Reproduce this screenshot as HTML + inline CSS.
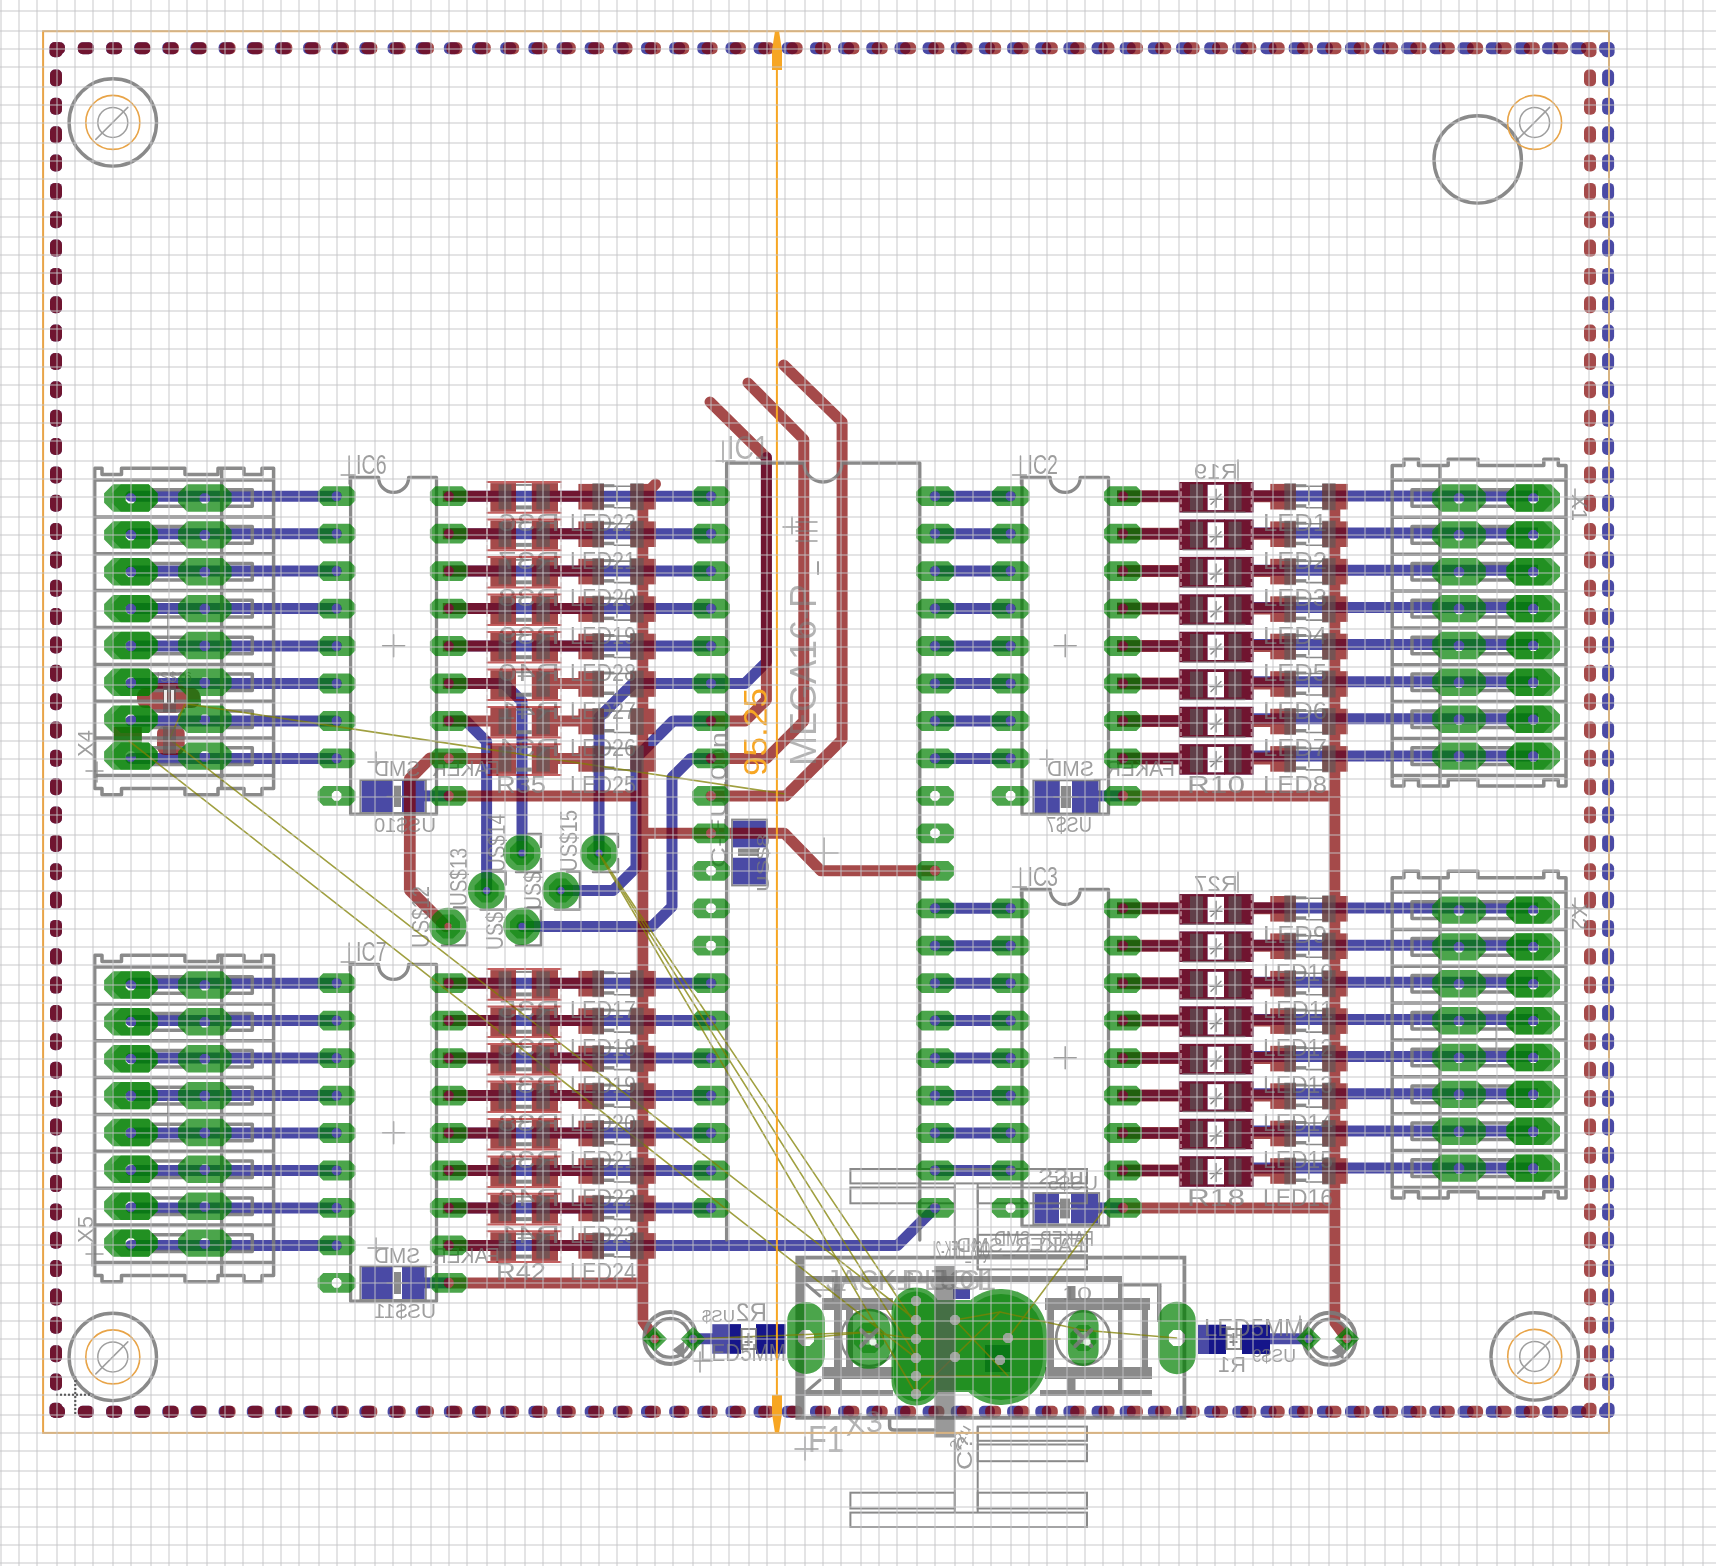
<!DOCTYPE html>
<html><head><meta charset="utf-8"><title>board</title>
<style>html,body{margin:0;padding:0;background:#fff}svg{display:block}text{font-family:"Liberation Sans",sans-serif}</style></head>
<body>
<svg width="1716" height="1566" viewBox="0 0 1716 1566">
<rect width="1716" height="1566" fill="#ffffff"/>
<g id="l_bot" color="#000080" opacity="0.706">
<rect x="49.5" y="42.2" width="13" height="15" rx="5" fill="currentColor"/>
<rect x="50" y="42.2" width="15" height="12" rx="5" fill="currentColor"/>
<rect x="49.5" y="1402.8" width="13" height="15" rx="5" fill="currentColor"/>
<rect x="50" y="1405.8" width="15" height="12" rx="5" fill="currentColor"/>
<rect x="77.8" y="42.2" width="16" height="12" rx="5" fill="currentColor"/>
<rect x="77.8" y="1405.8" width="16" height="12" rx="5" fill="currentColor"/>
<rect x="106" y="42.2" width="16" height="12" rx="5" fill="currentColor"/>
<rect x="106" y="1405.8" width="16" height="12" rx="5" fill="currentColor"/>
<rect x="134.1" y="42.2" width="16" height="12" rx="5" fill="currentColor"/>
<rect x="134.1" y="1405.8" width="16" height="12" rx="5" fill="currentColor"/>
<rect x="162.3" y="42.2" width="16" height="12" rx="5" fill="currentColor"/>
<rect x="162.3" y="1405.8" width="16" height="12" rx="5" fill="currentColor"/>
<rect x="190.4" y="42.2" width="16" height="12" rx="5" fill="currentColor"/>
<rect x="190.4" y="1405.8" width="16" height="12" rx="5" fill="currentColor"/>
<rect x="218.6" y="42.2" width="16" height="12" rx="5" fill="currentColor"/>
<rect x="218.6" y="1405.8" width="16" height="12" rx="5" fill="currentColor"/>
<rect x="246.8" y="42.2" width="16" height="12" rx="5" fill="currentColor"/>
<rect x="246.8" y="1405.8" width="16" height="12" rx="5" fill="currentColor"/>
<rect x="274.9" y="42.2" width="16" height="12" rx="5" fill="currentColor"/>
<rect x="274.9" y="1405.8" width="16" height="12" rx="5" fill="currentColor"/>
<rect x="303.1" y="42.2" width="16" height="12" rx="5" fill="currentColor"/>
<rect x="303.1" y="1405.8" width="16" height="12" rx="5" fill="currentColor"/>
<rect x="331.2" y="42.2" width="16" height="12" rx="5" fill="currentColor"/>
<rect x="331.2" y="1405.8" width="16" height="12" rx="5" fill="currentColor"/>
<rect x="359.4" y="42.2" width="16" height="12" rx="5" fill="currentColor"/>
<rect x="359.4" y="1405.8" width="16" height="12" rx="5" fill="currentColor"/>
<rect x="387.6" y="42.2" width="16" height="12" rx="5" fill="currentColor"/>
<rect x="387.6" y="1405.8" width="16" height="12" rx="5" fill="currentColor"/>
<rect x="415.7" y="42.2" width="16" height="12" rx="5" fill="currentColor"/>
<rect x="415.7" y="1405.8" width="16" height="12" rx="5" fill="currentColor"/>
<rect x="443.9" y="42.2" width="16" height="12" rx="5" fill="currentColor"/>
<rect x="443.9" y="1405.8" width="16" height="12" rx="5" fill="currentColor"/>
<rect x="472" y="42.2" width="16" height="12" rx="5" fill="currentColor"/>
<rect x="472" y="1405.8" width="16" height="12" rx="5" fill="currentColor"/>
<rect x="500.2" y="42.2" width="16" height="12" rx="5" fill="currentColor"/>
<rect x="500.2" y="1405.8" width="16" height="12" rx="5" fill="currentColor"/>
<rect x="528.4" y="42.2" width="16" height="12" rx="5" fill="currentColor"/>
<rect x="528.4" y="1405.8" width="16" height="12" rx="5" fill="currentColor"/>
<rect x="556.5" y="42.2" width="16" height="12" rx="5" fill="currentColor"/>
<rect x="556.5" y="1405.8" width="16" height="12" rx="5" fill="currentColor"/>
<rect x="584.7" y="42.2" width="16" height="12" rx="5" fill="currentColor"/>
<rect x="584.7" y="1405.8" width="16" height="12" rx="5" fill="currentColor"/>
<rect x="612.8" y="42.2" width="16" height="12" rx="5" fill="currentColor"/>
<rect x="612.8" y="1405.8" width="16" height="12" rx="5" fill="currentColor"/>
<rect x="641" y="42.2" width="16" height="12" rx="5" fill="currentColor"/>
<rect x="641" y="1405.8" width="16" height="12" rx="5" fill="currentColor"/>
<rect x="669.2" y="42.2" width="16" height="12" rx="5" fill="currentColor"/>
<rect x="669.2" y="1405.8" width="16" height="12" rx="5" fill="currentColor"/>
<rect x="697.3" y="42.2" width="16" height="12" rx="5" fill="currentColor"/>
<rect x="697.3" y="1405.8" width="16" height="12" rx="5" fill="currentColor"/>
<rect x="725.5" y="42.2" width="16" height="12" rx="5" fill="currentColor"/>
<rect x="725.5" y="1405.8" width="16" height="12" rx="5" fill="currentColor"/>
<rect x="753.6" y="42.2" width="16" height="12" rx="5" fill="currentColor"/>
<rect x="753.6" y="1405.8" width="16" height="12" rx="5" fill="currentColor"/>
<rect x="781.8" y="42.2" width="16" height="12" rx="5" fill="currentColor"/>
<rect x="781.8" y="1405.8" width="16" height="12" rx="5" fill="currentColor"/>
<rect x="810" y="42.2" width="16" height="12" rx="5" fill="currentColor"/>
<rect x="810" y="1405.8" width="16" height="12" rx="5" fill="currentColor"/>
<rect x="838.1" y="42.2" width="16" height="12" rx="5" fill="currentColor"/>
<rect x="838.1" y="1405.8" width="16" height="12" rx="5" fill="currentColor"/>
<rect x="866.3" y="42.2" width="16" height="12" rx="5" fill="currentColor"/>
<rect x="866.3" y="1405.8" width="16" height="12" rx="5" fill="currentColor"/>
<rect x="894.5" y="42.2" width="16" height="12" rx="5" fill="currentColor"/>
<rect x="894.5" y="1405.8" width="16" height="12" rx="5" fill="currentColor"/>
<rect x="922.6" y="42.2" width="16" height="12" rx="5" fill="currentColor"/>
<rect x="922.6" y="1405.8" width="16" height="12" rx="5" fill="currentColor"/>
<rect x="950.8" y="42.2" width="16" height="12" rx="5" fill="currentColor"/>
<rect x="950.8" y="1405.8" width="16" height="12" rx="5" fill="currentColor"/>
<rect x="978.9" y="42.2" width="16" height="12" rx="5" fill="currentColor"/>
<rect x="978.9" y="1405.8" width="16" height="12" rx="5" fill="currentColor"/>
<rect x="1007.1" y="42.2" width="16" height="12" rx="5" fill="currentColor"/>
<rect x="1007.1" y="1405.8" width="16" height="12" rx="5" fill="currentColor"/>
<rect x="1035.3" y="42.2" width="16" height="12" rx="5" fill="currentColor"/>
<rect x="1035.3" y="1405.8" width="16" height="12" rx="5" fill="currentColor"/>
<rect x="1063.4" y="42.2" width="16" height="12" rx="5" fill="currentColor"/>
<rect x="1063.4" y="1405.8" width="16" height="12" rx="5" fill="currentColor"/>
<rect x="1091.6" y="42.2" width="16" height="12" rx="5" fill="currentColor"/>
<rect x="1091.6" y="1405.8" width="16" height="12" rx="5" fill="currentColor"/>
<rect x="1119.7" y="42.2" width="16" height="12" rx="5" fill="currentColor"/>
<rect x="1119.7" y="1405.8" width="16" height="12" rx="5" fill="currentColor"/>
<rect x="1147.9" y="42.2" width="16" height="12" rx="5" fill="currentColor"/>
<rect x="1147.9" y="1405.8" width="16" height="12" rx="5" fill="currentColor"/>
<rect x="1176.1" y="42.2" width="16" height="12" rx="5" fill="currentColor"/>
<rect x="1176.1" y="1405.8" width="16" height="12" rx="5" fill="currentColor"/>
<rect x="1204.2" y="42.2" width="16" height="12" rx="5" fill="currentColor"/>
<rect x="1204.2" y="1405.8" width="16" height="12" rx="5" fill="currentColor"/>
<rect x="1232.4" y="42.2" width="16" height="12" rx="5" fill="currentColor"/>
<rect x="1232.4" y="1405.8" width="16" height="12" rx="5" fill="currentColor"/>
<rect x="1260.5" y="42.2" width="16" height="12" rx="5" fill="currentColor"/>
<rect x="1260.5" y="1405.8" width="16" height="12" rx="5" fill="currentColor"/>
<rect x="1288.7" y="42.2" width="16" height="12" rx="5" fill="currentColor"/>
<rect x="1288.7" y="1405.8" width="16" height="12" rx="5" fill="currentColor"/>
<rect x="1316.9" y="42.2" width="16" height="12" rx="5" fill="currentColor"/>
<rect x="1316.9" y="1405.8" width="16" height="12" rx="5" fill="currentColor"/>
<rect x="1345" y="42.2" width="16" height="12" rx="5" fill="currentColor"/>
<rect x="1345" y="1405.8" width="16" height="12" rx="5" fill="currentColor"/>
<rect x="1373.2" y="42.2" width="16" height="12" rx="5" fill="currentColor"/>
<rect x="1373.2" y="1405.8" width="16" height="12" rx="5" fill="currentColor"/>
<rect x="1401.3" y="42.2" width="16" height="12" rx="5" fill="currentColor"/>
<rect x="1401.3" y="1405.8" width="16" height="12" rx="5" fill="currentColor"/>
<rect x="1429.5" y="42.2" width="16" height="12" rx="5" fill="currentColor"/>
<rect x="1429.5" y="1405.8" width="16" height="12" rx="5" fill="currentColor"/>
<rect x="1457.7" y="42.2" width="16" height="12" rx="5" fill="currentColor"/>
<rect x="1457.7" y="1405.8" width="16" height="12" rx="5" fill="currentColor"/>
<rect x="1485.8" y="42.2" width="16" height="12" rx="5" fill="currentColor"/>
<rect x="1485.8" y="1405.8" width="16" height="12" rx="5" fill="currentColor"/>
<rect x="1514" y="42.2" width="16" height="12" rx="5" fill="currentColor"/>
<rect x="1514" y="1405.8" width="16" height="12" rx="5" fill="currentColor"/>
<rect x="1542.1" y="42.2" width="16" height="12" rx="5" fill="currentColor"/>
<rect x="1542.1" y="1405.8" width="16" height="12" rx="5" fill="currentColor"/>
<rect x="1570.3" y="42.2" width="16" height="12" rx="5" fill="currentColor"/>
<rect x="1570.3" y="1405.8" width="16" height="12" rx="5" fill="currentColor"/>
<rect x="1601.6" y="42.2" width="13" height="15" rx="5" fill="currentColor"/>
<rect x="1599.1" y="42.2" width="15" height="12" rx="5" fill="currentColor"/>
<rect x="1601.6" y="1402.8" width="13" height="15" rx="5" fill="currentColor"/>
<rect x="1599.1" y="1405.8" width="15" height="12" rx="5" fill="currentColor"/>
<rect x="50" y="69.5" width="12" height="17" rx="5" fill="currentColor"/>
<rect x="1602.1" y="69.5" width="12" height="17" rx="5" fill="currentColor"/>
<rect x="50" y="97.8" width="12" height="17" rx="5" fill="currentColor"/>
<rect x="1602.1" y="97.8" width="12" height="17" rx="5" fill="currentColor"/>
<rect x="50" y="126.2" width="12" height="17" rx="5" fill="currentColor"/>
<rect x="1602.1" y="126.2" width="12" height="17" rx="5" fill="currentColor"/>
<rect x="50" y="154.5" width="12" height="17" rx="5" fill="currentColor"/>
<rect x="1602.1" y="154.5" width="12" height="17" rx="5" fill="currentColor"/>
<rect x="50" y="182.9" width="12" height="17" rx="5" fill="currentColor"/>
<rect x="1602.1" y="182.9" width="12" height="17" rx="5" fill="currentColor"/>
<rect x="50" y="211.2" width="12" height="17" rx="5" fill="currentColor"/>
<rect x="1602.1" y="211.2" width="12" height="17" rx="5" fill="currentColor"/>
<rect x="50" y="239.6" width="12" height="17" rx="5" fill="currentColor"/>
<rect x="1602.1" y="239.6" width="12" height="17" rx="5" fill="currentColor"/>
<rect x="50" y="267.9" width="12" height="17" rx="5" fill="currentColor"/>
<rect x="1602.1" y="267.9" width="12" height="17" rx="5" fill="currentColor"/>
<rect x="50" y="296.3" width="12" height="17" rx="5" fill="currentColor"/>
<rect x="1602.1" y="296.3" width="12" height="17" rx="5" fill="currentColor"/>
<rect x="50" y="324.6" width="12" height="17" rx="5" fill="currentColor"/>
<rect x="1602.1" y="324.6" width="12" height="17" rx="5" fill="currentColor"/>
<rect x="50" y="353" width="12" height="17" rx="5" fill="currentColor"/>
<rect x="1602.1" y="353" width="12" height="17" rx="5" fill="currentColor"/>
<rect x="50" y="381.3" width="12" height="17" rx="5" fill="currentColor"/>
<rect x="1602.1" y="381.3" width="12" height="17" rx="5" fill="currentColor"/>
<rect x="50" y="409.7" width="12" height="17" rx="5" fill="currentColor"/>
<rect x="1602.1" y="409.7" width="12" height="17" rx="5" fill="currentColor"/>
<rect x="50" y="438" width="12" height="17" rx="5" fill="currentColor"/>
<rect x="1602.1" y="438" width="12" height="17" rx="5" fill="currentColor"/>
<rect x="50" y="466.4" width="12" height="17" rx="5" fill="currentColor"/>
<rect x="1602.1" y="466.4" width="12" height="17" rx="5" fill="currentColor"/>
<rect x="50" y="494.7" width="12" height="17" rx="5" fill="currentColor"/>
<rect x="1602.1" y="494.7" width="12" height="17" rx="5" fill="currentColor"/>
<rect x="50" y="523.1" width="12" height="17" rx="5" fill="currentColor"/>
<rect x="1602.1" y="523.1" width="12" height="17" rx="5" fill="currentColor"/>
<rect x="50" y="551.4" width="12" height="17" rx="5" fill="currentColor"/>
<rect x="1602.1" y="551.4" width="12" height="17" rx="5" fill="currentColor"/>
<rect x="50" y="579.8" width="12" height="17" rx="5" fill="currentColor"/>
<rect x="1602.1" y="579.8" width="12" height="17" rx="5" fill="currentColor"/>
<rect x="50" y="608.1" width="12" height="17" rx="5" fill="currentColor"/>
<rect x="1602.1" y="608.1" width="12" height="17" rx="5" fill="currentColor"/>
<rect x="50" y="636.5" width="12" height="17" rx="5" fill="currentColor"/>
<rect x="1602.1" y="636.5" width="12" height="17" rx="5" fill="currentColor"/>
<rect x="50" y="664.8" width="12" height="17" rx="5" fill="currentColor"/>
<rect x="1602.1" y="664.8" width="12" height="17" rx="5" fill="currentColor"/>
<rect x="50" y="693.2" width="12" height="17" rx="5" fill="currentColor"/>
<rect x="1602.1" y="693.2" width="12" height="17" rx="5" fill="currentColor"/>
<rect x="50" y="721.5" width="12" height="17" rx="5" fill="currentColor"/>
<rect x="1602.1" y="721.5" width="12" height="17" rx="5" fill="currentColor"/>
<rect x="50" y="749.8" width="12" height="17" rx="5" fill="currentColor"/>
<rect x="1602.1" y="749.8" width="12" height="17" rx="5" fill="currentColor"/>
<rect x="50" y="778.2" width="12" height="17" rx="5" fill="currentColor"/>
<rect x="1602.1" y="778.2" width="12" height="17" rx="5" fill="currentColor"/>
<rect x="50" y="806.5" width="12" height="17" rx="5" fill="currentColor"/>
<rect x="1602.1" y="806.5" width="12" height="17" rx="5" fill="currentColor"/>
<rect x="50" y="834.9" width="12" height="17" rx="5" fill="currentColor"/>
<rect x="1602.1" y="834.9" width="12" height="17" rx="5" fill="currentColor"/>
<rect x="50" y="863.2" width="12" height="17" rx="5" fill="currentColor"/>
<rect x="1602.1" y="863.2" width="12" height="17" rx="5" fill="currentColor"/>
<rect x="50" y="891.6" width="12" height="17" rx="5" fill="currentColor"/>
<rect x="1602.1" y="891.6" width="12" height="17" rx="5" fill="currentColor"/>
<rect x="50" y="919.9" width="12" height="17" rx="5" fill="currentColor"/>
<rect x="1602.1" y="919.9" width="12" height="17" rx="5" fill="currentColor"/>
<rect x="50" y="948.3" width="12" height="17" rx="5" fill="currentColor"/>
<rect x="1602.1" y="948.3" width="12" height="17" rx="5" fill="currentColor"/>
<rect x="50" y="976.6" width="12" height="17" rx="5" fill="currentColor"/>
<rect x="1602.1" y="976.6" width="12" height="17" rx="5" fill="currentColor"/>
<rect x="50" y="1005" width="12" height="17" rx="5" fill="currentColor"/>
<rect x="1602.1" y="1005" width="12" height="17" rx="5" fill="currentColor"/>
<rect x="50" y="1033.3" width="12" height="17" rx="5" fill="currentColor"/>
<rect x="1602.1" y="1033.3" width="12" height="17" rx="5" fill="currentColor"/>
<rect x="50" y="1061.7" width="12" height="17" rx="5" fill="currentColor"/>
<rect x="1602.1" y="1061.7" width="12" height="17" rx="5" fill="currentColor"/>
<rect x="50" y="1090" width="12" height="17" rx="5" fill="currentColor"/>
<rect x="1602.1" y="1090" width="12" height="17" rx="5" fill="currentColor"/>
<rect x="50" y="1118.4" width="12" height="17" rx="5" fill="currentColor"/>
<rect x="1602.1" y="1118.4" width="12" height="17" rx="5" fill="currentColor"/>
<rect x="50" y="1146.7" width="12" height="17" rx="5" fill="currentColor"/>
<rect x="1602.1" y="1146.7" width="12" height="17" rx="5" fill="currentColor"/>
<rect x="50" y="1175.1" width="12" height="17" rx="5" fill="currentColor"/>
<rect x="1602.1" y="1175.1" width="12" height="17" rx="5" fill="currentColor"/>
<rect x="50" y="1203.4" width="12" height="17" rx="5" fill="currentColor"/>
<rect x="1602.1" y="1203.4" width="12" height="17" rx="5" fill="currentColor"/>
<rect x="50" y="1231.8" width="12" height="17" rx="5" fill="currentColor"/>
<rect x="1602.1" y="1231.8" width="12" height="17" rx="5" fill="currentColor"/>
<rect x="50" y="1260.1" width="12" height="17" rx="5" fill="currentColor"/>
<rect x="1602.1" y="1260.1" width="12" height="17" rx="5" fill="currentColor"/>
<rect x="50" y="1288.5" width="12" height="17" rx="5" fill="currentColor"/>
<rect x="1602.1" y="1288.5" width="12" height="17" rx="5" fill="currentColor"/>
<rect x="50" y="1316.8" width="12" height="17" rx="5" fill="currentColor"/>
<rect x="1602.1" y="1316.8" width="12" height="17" rx="5" fill="currentColor"/>
<rect x="50" y="1345.2" width="12" height="17" rx="5" fill="currentColor"/>
<rect x="1602.1" y="1345.2" width="12" height="17" rx="5" fill="currentColor"/>
<rect x="50" y="1373.5" width="12" height="17" rx="5" fill="currentColor"/>
<rect x="1602.1" y="1373.5" width="12" height="17" rx="5" fill="currentColor"/>
<rect x="1179" y="482" width="28.5" height="30.4" fill="currentColor"/>
<rect x="1224" y="482" width="29.6" height="30.4" fill="currentColor"/>
<rect x="1207" y="482" width="18" height="2.7" fill="currentColor"/>
<rect x="1207" y="510.2" width="18" height="2.2" fill="currentColor"/>
<rect x="1179" y="519.5" width="28.5" height="30.4" fill="currentColor"/>
<rect x="1224" y="519.5" width="29.6" height="30.4" fill="currentColor"/>
<rect x="1207" y="519.5" width="18" height="2.7" fill="currentColor"/>
<rect x="1207" y="547.7" width="18" height="2.2" fill="currentColor"/>
<rect x="1179" y="556.9" width="28.5" height="30.4" fill="currentColor"/>
<rect x="1224" y="556.9" width="29.6" height="30.4" fill="currentColor"/>
<rect x="1207" y="556.9" width="18" height="2.7" fill="currentColor"/>
<rect x="1207" y="585.1" width="18" height="2.2" fill="currentColor"/>
<rect x="1179" y="594.4" width="28.5" height="30.4" fill="currentColor"/>
<rect x="1224" y="594.4" width="29.6" height="30.4" fill="currentColor"/>
<rect x="1207" y="594.4" width="18" height="2.7" fill="currentColor"/>
<rect x="1207" y="622.6" width="18" height="2.2" fill="currentColor"/>
<rect x="1179" y="631.8" width="28.5" height="30.4" fill="currentColor"/>
<rect x="1224" y="631.8" width="29.6" height="30.4" fill="currentColor"/>
<rect x="1207" y="631.8" width="18" height="2.7" fill="currentColor"/>
<rect x="1207" y="660" width="18" height="2.2" fill="currentColor"/>
<rect x="1179" y="669.3" width="28.5" height="30.4" fill="currentColor"/>
<rect x="1224" y="669.3" width="29.6" height="30.4" fill="currentColor"/>
<rect x="1207" y="669.3" width="18" height="2.7" fill="currentColor"/>
<rect x="1207" y="697.5" width="18" height="2.2" fill="currentColor"/>
<rect x="1179" y="706.8" width="28.5" height="30.4" fill="currentColor"/>
<rect x="1224" y="706.8" width="29.6" height="30.4" fill="currentColor"/>
<rect x="1207" y="706.8" width="18" height="2.7" fill="currentColor"/>
<rect x="1207" y="735" width="18" height="2.2" fill="currentColor"/>
<rect x="1179" y="744.2" width="28.5" height="30.4" fill="currentColor"/>
<rect x="1224" y="744.2" width="29.6" height="30.4" fill="currentColor"/>
<rect x="1207" y="744.2" width="18" height="2.7" fill="currentColor"/>
<rect x="1207" y="772.4" width="18" height="2.2" fill="currentColor"/>
<rect x="1179" y="894.1" width="28.5" height="30.4" fill="currentColor"/>
<rect x="1224" y="894.1" width="29.6" height="30.4" fill="currentColor"/>
<rect x="1207" y="894.1" width="18" height="2.7" fill="currentColor"/>
<rect x="1207" y="922.3" width="18" height="2.2" fill="currentColor"/>
<rect x="1179" y="931.5" width="28.5" height="30.4" fill="currentColor"/>
<rect x="1224" y="931.5" width="29.6" height="30.4" fill="currentColor"/>
<rect x="1207" y="931.5" width="18" height="2.7" fill="currentColor"/>
<rect x="1207" y="959.7" width="18" height="2.2" fill="currentColor"/>
<rect x="1179" y="969" width="28.5" height="30.4" fill="currentColor"/>
<rect x="1224" y="969" width="29.6" height="30.4" fill="currentColor"/>
<rect x="1207" y="969" width="18" height="2.7" fill="currentColor"/>
<rect x="1207" y="997.2" width="18" height="2.2" fill="currentColor"/>
<rect x="1179" y="1006.4" width="28.5" height="30.4" fill="currentColor"/>
<rect x="1224" y="1006.4" width="29.6" height="30.4" fill="currentColor"/>
<rect x="1207" y="1006.4" width="18" height="2.7" fill="currentColor"/>
<rect x="1207" y="1034.6" width="18" height="2.2" fill="currentColor"/>
<rect x="1179" y="1043.9" width="28.5" height="30.4" fill="currentColor"/>
<rect x="1224" y="1043.9" width="29.6" height="30.4" fill="currentColor"/>
<rect x="1207" y="1043.9" width="18" height="2.7" fill="currentColor"/>
<rect x="1207" y="1072.1" width="18" height="2.2" fill="currentColor"/>
<rect x="1179" y="1081.4" width="28.5" height="30.4" fill="currentColor"/>
<rect x="1224" y="1081.4" width="29.6" height="30.4" fill="currentColor"/>
<rect x="1207" y="1081.4" width="18" height="2.7" fill="currentColor"/>
<rect x="1207" y="1109.6" width="18" height="2.2" fill="currentColor"/>
<rect x="1179" y="1118.8" width="28.5" height="30.4" fill="currentColor"/>
<rect x="1224" y="1118.8" width="29.6" height="30.4" fill="currentColor"/>
<rect x="1207" y="1118.8" width="18" height="2.7" fill="currentColor"/>
<rect x="1207" y="1147" width="18" height="2.2" fill="currentColor"/>
<rect x="1179" y="1156.3" width="28.5" height="30.4" fill="currentColor"/>
<rect x="1224" y="1156.3" width="29.6" height="30.4" fill="currentColor"/>
<rect x="1207" y="1156.3" width="18" height="2.7" fill="currentColor"/>
<rect x="1207" y="1184.5" width="18" height="2.2" fill="currentColor"/>
<path d="M130.8 496.2 L336.6 496.2" fill="none" stroke="currentColor" stroke-width="11" stroke-linecap="round" stroke-linejoin="round"/>
<path d="M130.8 533.7 L336.6 533.7" fill="none" stroke="currentColor" stroke-width="11" stroke-linecap="round" stroke-linejoin="round"/>
<path d="M130.8 571.1 L336.6 571.1" fill="none" stroke="currentColor" stroke-width="11" stroke-linecap="round" stroke-linejoin="round"/>
<path d="M130.8 608.6 L336.6 608.6" fill="none" stroke="currentColor" stroke-width="11" stroke-linecap="round" stroke-linejoin="round"/>
<path d="M130.8 646 L336.6 646" fill="none" stroke="currentColor" stroke-width="11" stroke-linecap="round" stroke-linejoin="round"/>
<path d="M130.8 683.5 L336.6 683.5" fill="none" stroke="currentColor" stroke-width="11" stroke-linecap="round" stroke-linejoin="round"/>
<path d="M130.8 721 L336.6 721" fill="none" stroke="currentColor" stroke-width="11" stroke-linecap="round" stroke-linejoin="round"/>
<path d="M130.8 758.4 L336.6 758.4" fill="none" stroke="currentColor" stroke-width="11" stroke-linecap="round" stroke-linejoin="round"/>
<path d="M130.8 983.2 L336.6 983.2" fill="none" stroke="currentColor" stroke-width="11" stroke-linecap="round" stroke-linejoin="round"/>
<path d="M130.8 1020.6 L336.6 1020.6" fill="none" stroke="currentColor" stroke-width="11" stroke-linecap="round" stroke-linejoin="round"/>
<path d="M130.8 1058.1 L336.6 1058.1" fill="none" stroke="currentColor" stroke-width="11" stroke-linecap="round" stroke-linejoin="round"/>
<path d="M130.8 1095.6 L336.6 1095.6" fill="none" stroke="currentColor" stroke-width="11" stroke-linecap="round" stroke-linejoin="round"/>
<path d="M130.8 1133 L336.6 1133" fill="none" stroke="currentColor" stroke-width="11" stroke-linecap="round" stroke-linejoin="round"/>
<path d="M130.8 1170.5 L336.6 1170.5" fill="none" stroke="currentColor" stroke-width="11" stroke-linecap="round" stroke-linejoin="round"/>
<path d="M130.8 1207.9 L336.6 1207.9" fill="none" stroke="currentColor" stroke-width="11" stroke-linecap="round" stroke-linejoin="round"/>
<path d="M130.8 1245.4 L336.6 1245.4" fill="none" stroke="currentColor" stroke-width="11" stroke-linecap="round" stroke-linejoin="round"/>
<path d="M935 496.2 L1010.6 496.2" fill="none" stroke="currentColor" stroke-width="11" stroke-linecap="round" stroke-linejoin="round"/>
<path d="M1117 496.2 L1195 496.2" fill="none" stroke="currentColor" stroke-width="11" stroke-linecap="butt" stroke-linejoin="round"/>
<path d="M1238 496 L1538 496" fill="none" stroke="currentColor" stroke-width="11" stroke-linecap="butt" stroke-linejoin="round"/>
<path d="M935 533.7 L1010.6 533.7" fill="none" stroke="currentColor" stroke-width="11" stroke-linecap="round" stroke-linejoin="round"/>
<path d="M1117 533.7 L1195 533.7" fill="none" stroke="currentColor" stroke-width="11" stroke-linecap="butt" stroke-linejoin="round"/>
<path d="M1238 533.1 L1538 533.1" fill="none" stroke="currentColor" stroke-width="11" stroke-linecap="butt" stroke-linejoin="round"/>
<path d="M935 571.1 L1010.6 571.1" fill="none" stroke="currentColor" stroke-width="11" stroke-linecap="round" stroke-linejoin="round"/>
<path d="M1117 571.1 L1195 571.1" fill="none" stroke="currentColor" stroke-width="11" stroke-linecap="butt" stroke-linejoin="round"/>
<path d="M1238 570.3 L1538 570.3" fill="none" stroke="currentColor" stroke-width="11" stroke-linecap="butt" stroke-linejoin="round"/>
<path d="M935 608.6 L1010.6 608.6" fill="none" stroke="currentColor" stroke-width="11" stroke-linecap="round" stroke-linejoin="round"/>
<path d="M1117 608.6 L1195 608.6" fill="none" stroke="currentColor" stroke-width="11" stroke-linecap="butt" stroke-linejoin="round"/>
<path d="M1238 607.4 L1538 607.4" fill="none" stroke="currentColor" stroke-width="11" stroke-linecap="butt" stroke-linejoin="round"/>
<path d="M935 646 L1010.6 646" fill="none" stroke="currentColor" stroke-width="11" stroke-linecap="round" stroke-linejoin="round"/>
<path d="M1117 646 L1195 646" fill="none" stroke="currentColor" stroke-width="11" stroke-linecap="butt" stroke-linejoin="round"/>
<path d="M1238 644.6 L1538 644.6" fill="none" stroke="currentColor" stroke-width="11" stroke-linecap="butt" stroke-linejoin="round"/>
<path d="M935 683.5 L1010.6 683.5" fill="none" stroke="currentColor" stroke-width="11" stroke-linecap="round" stroke-linejoin="round"/>
<path d="M1117 683.5 L1195 683.5" fill="none" stroke="currentColor" stroke-width="11" stroke-linecap="butt" stroke-linejoin="round"/>
<path d="M1238 681.7 L1538 681.7" fill="none" stroke="currentColor" stroke-width="11" stroke-linecap="butt" stroke-linejoin="round"/>
<path d="M935 721 L1010.6 721" fill="none" stroke="currentColor" stroke-width="11" stroke-linecap="round" stroke-linejoin="round"/>
<path d="M1117 721 L1195 721" fill="none" stroke="currentColor" stroke-width="11" stroke-linecap="butt" stroke-linejoin="round"/>
<path d="M1238 718.8 L1538 718.8" fill="none" stroke="currentColor" stroke-width="11" stroke-linecap="butt" stroke-linejoin="round"/>
<path d="M935 758.4 L1010.6 758.4" fill="none" stroke="currentColor" stroke-width="11" stroke-linecap="round" stroke-linejoin="round"/>
<path d="M1117 758.4 L1195 758.4" fill="none" stroke="currentColor" stroke-width="11" stroke-linecap="butt" stroke-linejoin="round"/>
<path d="M1238 756 L1538 756" fill="none" stroke="currentColor" stroke-width="11" stroke-linecap="butt" stroke-linejoin="round"/>
<path d="M935 908.3 L1010.6 908.3" fill="none" stroke="currentColor" stroke-width="11" stroke-linecap="round" stroke-linejoin="round"/>
<path d="M1117 908.3 L1195 908.3" fill="none" stroke="currentColor" stroke-width="11" stroke-linecap="butt" stroke-linejoin="round"/>
<path d="M1238 908.1 L1538 908.1" fill="none" stroke="currentColor" stroke-width="11" stroke-linecap="butt" stroke-linejoin="round"/>
<path d="M935 945.7 L1010.6 945.7" fill="none" stroke="currentColor" stroke-width="11" stroke-linecap="round" stroke-linejoin="round"/>
<path d="M1117 945.7 L1195 945.7" fill="none" stroke="currentColor" stroke-width="11" stroke-linecap="butt" stroke-linejoin="round"/>
<path d="M1238 945.2 L1538 945.2" fill="none" stroke="currentColor" stroke-width="11" stroke-linecap="butt" stroke-linejoin="round"/>
<path d="M935 983.2 L1010.6 983.2" fill="none" stroke="currentColor" stroke-width="11" stroke-linecap="round" stroke-linejoin="round"/>
<path d="M1117 983.2 L1195 983.2" fill="none" stroke="currentColor" stroke-width="11" stroke-linecap="butt" stroke-linejoin="round"/>
<path d="M1238 982.3 L1538 982.3" fill="none" stroke="currentColor" stroke-width="11" stroke-linecap="butt" stroke-linejoin="round"/>
<path d="M935 1020.6 L1010.6 1020.6" fill="none" stroke="currentColor" stroke-width="11" stroke-linecap="round" stroke-linejoin="round"/>
<path d="M1117 1020.6 L1195 1020.6" fill="none" stroke="currentColor" stroke-width="11" stroke-linecap="butt" stroke-linejoin="round"/>
<path d="M1238 1019.5 L1538 1019.5" fill="none" stroke="currentColor" stroke-width="11" stroke-linecap="butt" stroke-linejoin="round"/>
<path d="M935 1058.1 L1010.6 1058.1" fill="none" stroke="currentColor" stroke-width="11" stroke-linecap="round" stroke-linejoin="round"/>
<path d="M1117 1058.1 L1195 1058.1" fill="none" stroke="currentColor" stroke-width="11" stroke-linecap="butt" stroke-linejoin="round"/>
<path d="M1238 1056.6 L1538 1056.6" fill="none" stroke="currentColor" stroke-width="11" stroke-linecap="butt" stroke-linejoin="round"/>
<path d="M935 1095.6 L1010.6 1095.6" fill="none" stroke="currentColor" stroke-width="11" stroke-linecap="round" stroke-linejoin="round"/>
<path d="M1117 1095.6 L1195 1095.6" fill="none" stroke="currentColor" stroke-width="11" stroke-linecap="butt" stroke-linejoin="round"/>
<path d="M1238 1093.8 L1538 1093.8" fill="none" stroke="currentColor" stroke-width="11" stroke-linecap="butt" stroke-linejoin="round"/>
<path d="M935 1133 L1010.6 1133" fill="none" stroke="currentColor" stroke-width="11" stroke-linecap="round" stroke-linejoin="round"/>
<path d="M1117 1133 L1195 1133" fill="none" stroke="currentColor" stroke-width="11" stroke-linecap="butt" stroke-linejoin="round"/>
<path d="M1238 1130.9 L1538 1130.9" fill="none" stroke="currentColor" stroke-width="11" stroke-linecap="butt" stroke-linejoin="round"/>
<path d="M935 1170.5 L1010.6 1170.5" fill="none" stroke="currentColor" stroke-width="11" stroke-linecap="round" stroke-linejoin="round"/>
<path d="M1117 1170.5 L1195 1170.5" fill="none" stroke="currentColor" stroke-width="11" stroke-linecap="butt" stroke-linejoin="round"/>
<path d="M1238 1168 L1538 1168" fill="none" stroke="currentColor" stroke-width="11" stroke-linecap="butt" stroke-linejoin="round"/>
<path d="M448.8 496.2 L711 496.2" fill="none" stroke="currentColor" stroke-width="11" stroke-linecap="round" stroke-linejoin="round"/>
<path d="M448.8 533.7 L711 533.7" fill="none" stroke="currentColor" stroke-width="11" stroke-linecap="round" stroke-linejoin="round"/>
<path d="M448.8 571.1 L711 571.1" fill="none" stroke="currentColor" stroke-width="11" stroke-linecap="round" stroke-linejoin="round"/>
<path d="M448.8 608.6 L711 608.6" fill="none" stroke="currentColor" stroke-width="11" stroke-linecap="round" stroke-linejoin="round"/>
<path d="M448.8 646 L711 646" fill="none" stroke="currentColor" stroke-width="11" stroke-linecap="round" stroke-linejoin="round"/>
<path d="M448.8 983.2 L711 983.2" fill="none" stroke="currentColor" stroke-width="11" stroke-linecap="round" stroke-linejoin="round"/>
<path d="M448.8 1020.6 L711 1020.6" fill="none" stroke="currentColor" stroke-width="11" stroke-linecap="round" stroke-linejoin="round"/>
<path d="M448.8 1058.1 L711 1058.1" fill="none" stroke="currentColor" stroke-width="11" stroke-linecap="round" stroke-linejoin="round"/>
<path d="M448.8 1095.6 L711 1095.6" fill="none" stroke="currentColor" stroke-width="11" stroke-linecap="round" stroke-linejoin="round"/>
<path d="M448.8 1133 L711 1133" fill="none" stroke="currentColor" stroke-width="11" stroke-linecap="round" stroke-linejoin="round"/>
<path d="M448.8 1170.5 L711 1170.5" fill="none" stroke="currentColor" stroke-width="11" stroke-linecap="round" stroke-linejoin="round"/>
<path d="M448.8 1207.9 L711 1207.9" fill="none" stroke="currentColor" stroke-width="11" stroke-linecap="round" stroke-linejoin="round"/>
<path d="M448.8 683.5 L504 683.5 L522 701.5 L522 853" fill="none" stroke="currentColor" stroke-width="11" stroke-linecap="round" stroke-linejoin="round"/>
<path d="M711 683.5 L633 683.5 L599 717.5 L599 853" fill="none" stroke="currentColor" stroke-width="11" stroke-linecap="round" stroke-linejoin="round"/>
<path d="M448.8 721 L466 721 L486.6 741.6 L486.6 890.6" fill="none" stroke="currentColor" stroke-width="11" stroke-linecap="round" stroke-linejoin="round"/>
<path d="M711 721 L673 721 L636 758 L636 867.6 L613 890.6 L561 890.6" fill="none" stroke="currentColor" stroke-width="11" stroke-linecap="round" stroke-linejoin="round"/>
<path d="M711 758.4 L691 758.4 L672 777.4 L672 906.7 L652 926.4 L522 926.4" fill="none" stroke="currentColor" stroke-width="11" stroke-linecap="round" stroke-linejoin="round"/>
<path d="M448.8 795.9 L424 795.9" fill="none" stroke="currentColor" stroke-width="11" stroke-linecap="butt" stroke-linejoin="round"/>
<path d="M448.8 1282.9 L424 1282.9" fill="none" stroke="currentColor" stroke-width="11" stroke-linecap="butt" stroke-linejoin="round"/>
<path d="M1123 795.9 L1098 795.9" fill="none" stroke="currentColor" stroke-width="11" stroke-linecap="butt" stroke-linejoin="round"/>
<path d="M1123 1207.9 L1098 1207.9" fill="none" stroke="currentColor" stroke-width="11" stroke-linecap="butt" stroke-linejoin="round"/>
<path d="M448.8 1245.4 L897.5 1245.4 L935 1207.9" fill="none" stroke="currentColor" stroke-width="11" stroke-linecap="round" stroke-linejoin="round"/>
<path d="M711 683.5 L745 683.5 L766.4 662.1 L766.4 457.5" fill="none" stroke="currentColor" stroke-width="11" stroke-linecap="round" stroke-linejoin="round"/>
<rect x="361.5" y="780.7" width="31.5" height="31.3" fill="currentColor"/>
<rect x="402" y="780.7" width="22.7" height="31.3" fill="currentColor"/>
<rect x="361.5" y="1267" width="31.5" height="32" fill="currentColor"/>
<rect x="402" y="1267" width="22.7" height="32" fill="currentColor"/>
<rect x="1034.5" y="781" width="25.3" height="32" fill="currentColor"/>
<rect x="1072" y="781" width="26.5" height="32" fill="currentColor"/>
<rect x="1034.5" y="1193.6" width="24.5" height="29.8" fill="currentColor"/>
<rect x="1071" y="1193.6" width="27" height="29.8" fill="currentColor"/>
<rect x="733" y="820.6" width="32.9" height="26.8" fill="currentColor"/>
<rect x="733" y="857.7" width="32.9" height="26.8" fill="currentColor"/>
<path d="M693 1338.7 L720 1338.7" fill="none" stroke="currentColor" stroke-width="11" stroke-linecap="round" stroke-linejoin="round"/>
<path d="M1250 1338.8 L1308.6 1338.8" fill="none" stroke="currentColor" stroke-width="11" stroke-linecap="round" stroke-linejoin="round"/>
<rect x="712.3" y="1324.2" width="28.7" height="29.5" fill="currentColor"/>
<rect x="756" y="1324.2" width="29.4" height="29.5" fill="currentColor"/>
<rect x="1198" y="1324.8" width="28" height="29.2" fill="currentColor"/>
<rect x="1242" y="1324.8" width="28" height="29.2" fill="currentColor"/>
<rect x="953" y="1289" width="17" height="10" fill="currentColor"/>
<rect x="985" y="1345" width="25" height="27" fill="currentColor"/>
</g>
<g id="l_bot2" color="#000080" opacity="0.706">
<rect x="730" y="1324.2" width="11" height="29.5" fill="currentColor"/>
<rect x="756" y="1324.2" width="29.4" height="29.5" fill="currentColor"/>
<rect x="1209" y="1324.8" width="17" height="29.2" fill="currentColor"/>
<rect x="1242" y="1324.8" width="28" height="29.2" fill="currentColor"/>
</g>
<g id="l_top" color="#800000" opacity="0.706">
<rect x="49.5" y="42.2" width="13" height="15" rx="5" fill="currentColor"/>
<rect x="50" y="42.2" width="15" height="12" rx="5" fill="currentColor"/>
<rect x="49.5" y="1402.8" width="13" height="15" rx="5" fill="currentColor"/>
<rect x="50" y="1405.8" width="15" height="12" rx="5" fill="currentColor"/>
<rect x="77.8" y="42.2" width="16" height="12" rx="5" fill="currentColor"/>
<rect x="77.8" y="1405.8" width="16" height="12" rx="5" fill="currentColor"/>
<rect x="106.2" y="42.2" width="16" height="12" rx="5" fill="currentColor"/>
<rect x="106.2" y="1405.8" width="16" height="12" rx="5" fill="currentColor"/>
<rect x="134.5" y="42.2" width="16" height="12" rx="5" fill="currentColor"/>
<rect x="134.5" y="1405.8" width="16" height="12" rx="5" fill="currentColor"/>
<rect x="162.9" y="42.2" width="16" height="12" rx="5" fill="currentColor"/>
<rect x="162.9" y="1405.8" width="16" height="12" rx="5" fill="currentColor"/>
<rect x="191.2" y="42.2" width="16" height="12" rx="5" fill="currentColor"/>
<rect x="191.2" y="1405.8" width="16" height="12" rx="5" fill="currentColor"/>
<rect x="219.6" y="42.2" width="16" height="12" rx="5" fill="currentColor"/>
<rect x="219.6" y="1405.8" width="16" height="12" rx="5" fill="currentColor"/>
<rect x="247.9" y="42.2" width="16" height="12" rx="5" fill="currentColor"/>
<rect x="247.9" y="1405.8" width="16" height="12" rx="5" fill="currentColor"/>
<rect x="276.3" y="42.2" width="16" height="12" rx="5" fill="currentColor"/>
<rect x="276.3" y="1405.8" width="16" height="12" rx="5" fill="currentColor"/>
<rect x="304.6" y="42.2" width="16" height="12" rx="5" fill="currentColor"/>
<rect x="304.6" y="1405.8" width="16" height="12" rx="5" fill="currentColor"/>
<rect x="333" y="42.2" width="16" height="12" rx="5" fill="currentColor"/>
<rect x="333" y="1405.8" width="16" height="12" rx="5" fill="currentColor"/>
<rect x="361.3" y="42.2" width="16" height="12" rx="5" fill="currentColor"/>
<rect x="361.3" y="1405.8" width="16" height="12" rx="5" fill="currentColor"/>
<rect x="389.7" y="42.2" width="16" height="12" rx="5" fill="currentColor"/>
<rect x="389.7" y="1405.8" width="16" height="12" rx="5" fill="currentColor"/>
<rect x="418" y="42.2" width="16" height="12" rx="5" fill="currentColor"/>
<rect x="418" y="1405.8" width="16" height="12" rx="5" fill="currentColor"/>
<rect x="446.4" y="42.2" width="16" height="12" rx="5" fill="currentColor"/>
<rect x="446.4" y="1405.8" width="16" height="12" rx="5" fill="currentColor"/>
<rect x="474.8" y="42.2" width="16" height="12" rx="5" fill="currentColor"/>
<rect x="474.8" y="1405.8" width="16" height="12" rx="5" fill="currentColor"/>
<rect x="503.1" y="42.2" width="16" height="12" rx="5" fill="currentColor"/>
<rect x="503.1" y="1405.8" width="16" height="12" rx="5" fill="currentColor"/>
<rect x="531.5" y="42.2" width="16" height="12" rx="5" fill="currentColor"/>
<rect x="531.5" y="1405.8" width="16" height="12" rx="5" fill="currentColor"/>
<rect x="559.8" y="42.2" width="16" height="12" rx="5" fill="currentColor"/>
<rect x="559.8" y="1405.8" width="16" height="12" rx="5" fill="currentColor"/>
<rect x="588.2" y="42.2" width="16" height="12" rx="5" fill="currentColor"/>
<rect x="588.2" y="1405.8" width="16" height="12" rx="5" fill="currentColor"/>
<rect x="616.5" y="42.2" width="16" height="12" rx="5" fill="currentColor"/>
<rect x="616.5" y="1405.8" width="16" height="12" rx="5" fill="currentColor"/>
<rect x="644.9" y="42.2" width="16" height="12" rx="5" fill="currentColor"/>
<rect x="644.9" y="1405.8" width="16" height="12" rx="5" fill="currentColor"/>
<rect x="673.2" y="42.2" width="16" height="12" rx="5" fill="currentColor"/>
<rect x="673.2" y="1405.8" width="16" height="12" rx="5" fill="currentColor"/>
<rect x="701.6" y="42.2" width="16" height="12" rx="5" fill="currentColor"/>
<rect x="701.6" y="1405.8" width="16" height="12" rx="5" fill="currentColor"/>
<rect x="729.9" y="42.2" width="16" height="12" rx="5" fill="currentColor"/>
<rect x="729.9" y="1405.8" width="16" height="12" rx="5" fill="currentColor"/>
<rect x="758.3" y="42.2" width="16" height="12" rx="5" fill="currentColor"/>
<rect x="758.3" y="1405.8" width="16" height="12" rx="5" fill="currentColor"/>
<rect x="786.6" y="42.2" width="16" height="12" rx="5" fill="currentColor"/>
<rect x="786.6" y="1405.8" width="16" height="12" rx="5" fill="currentColor"/>
<rect x="815" y="42.2" width="16" height="12" rx="5" fill="currentColor"/>
<rect x="815" y="1405.8" width="16" height="12" rx="5" fill="currentColor"/>
<rect x="843.4" y="42.2" width="16" height="12" rx="5" fill="currentColor"/>
<rect x="843.4" y="1405.8" width="16" height="12" rx="5" fill="currentColor"/>
<rect x="871.7" y="42.2" width="16" height="12" rx="5" fill="currentColor"/>
<rect x="871.7" y="1405.8" width="16" height="12" rx="5" fill="currentColor"/>
<rect x="900.1" y="42.2" width="16" height="12" rx="5" fill="currentColor"/>
<rect x="900.1" y="1405.8" width="16" height="12" rx="5" fill="currentColor"/>
<rect x="928.4" y="42.2" width="16" height="12" rx="5" fill="currentColor"/>
<rect x="928.4" y="1405.8" width="16" height="12" rx="5" fill="currentColor"/>
<rect x="956.8" y="42.2" width="16" height="12" rx="5" fill="currentColor"/>
<rect x="956.8" y="1405.8" width="16" height="12" rx="5" fill="currentColor"/>
<rect x="985.1" y="42.2" width="16" height="12" rx="5" fill="currentColor"/>
<rect x="985.1" y="1405.8" width="16" height="12" rx="5" fill="currentColor"/>
<rect x="1013.5" y="42.2" width="16" height="12" rx="5" fill="currentColor"/>
<rect x="1013.5" y="1405.8" width="16" height="12" rx="5" fill="currentColor"/>
<rect x="1041.8" y="42.2" width="16" height="12" rx="5" fill="currentColor"/>
<rect x="1041.8" y="1405.8" width="16" height="12" rx="5" fill="currentColor"/>
<rect x="1070.2" y="42.2" width="16" height="12" rx="5" fill="currentColor"/>
<rect x="1070.2" y="1405.8" width="16" height="12" rx="5" fill="currentColor"/>
<rect x="1098.5" y="42.2" width="16" height="12" rx="5" fill="currentColor"/>
<rect x="1098.5" y="1405.8" width="16" height="12" rx="5" fill="currentColor"/>
<rect x="1126.9" y="42.2" width="16" height="12" rx="5" fill="currentColor"/>
<rect x="1126.9" y="1405.8" width="16" height="12" rx="5" fill="currentColor"/>
<rect x="1155.2" y="42.2" width="16" height="12" rx="5" fill="currentColor"/>
<rect x="1155.2" y="1405.8" width="16" height="12" rx="5" fill="currentColor"/>
<rect x="1183.6" y="42.2" width="16" height="12" rx="5" fill="currentColor"/>
<rect x="1183.6" y="1405.8" width="16" height="12" rx="5" fill="currentColor"/>
<rect x="1212" y="42.2" width="16" height="12" rx="5" fill="currentColor"/>
<rect x="1212" y="1405.8" width="16" height="12" rx="5" fill="currentColor"/>
<rect x="1240.3" y="42.2" width="16" height="12" rx="5" fill="currentColor"/>
<rect x="1240.3" y="1405.8" width="16" height="12" rx="5" fill="currentColor"/>
<rect x="1268.7" y="42.2" width="16" height="12" rx="5" fill="currentColor"/>
<rect x="1268.7" y="1405.8" width="16" height="12" rx="5" fill="currentColor"/>
<rect x="1297" y="42.2" width="16" height="12" rx="5" fill="currentColor"/>
<rect x="1297" y="1405.8" width="16" height="12" rx="5" fill="currentColor"/>
<rect x="1325.4" y="42.2" width="16" height="12" rx="5" fill="currentColor"/>
<rect x="1325.4" y="1405.8" width="16" height="12" rx="5" fill="currentColor"/>
<rect x="1353.7" y="42.2" width="16" height="12" rx="5" fill="currentColor"/>
<rect x="1353.7" y="1405.8" width="16" height="12" rx="5" fill="currentColor"/>
<rect x="1382.1" y="42.2" width="16" height="12" rx="5" fill="currentColor"/>
<rect x="1382.1" y="1405.8" width="16" height="12" rx="5" fill="currentColor"/>
<rect x="1410.4" y="42.2" width="16" height="12" rx="5" fill="currentColor"/>
<rect x="1410.4" y="1405.8" width="16" height="12" rx="5" fill="currentColor"/>
<rect x="1438.8" y="42.2" width="16" height="12" rx="5" fill="currentColor"/>
<rect x="1438.8" y="1405.8" width="16" height="12" rx="5" fill="currentColor"/>
<rect x="1467.1" y="42.2" width="16" height="12" rx="5" fill="currentColor"/>
<rect x="1467.1" y="1405.8" width="16" height="12" rx="5" fill="currentColor"/>
<rect x="1495.5" y="42.2" width="16" height="12" rx="5" fill="currentColor"/>
<rect x="1495.5" y="1405.8" width="16" height="12" rx="5" fill="currentColor"/>
<rect x="1523.8" y="42.2" width="16" height="12" rx="5" fill="currentColor"/>
<rect x="1523.8" y="1405.8" width="16" height="12" rx="5" fill="currentColor"/>
<rect x="1552.2" y="42.2" width="16" height="12" rx="5" fill="currentColor"/>
<rect x="1552.2" y="1405.8" width="16" height="12" rx="5" fill="currentColor"/>
<rect x="1583.5" y="42.2" width="13" height="15" rx="5" fill="currentColor"/>
<rect x="1581" y="42.2" width="15" height="12" rx="5" fill="currentColor"/>
<rect x="1583.5" y="1402.8" width="13" height="15" rx="5" fill="currentColor"/>
<rect x="1581" y="1405.8" width="15" height="12" rx="5" fill="currentColor"/>
<rect x="50" y="69.5" width="12" height="17" rx="5" fill="currentColor"/>
<rect x="1584" y="69.5" width="12" height="17" rx="5" fill="currentColor"/>
<rect x="50" y="97.8" width="12" height="17" rx="5" fill="currentColor"/>
<rect x="1584" y="97.8" width="12" height="17" rx="5" fill="currentColor"/>
<rect x="50" y="126.2" width="12" height="17" rx="5" fill="currentColor"/>
<rect x="1584" y="126.2" width="12" height="17" rx="5" fill="currentColor"/>
<rect x="50" y="154.5" width="12" height="17" rx="5" fill="currentColor"/>
<rect x="1584" y="154.5" width="12" height="17" rx="5" fill="currentColor"/>
<rect x="50" y="182.9" width="12" height="17" rx="5" fill="currentColor"/>
<rect x="1584" y="182.9" width="12" height="17" rx="5" fill="currentColor"/>
<rect x="50" y="211.2" width="12" height="17" rx="5" fill="currentColor"/>
<rect x="1584" y="211.2" width="12" height="17" rx="5" fill="currentColor"/>
<rect x="50" y="239.6" width="12" height="17" rx="5" fill="currentColor"/>
<rect x="1584" y="239.6" width="12" height="17" rx="5" fill="currentColor"/>
<rect x="50" y="267.9" width="12" height="17" rx="5" fill="currentColor"/>
<rect x="1584" y="267.9" width="12" height="17" rx="5" fill="currentColor"/>
<rect x="50" y="296.3" width="12" height="17" rx="5" fill="currentColor"/>
<rect x="1584" y="296.3" width="12" height="17" rx="5" fill="currentColor"/>
<rect x="50" y="324.6" width="12" height="17" rx="5" fill="currentColor"/>
<rect x="1584" y="324.6" width="12" height="17" rx="5" fill="currentColor"/>
<rect x="50" y="353" width="12" height="17" rx="5" fill="currentColor"/>
<rect x="1584" y="353" width="12" height="17" rx="5" fill="currentColor"/>
<rect x="50" y="381.3" width="12" height="17" rx="5" fill="currentColor"/>
<rect x="1584" y="381.3" width="12" height="17" rx="5" fill="currentColor"/>
<rect x="50" y="409.7" width="12" height="17" rx="5" fill="currentColor"/>
<rect x="1584" y="409.7" width="12" height="17" rx="5" fill="currentColor"/>
<rect x="50" y="438" width="12" height="17" rx="5" fill="currentColor"/>
<rect x="1584" y="438" width="12" height="17" rx="5" fill="currentColor"/>
<rect x="50" y="466.4" width="12" height="17" rx="5" fill="currentColor"/>
<rect x="1584" y="466.4" width="12" height="17" rx="5" fill="currentColor"/>
<rect x="50" y="494.7" width="12" height="17" rx="5" fill="currentColor"/>
<rect x="1584" y="494.7" width="12" height="17" rx="5" fill="currentColor"/>
<rect x="50" y="523.1" width="12" height="17" rx="5" fill="currentColor"/>
<rect x="1584" y="523.1" width="12" height="17" rx="5" fill="currentColor"/>
<rect x="50" y="551.4" width="12" height="17" rx="5" fill="currentColor"/>
<rect x="1584" y="551.4" width="12" height="17" rx="5" fill="currentColor"/>
<rect x="50" y="579.8" width="12" height="17" rx="5" fill="currentColor"/>
<rect x="1584" y="579.8" width="12" height="17" rx="5" fill="currentColor"/>
<rect x="50" y="608.1" width="12" height="17" rx="5" fill="currentColor"/>
<rect x="1584" y="608.1" width="12" height="17" rx="5" fill="currentColor"/>
<rect x="50" y="636.5" width="12" height="17" rx="5" fill="currentColor"/>
<rect x="1584" y="636.5" width="12" height="17" rx="5" fill="currentColor"/>
<rect x="50" y="664.8" width="12" height="17" rx="5" fill="currentColor"/>
<rect x="1584" y="664.8" width="12" height="17" rx="5" fill="currentColor"/>
<rect x="50" y="693.2" width="12" height="17" rx="5" fill="currentColor"/>
<rect x="1584" y="693.2" width="12" height="17" rx="5" fill="currentColor"/>
<rect x="50" y="721.5" width="12" height="17" rx="5" fill="currentColor"/>
<rect x="1584" y="721.5" width="12" height="17" rx="5" fill="currentColor"/>
<rect x="50" y="749.8" width="12" height="17" rx="5" fill="currentColor"/>
<rect x="1584" y="749.8" width="12" height="17" rx="5" fill="currentColor"/>
<rect x="50" y="778.2" width="12" height="17" rx="5" fill="currentColor"/>
<rect x="1584" y="778.2" width="12" height="17" rx="5" fill="currentColor"/>
<rect x="50" y="806.5" width="12" height="17" rx="5" fill="currentColor"/>
<rect x="1584" y="806.5" width="12" height="17" rx="5" fill="currentColor"/>
<rect x="50" y="834.9" width="12" height="17" rx="5" fill="currentColor"/>
<rect x="1584" y="834.9" width="12" height="17" rx="5" fill="currentColor"/>
<rect x="50" y="863.2" width="12" height="17" rx="5" fill="currentColor"/>
<rect x="1584" y="863.2" width="12" height="17" rx="5" fill="currentColor"/>
<rect x="50" y="891.6" width="12" height="17" rx="5" fill="currentColor"/>
<rect x="1584" y="891.6" width="12" height="17" rx="5" fill="currentColor"/>
<rect x="50" y="919.9" width="12" height="17" rx="5" fill="currentColor"/>
<rect x="1584" y="919.9" width="12" height="17" rx="5" fill="currentColor"/>
<rect x="50" y="948.3" width="12" height="17" rx="5" fill="currentColor"/>
<rect x="1584" y="948.3" width="12" height="17" rx="5" fill="currentColor"/>
<rect x="50" y="976.6" width="12" height="17" rx="5" fill="currentColor"/>
<rect x="1584" y="976.6" width="12" height="17" rx="5" fill="currentColor"/>
<rect x="50" y="1005" width="12" height="17" rx="5" fill="currentColor"/>
<rect x="1584" y="1005" width="12" height="17" rx="5" fill="currentColor"/>
<rect x="50" y="1033.3" width="12" height="17" rx="5" fill="currentColor"/>
<rect x="1584" y="1033.3" width="12" height="17" rx="5" fill="currentColor"/>
<rect x="50" y="1061.7" width="12" height="17" rx="5" fill="currentColor"/>
<rect x="1584" y="1061.7" width="12" height="17" rx="5" fill="currentColor"/>
<rect x="50" y="1090" width="12" height="17" rx="5" fill="currentColor"/>
<rect x="1584" y="1090" width="12" height="17" rx="5" fill="currentColor"/>
<rect x="50" y="1118.4" width="12" height="17" rx="5" fill="currentColor"/>
<rect x="1584" y="1118.4" width="12" height="17" rx="5" fill="currentColor"/>
<rect x="50" y="1146.7" width="12" height="17" rx="5" fill="currentColor"/>
<rect x="1584" y="1146.7" width="12" height="17" rx="5" fill="currentColor"/>
<rect x="50" y="1175.1" width="12" height="17" rx="5" fill="currentColor"/>
<rect x="1584" y="1175.1" width="12" height="17" rx="5" fill="currentColor"/>
<rect x="50" y="1203.4" width="12" height="17" rx="5" fill="currentColor"/>
<rect x="1584" y="1203.4" width="12" height="17" rx="5" fill="currentColor"/>
<rect x="50" y="1231.8" width="12" height="17" rx="5" fill="currentColor"/>
<rect x="1584" y="1231.8" width="12" height="17" rx="5" fill="currentColor"/>
<rect x="50" y="1260.1" width="12" height="17" rx="5" fill="currentColor"/>
<rect x="1584" y="1260.1" width="12" height="17" rx="5" fill="currentColor"/>
<rect x="50" y="1288.5" width="12" height="17" rx="5" fill="currentColor"/>
<rect x="1584" y="1288.5" width="12" height="17" rx="5" fill="currentColor"/>
<rect x="50" y="1316.8" width="12" height="17" rx="5" fill="currentColor"/>
<rect x="1584" y="1316.8" width="12" height="17" rx="5" fill="currentColor"/>
<rect x="50" y="1345.2" width="12" height="17" rx="5" fill="currentColor"/>
<rect x="1584" y="1345.2" width="12" height="17" rx="5" fill="currentColor"/>
<rect x="50" y="1373.5" width="12" height="17" rx="5" fill="currentColor"/>
<rect x="1584" y="1373.5" width="12" height="17" rx="5" fill="currentColor"/>
<rect x="490.4" y="483.1" width="25.6" height="28.6" fill="currentColor"/>
<rect x="531.8" y="483.1" width="26.2" height="28.6" fill="currentColor"/>
<rect x="578.4" y="483.9" width="25.6" height="25.6" fill="currentColor"/>
<rect x="630.3" y="483.9" width="25.6" height="25.6" fill="currentColor"/>
<rect x="490.4" y="520.6" width="25.6" height="28.6" fill="currentColor"/>
<rect x="531.8" y="520.6" width="26.2" height="28.6" fill="currentColor"/>
<rect x="578.4" y="521.4" width="25.6" height="25.6" fill="currentColor"/>
<rect x="630.3" y="521.4" width="25.6" height="25.6" fill="currentColor"/>
<rect x="490.4" y="558" width="25.6" height="28.6" fill="currentColor"/>
<rect x="531.8" y="558" width="26.2" height="28.6" fill="currentColor"/>
<rect x="578.4" y="558.8" width="25.6" height="25.6" fill="currentColor"/>
<rect x="630.3" y="558.8" width="25.6" height="25.6" fill="currentColor"/>
<rect x="490.4" y="595.5" width="25.6" height="28.6" fill="currentColor"/>
<rect x="531.8" y="595.5" width="26.2" height="28.6" fill="currentColor"/>
<rect x="578.4" y="596.3" width="25.6" height="25.6" fill="currentColor"/>
<rect x="630.3" y="596.3" width="25.6" height="25.6" fill="currentColor"/>
<rect x="490.4" y="632.9" width="25.6" height="28.6" fill="currentColor"/>
<rect x="531.8" y="632.9" width="26.2" height="28.6" fill="currentColor"/>
<rect x="578.4" y="633.7" width="25.6" height="25.6" fill="currentColor"/>
<rect x="630.3" y="633.7" width="25.6" height="25.6" fill="currentColor"/>
<rect x="490.4" y="670.4" width="25.6" height="28.6" fill="currentColor"/>
<rect x="531.8" y="670.4" width="26.2" height="28.6" fill="currentColor"/>
<rect x="578.4" y="671.2" width="25.6" height="25.6" fill="currentColor"/>
<rect x="630.3" y="671.2" width="25.6" height="25.6" fill="currentColor"/>
<rect x="490.4" y="707.9" width="25.6" height="28.6" fill="currentColor"/>
<rect x="531.8" y="707.9" width="26.2" height="28.6" fill="currentColor"/>
<rect x="578.4" y="708.7" width="25.6" height="25.6" fill="currentColor"/>
<rect x="630.3" y="708.7" width="25.6" height="25.6" fill="currentColor"/>
<rect x="490.4" y="745.3" width="25.6" height="28.6" fill="currentColor"/>
<rect x="531.8" y="745.3" width="26.2" height="28.6" fill="currentColor"/>
<rect x="578.4" y="746.1" width="25.6" height="25.6" fill="currentColor"/>
<rect x="630.3" y="746.1" width="25.6" height="25.6" fill="currentColor"/>
<rect x="490.4" y="970.1" width="25.6" height="28.6" fill="currentColor"/>
<rect x="531.8" y="970.1" width="26.2" height="28.6" fill="currentColor"/>
<rect x="578.4" y="970.9" width="25.6" height="25.6" fill="currentColor"/>
<rect x="630.3" y="970.9" width="25.6" height="25.6" fill="currentColor"/>
<rect x="490.4" y="1007.5" width="25.6" height="28.6" fill="currentColor"/>
<rect x="531.8" y="1007.5" width="26.2" height="28.6" fill="currentColor"/>
<rect x="578.4" y="1008.3" width="25.6" height="25.6" fill="currentColor"/>
<rect x="630.3" y="1008.3" width="25.6" height="25.6" fill="currentColor"/>
<rect x="490.4" y="1045" width="25.6" height="28.6" fill="currentColor"/>
<rect x="531.8" y="1045" width="26.2" height="28.6" fill="currentColor"/>
<rect x="578.4" y="1045.8" width="25.6" height="25.6" fill="currentColor"/>
<rect x="630.3" y="1045.8" width="25.6" height="25.6" fill="currentColor"/>
<rect x="490.4" y="1082.5" width="25.6" height="28.6" fill="currentColor"/>
<rect x="531.8" y="1082.5" width="26.2" height="28.6" fill="currentColor"/>
<rect x="578.4" y="1083.3" width="25.6" height="25.6" fill="currentColor"/>
<rect x="630.3" y="1083.3" width="25.6" height="25.6" fill="currentColor"/>
<rect x="490.4" y="1119.9" width="25.6" height="28.6" fill="currentColor"/>
<rect x="531.8" y="1119.9" width="26.2" height="28.6" fill="currentColor"/>
<rect x="578.4" y="1120.7" width="25.6" height="25.6" fill="currentColor"/>
<rect x="630.3" y="1120.7" width="25.6" height="25.6" fill="currentColor"/>
<rect x="490.4" y="1157.4" width="25.6" height="28.6" fill="currentColor"/>
<rect x="531.8" y="1157.4" width="26.2" height="28.6" fill="currentColor"/>
<rect x="578.4" y="1158.2" width="25.6" height="25.6" fill="currentColor"/>
<rect x="630.3" y="1158.2" width="25.6" height="25.6" fill="currentColor"/>
<rect x="490.4" y="1194.8" width="25.6" height="28.6" fill="currentColor"/>
<rect x="531.8" y="1194.8" width="26.2" height="28.6" fill="currentColor"/>
<rect x="578.4" y="1195.6" width="25.6" height="25.6" fill="currentColor"/>
<rect x="630.3" y="1195.6" width="25.6" height="25.6" fill="currentColor"/>
<rect x="490.4" y="1232.3" width="25.6" height="28.6" fill="currentColor"/>
<rect x="531.8" y="1232.3" width="26.2" height="28.6" fill="currentColor"/>
<rect x="578.4" y="1233.1" width="25.6" height="25.6" fill="currentColor"/>
<rect x="630.3" y="1233.1" width="25.6" height="25.6" fill="currentColor"/>
<rect x="1179" y="482" width="28.5" height="30.4" fill="currentColor"/>
<rect x="1224" y="482" width="29.6" height="30.4" fill="currentColor"/>
<rect x="1207" y="482" width="18" height="2.7" fill="currentColor"/>
<rect x="1207" y="510.2" width="18" height="2.2" fill="currentColor"/>
<rect x="1270.3" y="483.9" width="25.6" height="25.6" fill="currentColor"/>
<rect x="1322.2" y="483.9" width="25.6" height="25.6" fill="currentColor"/>
<rect x="1179" y="519.5" width="28.5" height="30.4" fill="currentColor"/>
<rect x="1224" y="519.5" width="29.6" height="30.4" fill="currentColor"/>
<rect x="1207" y="519.5" width="18" height="2.7" fill="currentColor"/>
<rect x="1207" y="547.7" width="18" height="2.2" fill="currentColor"/>
<rect x="1270.3" y="521.4" width="25.6" height="25.6" fill="currentColor"/>
<rect x="1322.2" y="521.4" width="25.6" height="25.6" fill="currentColor"/>
<rect x="1179" y="556.9" width="28.5" height="30.4" fill="currentColor"/>
<rect x="1224" y="556.9" width="29.6" height="30.4" fill="currentColor"/>
<rect x="1207" y="556.9" width="18" height="2.7" fill="currentColor"/>
<rect x="1207" y="585.1" width="18" height="2.2" fill="currentColor"/>
<rect x="1270.3" y="558.8" width="25.6" height="25.6" fill="currentColor"/>
<rect x="1322.2" y="558.8" width="25.6" height="25.6" fill="currentColor"/>
<rect x="1179" y="594.4" width="28.5" height="30.4" fill="currentColor"/>
<rect x="1224" y="594.4" width="29.6" height="30.4" fill="currentColor"/>
<rect x="1207" y="594.4" width="18" height="2.7" fill="currentColor"/>
<rect x="1207" y="622.6" width="18" height="2.2" fill="currentColor"/>
<rect x="1270.3" y="596.3" width="25.6" height="25.6" fill="currentColor"/>
<rect x="1322.2" y="596.3" width="25.6" height="25.6" fill="currentColor"/>
<rect x="1179" y="631.8" width="28.5" height="30.4" fill="currentColor"/>
<rect x="1224" y="631.8" width="29.6" height="30.4" fill="currentColor"/>
<rect x="1207" y="631.8" width="18" height="2.7" fill="currentColor"/>
<rect x="1207" y="660" width="18" height="2.2" fill="currentColor"/>
<rect x="1270.3" y="633.7" width="25.6" height="25.6" fill="currentColor"/>
<rect x="1322.2" y="633.7" width="25.6" height="25.6" fill="currentColor"/>
<rect x="1179" y="669.3" width="28.5" height="30.4" fill="currentColor"/>
<rect x="1224" y="669.3" width="29.6" height="30.4" fill="currentColor"/>
<rect x="1207" y="669.3" width="18" height="2.7" fill="currentColor"/>
<rect x="1207" y="697.5" width="18" height="2.2" fill="currentColor"/>
<rect x="1270.3" y="671.2" width="25.6" height="25.6" fill="currentColor"/>
<rect x="1322.2" y="671.2" width="25.6" height="25.6" fill="currentColor"/>
<rect x="1179" y="706.8" width="28.5" height="30.4" fill="currentColor"/>
<rect x="1224" y="706.8" width="29.6" height="30.4" fill="currentColor"/>
<rect x="1207" y="706.8" width="18" height="2.7" fill="currentColor"/>
<rect x="1207" y="735" width="18" height="2.2" fill="currentColor"/>
<rect x="1270.3" y="708.7" width="25.6" height="25.6" fill="currentColor"/>
<rect x="1322.2" y="708.7" width="25.6" height="25.6" fill="currentColor"/>
<rect x="1179" y="744.2" width="28.5" height="30.4" fill="currentColor"/>
<rect x="1224" y="744.2" width="29.6" height="30.4" fill="currentColor"/>
<rect x="1207" y="744.2" width="18" height="2.7" fill="currentColor"/>
<rect x="1207" y="772.4" width="18" height="2.2" fill="currentColor"/>
<rect x="1270.3" y="746.1" width="25.6" height="25.6" fill="currentColor"/>
<rect x="1322.2" y="746.1" width="25.6" height="25.6" fill="currentColor"/>
<rect x="1179" y="894.1" width="28.5" height="30.4" fill="currentColor"/>
<rect x="1224" y="894.1" width="29.6" height="30.4" fill="currentColor"/>
<rect x="1207" y="894.1" width="18" height="2.7" fill="currentColor"/>
<rect x="1207" y="922.3" width="18" height="2.2" fill="currentColor"/>
<rect x="1270.3" y="896" width="25.6" height="25.6" fill="currentColor"/>
<rect x="1322.2" y="896" width="25.6" height="25.6" fill="currentColor"/>
<rect x="1179" y="931.5" width="28.5" height="30.4" fill="currentColor"/>
<rect x="1224" y="931.5" width="29.6" height="30.4" fill="currentColor"/>
<rect x="1207" y="931.5" width="18" height="2.7" fill="currentColor"/>
<rect x="1207" y="959.7" width="18" height="2.2" fill="currentColor"/>
<rect x="1270.3" y="933.4" width="25.6" height="25.6" fill="currentColor"/>
<rect x="1322.2" y="933.4" width="25.6" height="25.6" fill="currentColor"/>
<rect x="1179" y="969" width="28.5" height="30.4" fill="currentColor"/>
<rect x="1224" y="969" width="29.6" height="30.4" fill="currentColor"/>
<rect x="1207" y="969" width="18" height="2.7" fill="currentColor"/>
<rect x="1207" y="997.2" width="18" height="2.2" fill="currentColor"/>
<rect x="1270.3" y="970.9" width="25.6" height="25.6" fill="currentColor"/>
<rect x="1322.2" y="970.9" width="25.6" height="25.6" fill="currentColor"/>
<rect x="1179" y="1006.4" width="28.5" height="30.4" fill="currentColor"/>
<rect x="1224" y="1006.4" width="29.6" height="30.4" fill="currentColor"/>
<rect x="1207" y="1006.4" width="18" height="2.7" fill="currentColor"/>
<rect x="1207" y="1034.6" width="18" height="2.2" fill="currentColor"/>
<rect x="1270.3" y="1008.3" width="25.6" height="25.6" fill="currentColor"/>
<rect x="1322.2" y="1008.3" width="25.6" height="25.6" fill="currentColor"/>
<rect x="1179" y="1043.9" width="28.5" height="30.4" fill="currentColor"/>
<rect x="1224" y="1043.9" width="29.6" height="30.4" fill="currentColor"/>
<rect x="1207" y="1043.9" width="18" height="2.7" fill="currentColor"/>
<rect x="1207" y="1072.1" width="18" height="2.2" fill="currentColor"/>
<rect x="1270.3" y="1045.8" width="25.6" height="25.6" fill="currentColor"/>
<rect x="1322.2" y="1045.8" width="25.6" height="25.6" fill="currentColor"/>
<rect x="1179" y="1081.4" width="28.5" height="30.4" fill="currentColor"/>
<rect x="1224" y="1081.4" width="29.6" height="30.4" fill="currentColor"/>
<rect x="1207" y="1081.4" width="18" height="2.7" fill="currentColor"/>
<rect x="1207" y="1109.6" width="18" height="2.2" fill="currentColor"/>
<rect x="1270.3" y="1083.3" width="25.6" height="25.6" fill="currentColor"/>
<rect x="1322.2" y="1083.3" width="25.6" height="25.6" fill="currentColor"/>
<rect x="1179" y="1118.8" width="28.5" height="30.4" fill="currentColor"/>
<rect x="1224" y="1118.8" width="29.6" height="30.4" fill="currentColor"/>
<rect x="1207" y="1118.8" width="18" height="2.7" fill="currentColor"/>
<rect x="1207" y="1147" width="18" height="2.2" fill="currentColor"/>
<rect x="1270.3" y="1120.7" width="25.6" height="25.6" fill="currentColor"/>
<rect x="1322.2" y="1120.7" width="25.6" height="25.6" fill="currentColor"/>
<rect x="1179" y="1156.3" width="28.5" height="30.4" fill="currentColor"/>
<rect x="1224" y="1156.3" width="29.6" height="30.4" fill="currentColor"/>
<rect x="1207" y="1156.3" width="18" height="2.7" fill="currentColor"/>
<rect x="1207" y="1184.5" width="18" height="2.2" fill="currentColor"/>
<rect x="1270.3" y="1158.2" width="25.6" height="25.6" fill="currentColor"/>
<rect x="1322.2" y="1158.2" width="25.6" height="25.6" fill="currentColor"/>
<path d="M1117 496.2 L1195 496.2" fill="none" stroke="currentColor" stroke-width="12" stroke-linecap="butt" stroke-linejoin="round"/>
<path d="M1238 496.2 L1290 496.2" fill="none" stroke="currentColor" stroke-width="12" stroke-linecap="butt" stroke-linejoin="round"/>
<path d="M1117 533.7 L1195 533.7" fill="none" stroke="currentColor" stroke-width="12" stroke-linecap="butt" stroke-linejoin="round"/>
<path d="M1238 533.7 L1290 533.7" fill="none" stroke="currentColor" stroke-width="12" stroke-linecap="butt" stroke-linejoin="round"/>
<path d="M1117 571.1 L1195 571.1" fill="none" stroke="currentColor" stroke-width="12" stroke-linecap="butt" stroke-linejoin="round"/>
<path d="M1238 571.1 L1290 571.1" fill="none" stroke="currentColor" stroke-width="12" stroke-linecap="butt" stroke-linejoin="round"/>
<path d="M1117 608.6 L1195 608.6" fill="none" stroke="currentColor" stroke-width="12" stroke-linecap="butt" stroke-linejoin="round"/>
<path d="M1238 608.6 L1290 608.6" fill="none" stroke="currentColor" stroke-width="12" stroke-linecap="butt" stroke-linejoin="round"/>
<path d="M1117 646 L1195 646" fill="none" stroke="currentColor" stroke-width="12" stroke-linecap="butt" stroke-linejoin="round"/>
<path d="M1238 646 L1290 646" fill="none" stroke="currentColor" stroke-width="12" stroke-linecap="butt" stroke-linejoin="round"/>
<path d="M1117 683.5 L1195 683.5" fill="none" stroke="currentColor" stroke-width="12" stroke-linecap="butt" stroke-linejoin="round"/>
<path d="M1238 683.5 L1290 683.5" fill="none" stroke="currentColor" stroke-width="12" stroke-linecap="butt" stroke-linejoin="round"/>
<path d="M1117 721 L1195 721" fill="none" stroke="currentColor" stroke-width="12" stroke-linecap="butt" stroke-linejoin="round"/>
<path d="M1238 721 L1290 721" fill="none" stroke="currentColor" stroke-width="12" stroke-linecap="butt" stroke-linejoin="round"/>
<path d="M1117 758.4 L1195 758.4" fill="none" stroke="currentColor" stroke-width="12" stroke-linecap="butt" stroke-linejoin="round"/>
<path d="M1238 758.4 L1290 758.4" fill="none" stroke="currentColor" stroke-width="12" stroke-linecap="butt" stroke-linejoin="round"/>
<path d="M1117 908.3 L1195 908.3" fill="none" stroke="currentColor" stroke-width="12" stroke-linecap="butt" stroke-linejoin="round"/>
<path d="M1238 908.3 L1290 908.3" fill="none" stroke="currentColor" stroke-width="12" stroke-linecap="butt" stroke-linejoin="round"/>
<path d="M1117 945.7 L1195 945.7" fill="none" stroke="currentColor" stroke-width="12" stroke-linecap="butt" stroke-linejoin="round"/>
<path d="M1238 945.7 L1290 945.7" fill="none" stroke="currentColor" stroke-width="12" stroke-linecap="butt" stroke-linejoin="round"/>
<path d="M1117 983.2 L1195 983.2" fill="none" stroke="currentColor" stroke-width="12" stroke-linecap="butt" stroke-linejoin="round"/>
<path d="M1238 983.2 L1290 983.2" fill="none" stroke="currentColor" stroke-width="12" stroke-linecap="butt" stroke-linejoin="round"/>
<path d="M1117 1020.6 L1195 1020.6" fill="none" stroke="currentColor" stroke-width="12" stroke-linecap="butt" stroke-linejoin="round"/>
<path d="M1238 1020.6 L1290 1020.6" fill="none" stroke="currentColor" stroke-width="12" stroke-linecap="butt" stroke-linejoin="round"/>
<path d="M1117 1058.1 L1195 1058.1" fill="none" stroke="currentColor" stroke-width="12" stroke-linecap="butt" stroke-linejoin="round"/>
<path d="M1238 1058.1 L1290 1058.1" fill="none" stroke="currentColor" stroke-width="12" stroke-linecap="butt" stroke-linejoin="round"/>
<path d="M1117 1095.6 L1195 1095.6" fill="none" stroke="currentColor" stroke-width="12" stroke-linecap="butt" stroke-linejoin="round"/>
<path d="M1238 1095.6 L1290 1095.6" fill="none" stroke="currentColor" stroke-width="12" stroke-linecap="butt" stroke-linejoin="round"/>
<path d="M1117 1133 L1195 1133" fill="none" stroke="currentColor" stroke-width="12" stroke-linecap="butt" stroke-linejoin="round"/>
<path d="M1238 1133 L1290 1133" fill="none" stroke="currentColor" stroke-width="12" stroke-linecap="butt" stroke-linejoin="round"/>
<path d="M1117 1170.5 L1195 1170.5" fill="none" stroke="currentColor" stroke-width="12" stroke-linecap="butt" stroke-linejoin="round"/>
<path d="M1238 1170.5 L1290 1170.5" fill="none" stroke="currentColor" stroke-width="12" stroke-linecap="butt" stroke-linejoin="round"/>
<path d="M442.8 496.2 L508 496.2" fill="none" stroke="currentColor" stroke-width="11" stroke-linecap="butt" stroke-linejoin="round"/>
<path d="M540 496.2 L597 496.2" fill="none" stroke="currentColor" stroke-width="11" stroke-linecap="butt" stroke-linejoin="round"/>
<path d="M442.8 533.7 L508 533.7" fill="none" stroke="currentColor" stroke-width="11" stroke-linecap="butt" stroke-linejoin="round"/>
<path d="M540 533.7 L597 533.7" fill="none" stroke="currentColor" stroke-width="11" stroke-linecap="butt" stroke-linejoin="round"/>
<path d="M442.8 571.1 L508 571.1" fill="none" stroke="currentColor" stroke-width="11" stroke-linecap="butt" stroke-linejoin="round"/>
<path d="M540 571.1 L597 571.1" fill="none" stroke="currentColor" stroke-width="11" stroke-linecap="butt" stroke-linejoin="round"/>
<path d="M442.8 608.6 L508 608.6" fill="none" stroke="currentColor" stroke-width="11" stroke-linecap="butt" stroke-linejoin="round"/>
<path d="M540 608.6 L597 608.6" fill="none" stroke="currentColor" stroke-width="11" stroke-linecap="butt" stroke-linejoin="round"/>
<path d="M442.8 646 L508 646" fill="none" stroke="currentColor" stroke-width="11" stroke-linecap="butt" stroke-linejoin="round"/>
<path d="M540 646 L597 646" fill="none" stroke="currentColor" stroke-width="11" stroke-linecap="butt" stroke-linejoin="round"/>
<path d="M442.8 683.5 L508 683.5" fill="none" stroke="currentColor" stroke-width="11" stroke-linecap="butt" stroke-linejoin="round"/>
<path d="M540 683.5 L597 683.5" fill="none" stroke="currentColor" stroke-width="11" stroke-linecap="butt" stroke-linejoin="round"/>
<path d="M442.8 721 L508 721" fill="none" stroke="currentColor" stroke-width="11" stroke-linecap="butt" stroke-linejoin="round"/>
<path d="M540 721 L597 721" fill="none" stroke="currentColor" stroke-width="11" stroke-linecap="butt" stroke-linejoin="round"/>
<path d="M442.8 758.4 L508 758.4" fill="none" stroke="currentColor" stroke-width="11" stroke-linecap="butt" stroke-linejoin="round"/>
<path d="M540 758.4 L597 758.4" fill="none" stroke="currentColor" stroke-width="11" stroke-linecap="butt" stroke-linejoin="round"/>
<path d="M442.8 983.2 L508 983.2" fill="none" stroke="currentColor" stroke-width="11" stroke-linecap="butt" stroke-linejoin="round"/>
<path d="M540 983.2 L597 983.2" fill="none" stroke="currentColor" stroke-width="11" stroke-linecap="butt" stroke-linejoin="round"/>
<path d="M442.8 1020.6 L508 1020.6" fill="none" stroke="currentColor" stroke-width="11" stroke-linecap="butt" stroke-linejoin="round"/>
<path d="M540 1020.6 L597 1020.6" fill="none" stroke="currentColor" stroke-width="11" stroke-linecap="butt" stroke-linejoin="round"/>
<path d="M442.8 1058.1 L508 1058.1" fill="none" stroke="currentColor" stroke-width="11" stroke-linecap="butt" stroke-linejoin="round"/>
<path d="M540 1058.1 L597 1058.1" fill="none" stroke="currentColor" stroke-width="11" stroke-linecap="butt" stroke-linejoin="round"/>
<path d="M442.8 1095.6 L508 1095.6" fill="none" stroke="currentColor" stroke-width="11" stroke-linecap="butt" stroke-linejoin="round"/>
<path d="M540 1095.6 L597 1095.6" fill="none" stroke="currentColor" stroke-width="11" stroke-linecap="butt" stroke-linejoin="round"/>
<path d="M442.8 1133 L508 1133" fill="none" stroke="currentColor" stroke-width="11" stroke-linecap="butt" stroke-linejoin="round"/>
<path d="M540 1133 L597 1133" fill="none" stroke="currentColor" stroke-width="11" stroke-linecap="butt" stroke-linejoin="round"/>
<path d="M442.8 1170.5 L508 1170.5" fill="none" stroke="currentColor" stroke-width="11" stroke-linecap="butt" stroke-linejoin="round"/>
<path d="M540 1170.5 L597 1170.5" fill="none" stroke="currentColor" stroke-width="11" stroke-linecap="butt" stroke-linejoin="round"/>
<path d="M442.8 1207.9 L508 1207.9" fill="none" stroke="currentColor" stroke-width="11" stroke-linecap="butt" stroke-linejoin="round"/>
<path d="M540 1207.9 L597 1207.9" fill="none" stroke="currentColor" stroke-width="11" stroke-linecap="butt" stroke-linejoin="round"/>
<path d="M442.8 1245.4 L508 1245.4" fill="none" stroke="currentColor" stroke-width="11" stroke-linecap="butt" stroke-linejoin="round"/>
<path d="M540 1245.4 L597 1245.4" fill="none" stroke="currentColor" stroke-width="11" stroke-linecap="butt" stroke-linejoin="round"/>
<path d="M448.8 758.4 L430 758.4 L409.8 778.8 L409.8 890 L446 926.4" fill="none" stroke="currentColor" stroke-width="11.8" stroke-linecap="round" stroke-linejoin="round"/>
<path d="M448.8 795.9 L642.8 795.9" fill="none" stroke="currentColor" stroke-width="11" stroke-linecap="round" stroke-linejoin="round"/>
<path d="M448.8 1282.9 L642.8 1282.9" fill="none" stroke="currentColor" stroke-width="11" stroke-linecap="round" stroke-linejoin="round"/>
<path d="M1123 795.9 L1334.8 795.9" fill="none" stroke="currentColor" stroke-width="11" stroke-linecap="round" stroke-linejoin="round"/>
<path d="M1123 1207.9 L1334.8 1207.9" fill="none" stroke="currentColor" stroke-width="11" stroke-linecap="round" stroke-linejoin="round"/>
<path d="M655.5 484 L642.8 497.2 L642.8 1321 L654.8 1338.5" fill="none" stroke="currentColor" stroke-width="11" stroke-linecap="round" stroke-linejoin="round"/>
<path d="M1334.8 496.2 L1334.8 1322.5 L1347 1338.8" fill="none" stroke="currentColor" stroke-width="11" stroke-linecap="round" stroke-linejoin="round"/>
<path d="M642.8 833.3 L784.5 833.3 L821 870.8 L935 870.8" fill="none" stroke="currentColor" stroke-width="11" stroke-linecap="round" stroke-linejoin="round"/>
<path d="M710 402 L766.4 457.5 L766.4 700 L745 721 L711 721" fill="none" stroke="currentColor" stroke-width="11" stroke-linecap="round" stroke-linejoin="round"/>
<path d="M748 383 L803.8 439.5 L803.8 721.2 L766.6 758.4 L711 758.4" fill="none" stroke="currentColor" stroke-width="11" stroke-linecap="round" stroke-linejoin="round"/>
<path d="M783.7 365 L842.1 422 L842.1 739.6 L785.8 795.9 L711 795.9" fill="none" stroke="currentColor" stroke-width="11" stroke-linecap="round" stroke-linejoin="round"/>
<rect x="137" y="688" width="63" height="20" rx="8" fill="currentColor"/>
<rect x="150" y="683" width="36" height="30" rx="10" fill="currentColor"/>
<rect x="157" y="725.7" width="27.7" height="29.3" rx="8" fill="currentColor"/>
<rect x="113.7" y="727" width="28.1" height="14" fill="currentColor"/>
</g>
<g id="l_place" color="#7a7a7a" opacity="0.88">
<circle cx="112.8" cy="122.4" r="43.7" fill="none" stroke="currentColor" stroke-width="3.4"/>
<circle cx="112.8" cy="1356.9" r="43.7" fill="none" stroke="currentColor" stroke-width="3.4"/>
<circle cx="1534.7" cy="1356.4" r="43.7" fill="none" stroke="currentColor" stroke-width="3.4"/>
<circle cx="1477.7" cy="159.4" r="43.7" fill="none" stroke="currentColor" stroke-width="3.4"/>
<path d="M408.6 477.4 H436.5 V814.2 H350.6 V477.4 H378.6 A15 15 0 0 0 408.6 477.4 Z" fill="none" stroke="currentColor" stroke-width="3.3" stroke-linejoin="round" stroke-linecap="round"/>
<path d="M408.6 964.4 H436.5 V1301.2 H350.6 V964.4 H378.6 A15 15 0 0 0 408.6 964.4 Z" fill="none" stroke="currentColor" stroke-width="3.3" stroke-linejoin="round" stroke-linecap="round"/>
<path d="M1080.2 477.4 H1108.5 V814.2 H1022 V477.4 H1050.2 A15 15 0 0 0 1080.2 477.4 Z" fill="none" stroke="currentColor" stroke-width="3.3" stroke-linejoin="round" stroke-linecap="round"/>
<path d="M1080.2 889.5 H1108.5 V1226.2 H1022 V889.5 H1050.2 A15 15 0 0 0 1080.2 889.5 Z" fill="none" stroke="currentColor" stroke-width="3.3" stroke-linejoin="round" stroke-linecap="round"/>
<path d="M842 463 H919.8 V1240 M726.6 1240 V463 H804 A19 19 0 0 0 842 463" fill="none" stroke="currentColor" stroke-width="3.3" stroke-linejoin="round" stroke-linecap="round"/>
<path d="M94.7 468.2 H102 V474.4 H121.5 V468.2 H185 V474.4 H218 V468.2 H244 V474.4 H262 V468.2 H273.6 V788.5 H262 V794.7 H244 V788.5 H218 V794.7 H185 V788.5 H121.5 V794.7 H102 V788.5 H94.7Z" fill="none" stroke="currentColor" stroke-width="3.5" stroke-linejoin="round" stroke-linecap="round"/>
<path d="M221.7 468.2 L221.7 788.5" fill="none" stroke="currentColor" stroke-width="3.5" stroke-linecap="butt" stroke-linejoin="round"/>
<path d="M94.7 480 L273.6 480" fill="none" stroke="currentColor" stroke-width="3.5" stroke-linecap="butt" stroke-linejoin="round"/>
<path d="M94.7 516.9 L273.6 516.9" fill="none" stroke="currentColor" stroke-width="3.5" stroke-linecap="butt" stroke-linejoin="round"/>
<path d="M94.7 553.7 L273.6 553.7" fill="none" stroke="currentColor" stroke-width="3.5" stroke-linecap="butt" stroke-linejoin="round"/>
<path d="M94.7 590.6 L273.6 590.6" fill="none" stroke="currentColor" stroke-width="3.5" stroke-linecap="butt" stroke-linejoin="round"/>
<path d="M94.7 627.5 L273.6 627.5" fill="none" stroke="currentColor" stroke-width="3.5" stroke-linecap="butt" stroke-linejoin="round"/>
<path d="M94.7 664.4 L273.6 664.4" fill="none" stroke="currentColor" stroke-width="3.5" stroke-linecap="butt" stroke-linejoin="round"/>
<path d="M94.7 701.2 L273.6 701.2" fill="none" stroke="currentColor" stroke-width="3.5" stroke-linecap="butt" stroke-linejoin="round"/>
<path d="M94.7 738.1 L273.6 738.1" fill="none" stroke="currentColor" stroke-width="3.5" stroke-linecap="butt" stroke-linejoin="round"/>
<path d="M94.7 775.4 L273.6 775.4" fill="none" stroke="currentColor" stroke-width="3.5" stroke-linecap="butt" stroke-linejoin="round"/>
<path d="M226.8 489.7 H252.3 V506.3 H226.8" fill="none" stroke="currentColor" stroke-width="3.5" stroke-linejoin="round" stroke-linecap="round"/>
<path d="M150.8 506.3 L184.8 506.3" fill="none" stroke="currentColor" stroke-width="3.5" stroke-linecap="butt" stroke-linejoin="round"/>
<path d="M150.8 489.7 L184.8 489.7" fill="none" stroke="currentColor" stroke-width="3.5" stroke-linecap="butt" stroke-linejoin="round"/>
<path d="M226.8 526.6 H252.3 V543.2 H226.8" fill="none" stroke="currentColor" stroke-width="3.5" stroke-linejoin="round" stroke-linecap="round"/>
<path d="M150.8 543.2 L184.8 543.2" fill="none" stroke="currentColor" stroke-width="3.5" stroke-linecap="butt" stroke-linejoin="round"/>
<path d="M150.8 526.6 L184.8 526.6" fill="none" stroke="currentColor" stroke-width="3.5" stroke-linecap="butt" stroke-linejoin="round"/>
<path d="M226.8 563.4 H252.3 V580 H226.8" fill="none" stroke="currentColor" stroke-width="3.5" stroke-linejoin="round" stroke-linecap="round"/>
<path d="M150.8 580 L184.8 580" fill="none" stroke="currentColor" stroke-width="3.5" stroke-linecap="butt" stroke-linejoin="round"/>
<path d="M150.8 563.4 L184.8 563.4" fill="none" stroke="currentColor" stroke-width="3.5" stroke-linecap="butt" stroke-linejoin="round"/>
<path d="M226.8 600.3 H252.3 V616.9 H226.8" fill="none" stroke="currentColor" stroke-width="3.5" stroke-linejoin="round" stroke-linecap="round"/>
<path d="M150.8 616.9 L184.8 616.9" fill="none" stroke="currentColor" stroke-width="3.5" stroke-linecap="butt" stroke-linejoin="round"/>
<path d="M150.8 600.3 L184.8 600.3" fill="none" stroke="currentColor" stroke-width="3.5" stroke-linecap="butt" stroke-linejoin="round"/>
<path d="M226.8 637.2 H252.3 V653.8 H226.8" fill="none" stroke="currentColor" stroke-width="3.5" stroke-linejoin="round" stroke-linecap="round"/>
<path d="M150.8 653.8 L184.8 653.8" fill="none" stroke="currentColor" stroke-width="3.5" stroke-linecap="butt" stroke-linejoin="round"/>
<path d="M150.8 637.2 L184.8 637.2" fill="none" stroke="currentColor" stroke-width="3.5" stroke-linecap="butt" stroke-linejoin="round"/>
<path d="M226.8 674.1 H252.3 V690.6 H226.8" fill="none" stroke="currentColor" stroke-width="3.5" stroke-linejoin="round" stroke-linecap="round"/>
<path d="M150.8 690.6 L184.8 690.6" fill="none" stroke="currentColor" stroke-width="3.5" stroke-linecap="butt" stroke-linejoin="round"/>
<path d="M150.8 674.1 L184.8 674.1" fill="none" stroke="currentColor" stroke-width="3.5" stroke-linecap="butt" stroke-linejoin="round"/>
<path d="M226.8 710.9 H252.3 V727.5 H226.8" fill="none" stroke="currentColor" stroke-width="3.5" stroke-linejoin="round" stroke-linecap="round"/>
<path d="M150.8 727.5 L184.8 727.5" fill="none" stroke="currentColor" stroke-width="3.5" stroke-linecap="butt" stroke-linejoin="round"/>
<path d="M150.8 710.9 L184.8 710.9" fill="none" stroke="currentColor" stroke-width="3.5" stroke-linecap="butt" stroke-linejoin="round"/>
<path d="M226.8 747.8 H252.3 V764.4 H226.8" fill="none" stroke="currentColor" stroke-width="3.5" stroke-linejoin="round" stroke-linecap="round"/>
<path d="M150.8 764.4 L184.8 764.4" fill="none" stroke="currentColor" stroke-width="3.5" stroke-linecap="butt" stroke-linejoin="round"/>
<path d="M150.8 747.8 L184.8 747.8" fill="none" stroke="currentColor" stroke-width="3.5" stroke-linecap="butt" stroke-linejoin="round"/>
<path d="M94.7 955.2 H102 V961.4 H121.5 V955.2 H185 V961.4 H218 V955.2 H244 V961.4 H262 V955.2 H273.6 V1275.5 H262 V1281.7 H244 V1275.5 H218 V1281.7 H185 V1275.5 H121.5 V1281.7 H102 V1275.5 H94.7Z" fill="none" stroke="currentColor" stroke-width="3.5" stroke-linejoin="round" stroke-linecap="round"/>
<path d="M221.7 955.2 L221.7 1275.5" fill="none" stroke="currentColor" stroke-width="3.5" stroke-linecap="butt" stroke-linejoin="round"/>
<path d="M94.7 967 L273.6 967" fill="none" stroke="currentColor" stroke-width="3.5" stroke-linecap="butt" stroke-linejoin="round"/>
<path d="M94.7 1003.9 L273.6 1003.9" fill="none" stroke="currentColor" stroke-width="3.5" stroke-linecap="butt" stroke-linejoin="round"/>
<path d="M94.7 1040.7 L273.6 1040.7" fill="none" stroke="currentColor" stroke-width="3.5" stroke-linecap="butt" stroke-linejoin="round"/>
<path d="M94.7 1077.6 L273.6 1077.6" fill="none" stroke="currentColor" stroke-width="3.5" stroke-linecap="butt" stroke-linejoin="round"/>
<path d="M94.7 1114.5 L273.6 1114.5" fill="none" stroke="currentColor" stroke-width="3.5" stroke-linecap="butt" stroke-linejoin="round"/>
<path d="M94.7 1151.3 L273.6 1151.3" fill="none" stroke="currentColor" stroke-width="3.5" stroke-linecap="butt" stroke-linejoin="round"/>
<path d="M94.7 1188.2 L273.6 1188.2" fill="none" stroke="currentColor" stroke-width="3.5" stroke-linecap="butt" stroke-linejoin="round"/>
<path d="M94.7 1225.1 L273.6 1225.1" fill="none" stroke="currentColor" stroke-width="3.5" stroke-linecap="butt" stroke-linejoin="round"/>
<path d="M94.7 1262.4 L273.6 1262.4" fill="none" stroke="currentColor" stroke-width="3.5" stroke-linecap="butt" stroke-linejoin="round"/>
<path d="M226.8 976.7 H252.3 V993.3 H226.8" fill="none" stroke="currentColor" stroke-width="3.5" stroke-linejoin="round" stroke-linecap="round"/>
<path d="M150.8 993.3 L184.8 993.3" fill="none" stroke="currentColor" stroke-width="3.5" stroke-linecap="butt" stroke-linejoin="round"/>
<path d="M150.8 976.7 L184.8 976.7" fill="none" stroke="currentColor" stroke-width="3.5" stroke-linecap="butt" stroke-linejoin="round"/>
<path d="M226.8 1013.6 H252.3 V1030.2 H226.8" fill="none" stroke="currentColor" stroke-width="3.5" stroke-linejoin="round" stroke-linecap="round"/>
<path d="M150.8 1030.2 L184.8 1030.2" fill="none" stroke="currentColor" stroke-width="3.5" stroke-linecap="butt" stroke-linejoin="round"/>
<path d="M150.8 1013.6 L184.8 1013.6" fill="none" stroke="currentColor" stroke-width="3.5" stroke-linecap="butt" stroke-linejoin="round"/>
<path d="M226.8 1050.4 H252.3 V1067 H226.8" fill="none" stroke="currentColor" stroke-width="3.5" stroke-linejoin="round" stroke-linecap="round"/>
<path d="M150.8 1067 L184.8 1067" fill="none" stroke="currentColor" stroke-width="3.5" stroke-linecap="butt" stroke-linejoin="round"/>
<path d="M150.8 1050.4 L184.8 1050.4" fill="none" stroke="currentColor" stroke-width="3.5" stroke-linecap="butt" stroke-linejoin="round"/>
<path d="M226.8 1087.3 H252.3 V1103.9 H226.8" fill="none" stroke="currentColor" stroke-width="3.5" stroke-linejoin="round" stroke-linecap="round"/>
<path d="M150.8 1103.9 L184.8 1103.9" fill="none" stroke="currentColor" stroke-width="3.5" stroke-linecap="butt" stroke-linejoin="round"/>
<path d="M150.8 1087.3 L184.8 1087.3" fill="none" stroke="currentColor" stroke-width="3.5" stroke-linecap="butt" stroke-linejoin="round"/>
<path d="M226.8 1124.2 H252.3 V1140.8 H226.8" fill="none" stroke="currentColor" stroke-width="3.5" stroke-linejoin="round" stroke-linecap="round"/>
<path d="M150.8 1140.8 L184.8 1140.8" fill="none" stroke="currentColor" stroke-width="3.5" stroke-linecap="butt" stroke-linejoin="round"/>
<path d="M150.8 1124.2 L184.8 1124.2" fill="none" stroke="currentColor" stroke-width="3.5" stroke-linecap="butt" stroke-linejoin="round"/>
<path d="M226.8 1161 H252.3 V1177.6 H226.8" fill="none" stroke="currentColor" stroke-width="3.5" stroke-linejoin="round" stroke-linecap="round"/>
<path d="M150.8 1177.6 L184.8 1177.6" fill="none" stroke="currentColor" stroke-width="3.5" stroke-linecap="butt" stroke-linejoin="round"/>
<path d="M150.8 1161 L184.8 1161" fill="none" stroke="currentColor" stroke-width="3.5" stroke-linecap="butt" stroke-linejoin="round"/>
<path d="M226.8 1197.9 H252.3 V1214.5 H226.8" fill="none" stroke="currentColor" stroke-width="3.5" stroke-linejoin="round" stroke-linecap="round"/>
<path d="M150.8 1214.5 L184.8 1214.5" fill="none" stroke="currentColor" stroke-width="3.5" stroke-linecap="butt" stroke-linejoin="round"/>
<path d="M150.8 1197.9 L184.8 1197.9" fill="none" stroke="currentColor" stroke-width="3.5" stroke-linecap="butt" stroke-linejoin="round"/>
<path d="M226.8 1234.8 H252.3 V1251.4 H226.8" fill="none" stroke="currentColor" stroke-width="3.5" stroke-linejoin="round" stroke-linecap="round"/>
<path d="M150.8 1251.4 L184.8 1251.4" fill="none" stroke="currentColor" stroke-width="3.5" stroke-linecap="butt" stroke-linejoin="round"/>
<path d="M150.8 1234.8 L184.8 1234.8" fill="none" stroke="currentColor" stroke-width="3.5" stroke-linecap="butt" stroke-linejoin="round"/>
<path d="M1392.2 465.6 H1403.9 V459.2 H1418.5 V465.6 H1448.2 V459.2 H1477.9 V465.6 H1543.8 V459.2 H1558.3 V465.6 H1566 V786.1 H1558.3 V779.7 H1543.8 V786.1 H1477.9 V779.7 H1448.2 V786.1 H1418.5 V779.7 H1403.9 V786.1 H1392.2Z" fill="none" stroke="currentColor" stroke-width="3.5" stroke-linejoin="round" stroke-linecap="round"/>
<path d="M1440 465.6 L1440 786.1" fill="none" stroke="currentColor" stroke-width="3.5" stroke-linecap="butt" stroke-linejoin="round"/>
<path d="M1392.2 480 L1566 480" fill="none" stroke="currentColor" stroke-width="3.5" stroke-linecap="butt" stroke-linejoin="round"/>
<path d="M1392.2 517.3 L1566 517.3" fill="none" stroke="currentColor" stroke-width="3.5" stroke-linecap="butt" stroke-linejoin="round"/>
<path d="M1392.2 554.2 L1566 554.2" fill="none" stroke="currentColor" stroke-width="3.5" stroke-linecap="butt" stroke-linejoin="round"/>
<path d="M1392.2 591 L1566 591" fill="none" stroke="currentColor" stroke-width="3.5" stroke-linecap="butt" stroke-linejoin="round"/>
<path d="M1392.2 627.9 L1566 627.9" fill="none" stroke="currentColor" stroke-width="3.5" stroke-linecap="butt" stroke-linejoin="round"/>
<path d="M1392.2 664.8 L1566 664.8" fill="none" stroke="currentColor" stroke-width="3.5" stroke-linecap="butt" stroke-linejoin="round"/>
<path d="M1392.2 701.6 L1566 701.6" fill="none" stroke="currentColor" stroke-width="3.5" stroke-linecap="butt" stroke-linejoin="round"/>
<path d="M1392.2 738.5 L1566 738.5" fill="none" stroke="currentColor" stroke-width="3.5" stroke-linecap="butt" stroke-linejoin="round"/>
<path d="M1392.2 775.4 L1566 775.4" fill="none" stroke="currentColor" stroke-width="3.5" stroke-linecap="butt" stroke-linejoin="round"/>
<path d="M1437 489.7 H1412 V506.3 H1437" fill="none" stroke="currentColor" stroke-width="3.5" stroke-linejoin="round" stroke-linecap="round"/>
<path d="M1479 506.3 L1513.3 506.3" fill="none" stroke="currentColor" stroke-width="3.5" stroke-linecap="butt" stroke-linejoin="round"/>
<path d="M1479 489.7 L1513.3 489.7" fill="none" stroke="currentColor" stroke-width="3.5" stroke-linecap="butt" stroke-linejoin="round"/>
<path d="M1437 526.6 H1412 V543.2 H1437" fill="none" stroke="currentColor" stroke-width="3.5" stroke-linejoin="round" stroke-linecap="round"/>
<path d="M1479 543.2 L1513.3 543.2" fill="none" stroke="currentColor" stroke-width="3.5" stroke-linecap="butt" stroke-linejoin="round"/>
<path d="M1479 526.6 L1513.3 526.6" fill="none" stroke="currentColor" stroke-width="3.5" stroke-linecap="butt" stroke-linejoin="round"/>
<path d="M1437 563.4 H1412 V580 H1437" fill="none" stroke="currentColor" stroke-width="3.5" stroke-linejoin="round" stroke-linecap="round"/>
<path d="M1479 580 L1513.3 580" fill="none" stroke="currentColor" stroke-width="3.5" stroke-linecap="butt" stroke-linejoin="round"/>
<path d="M1479 563.4 L1513.3 563.4" fill="none" stroke="currentColor" stroke-width="3.5" stroke-linecap="butt" stroke-linejoin="round"/>
<path d="M1437 600.3 H1412 V616.9 H1437" fill="none" stroke="currentColor" stroke-width="3.5" stroke-linejoin="round" stroke-linecap="round"/>
<path d="M1479 616.9 L1513.3 616.9" fill="none" stroke="currentColor" stroke-width="3.5" stroke-linecap="butt" stroke-linejoin="round"/>
<path d="M1479 600.3 L1513.3 600.3" fill="none" stroke="currentColor" stroke-width="3.5" stroke-linecap="butt" stroke-linejoin="round"/>
<path d="M1437 637.2 H1412 V653.8 H1437" fill="none" stroke="currentColor" stroke-width="3.5" stroke-linejoin="round" stroke-linecap="round"/>
<path d="M1479 653.8 L1513.3 653.8" fill="none" stroke="currentColor" stroke-width="3.5" stroke-linecap="butt" stroke-linejoin="round"/>
<path d="M1479 637.2 L1513.3 637.2" fill="none" stroke="currentColor" stroke-width="3.5" stroke-linecap="butt" stroke-linejoin="round"/>
<path d="M1437 674.1 H1412 V690.6 H1437" fill="none" stroke="currentColor" stroke-width="3.5" stroke-linejoin="round" stroke-linecap="round"/>
<path d="M1479 690.6 L1513.3 690.6" fill="none" stroke="currentColor" stroke-width="3.5" stroke-linecap="butt" stroke-linejoin="round"/>
<path d="M1479 674.1 L1513.3 674.1" fill="none" stroke="currentColor" stroke-width="3.5" stroke-linecap="butt" stroke-linejoin="round"/>
<path d="M1437 710.9 H1412 V727.5 H1437" fill="none" stroke="currentColor" stroke-width="3.5" stroke-linejoin="round" stroke-linecap="round"/>
<path d="M1479 727.5 L1513.3 727.5" fill="none" stroke="currentColor" stroke-width="3.5" stroke-linecap="butt" stroke-linejoin="round"/>
<path d="M1479 710.9 L1513.3 710.9" fill="none" stroke="currentColor" stroke-width="3.5" stroke-linecap="butt" stroke-linejoin="round"/>
<path d="M1437 747.8 H1412 V764.4 H1437" fill="none" stroke="currentColor" stroke-width="3.5" stroke-linejoin="round" stroke-linecap="round"/>
<path d="M1479 764.4 L1513.3 764.4" fill="none" stroke="currentColor" stroke-width="3.5" stroke-linecap="butt" stroke-linejoin="round"/>
<path d="M1479 747.8 L1513.3 747.8" fill="none" stroke="currentColor" stroke-width="3.5" stroke-linecap="butt" stroke-linejoin="round"/>
<path d="M1392.2 877.7 H1403.9 V871.3 H1418.5 V877.7 H1448.2 V871.3 H1477.9 V877.7 H1543.8 V871.3 H1558.3 V877.7 H1566 V1198.1 H1558.3 V1191.7 H1543.8 V1198.1 H1477.9 V1191.7 H1448.2 V1198.1 H1418.5 V1191.7 H1403.9 V1198.1 H1392.2Z" fill="none" stroke="currentColor" stroke-width="3.5" stroke-linejoin="round" stroke-linecap="round"/>
<path d="M1440 877.7 L1440 1198.1" fill="none" stroke="currentColor" stroke-width="3.5" stroke-linecap="butt" stroke-linejoin="round"/>
<path d="M1392.2 892.1 L1566 892.1" fill="none" stroke="currentColor" stroke-width="3.5" stroke-linecap="butt" stroke-linejoin="round"/>
<path d="M1392.2 929.4 L1566 929.4" fill="none" stroke="currentColor" stroke-width="3.5" stroke-linecap="butt" stroke-linejoin="round"/>
<path d="M1392.2 966.2 L1566 966.2" fill="none" stroke="currentColor" stroke-width="3.5" stroke-linecap="butt" stroke-linejoin="round"/>
<path d="M1392.2 1003.1 L1566 1003.1" fill="none" stroke="currentColor" stroke-width="3.5" stroke-linecap="butt" stroke-linejoin="round"/>
<path d="M1392.2 1040 L1566 1040" fill="none" stroke="currentColor" stroke-width="3.5" stroke-linecap="butt" stroke-linejoin="round"/>
<path d="M1392.2 1076.8 L1566 1076.8" fill="none" stroke="currentColor" stroke-width="3.5" stroke-linecap="butt" stroke-linejoin="round"/>
<path d="M1392.2 1113.7 L1566 1113.7" fill="none" stroke="currentColor" stroke-width="3.5" stroke-linecap="butt" stroke-linejoin="round"/>
<path d="M1392.2 1150.6 L1566 1150.6" fill="none" stroke="currentColor" stroke-width="3.5" stroke-linecap="butt" stroke-linejoin="round"/>
<path d="M1392.2 1187.4 L1566 1187.4" fill="none" stroke="currentColor" stroke-width="3.5" stroke-linecap="butt" stroke-linejoin="round"/>
<path d="M1437 901.8 H1412 V918.4 H1437" fill="none" stroke="currentColor" stroke-width="3.5" stroke-linejoin="round" stroke-linecap="round"/>
<path d="M1479 918.4 L1513.3 918.4" fill="none" stroke="currentColor" stroke-width="3.5" stroke-linecap="butt" stroke-linejoin="round"/>
<path d="M1479 901.8 L1513.3 901.8" fill="none" stroke="currentColor" stroke-width="3.5" stroke-linecap="butt" stroke-linejoin="round"/>
<path d="M1437 938.6 H1412 V955.2 H1437" fill="none" stroke="currentColor" stroke-width="3.5" stroke-linejoin="round" stroke-linecap="round"/>
<path d="M1479 955.2 L1513.3 955.2" fill="none" stroke="currentColor" stroke-width="3.5" stroke-linecap="butt" stroke-linejoin="round"/>
<path d="M1479 938.6 L1513.3 938.6" fill="none" stroke="currentColor" stroke-width="3.5" stroke-linecap="butt" stroke-linejoin="round"/>
<path d="M1437 975.5 H1412 V992.1 H1437" fill="none" stroke="currentColor" stroke-width="3.5" stroke-linejoin="round" stroke-linecap="round"/>
<path d="M1479 992.1 L1513.3 992.1" fill="none" stroke="currentColor" stroke-width="3.5" stroke-linecap="butt" stroke-linejoin="round"/>
<path d="M1479 975.5 L1513.3 975.5" fill="none" stroke="currentColor" stroke-width="3.5" stroke-linecap="butt" stroke-linejoin="round"/>
<path d="M1437 1012.4 H1412 V1029 H1437" fill="none" stroke="currentColor" stroke-width="3.5" stroke-linejoin="round" stroke-linecap="round"/>
<path d="M1479 1029 L1513.3 1029" fill="none" stroke="currentColor" stroke-width="3.5" stroke-linecap="butt" stroke-linejoin="round"/>
<path d="M1479 1012.4 L1513.3 1012.4" fill="none" stroke="currentColor" stroke-width="3.5" stroke-linecap="butt" stroke-linejoin="round"/>
<path d="M1437 1049.2 H1412 V1065.8 H1437" fill="none" stroke="currentColor" stroke-width="3.5" stroke-linejoin="round" stroke-linecap="round"/>
<path d="M1479 1065.8 L1513.3 1065.8" fill="none" stroke="currentColor" stroke-width="3.5" stroke-linecap="butt" stroke-linejoin="round"/>
<path d="M1479 1049.2 L1513.3 1049.2" fill="none" stroke="currentColor" stroke-width="3.5" stroke-linecap="butt" stroke-linejoin="round"/>
<path d="M1437 1086.1 H1412 V1102.7 H1437" fill="none" stroke="currentColor" stroke-width="3.5" stroke-linejoin="round" stroke-linecap="round"/>
<path d="M1479 1102.7 L1513.3 1102.7" fill="none" stroke="currentColor" stroke-width="3.5" stroke-linecap="butt" stroke-linejoin="round"/>
<path d="M1479 1086.1 L1513.3 1086.1" fill="none" stroke="currentColor" stroke-width="3.5" stroke-linecap="butt" stroke-linejoin="round"/>
<path d="M1437 1123 H1412 V1139.6 H1437" fill="none" stroke="currentColor" stroke-width="3.5" stroke-linejoin="round" stroke-linecap="round"/>
<path d="M1479 1139.6 L1513.3 1139.6" fill="none" stroke="currentColor" stroke-width="3.5" stroke-linecap="butt" stroke-linejoin="round"/>
<path d="M1479 1123 L1513.3 1123" fill="none" stroke="currentColor" stroke-width="3.5" stroke-linecap="butt" stroke-linejoin="round"/>
<path d="M1437 1159.8 H1412 V1176.4 H1437" fill="none" stroke="currentColor" stroke-width="3.5" stroke-linejoin="round" stroke-linecap="round"/>
<path d="M1479 1176.4 L1513.3 1176.4" fill="none" stroke="currentColor" stroke-width="3.5" stroke-linecap="butt" stroke-linejoin="round"/>
<path d="M1479 1159.8 L1513.3 1159.8" fill="none" stroke="currentColor" stroke-width="3.5" stroke-linecap="butt" stroke-linejoin="round"/>
<rect x="516" y="483.9" width="15.8" height="2" fill="currentColor"/>
<rect x="516" y="505.4" width="15.8" height="4" fill="currentColor"/>
<rect x="604" y="484.2" width="10.4" height="3" fill="currentColor"/>
<rect x="604" y="504.2" width="10.4" height="3.5" fill="currentColor"/>
<path d="M614.4 486.2 H630.4 M614.4 507.7 H630.4 M616.9 486.7 V504.7" fill="none" stroke="currentColor" stroke-width="1.6" stroke-linejoin="round" stroke-linecap="round"/>
<rect x="516" y="521.4" width="15.8" height="2" fill="currentColor"/>
<rect x="516" y="542.9" width="15.8" height="4" fill="currentColor"/>
<rect x="604" y="521.7" width="10.4" height="3" fill="currentColor"/>
<rect x="604" y="541.7" width="10.4" height="3.5" fill="currentColor"/>
<path d="M614.4 523.7 H630.4 M614.4 545.2 H630.4 M616.9 524.2 V542.2" fill="none" stroke="currentColor" stroke-width="1.6" stroke-linejoin="round" stroke-linecap="round"/>
<rect x="516" y="558.8" width="15.8" height="2" fill="currentColor"/>
<rect x="516" y="580.3" width="15.8" height="4" fill="currentColor"/>
<rect x="604" y="559.1" width="10.4" height="3" fill="currentColor"/>
<rect x="604" y="579.1" width="10.4" height="3.5" fill="currentColor"/>
<path d="M614.4 561.1 H630.4 M614.4 582.6 H630.4 M616.9 561.6 V579.6" fill="none" stroke="currentColor" stroke-width="1.6" stroke-linejoin="round" stroke-linecap="round"/>
<rect x="516" y="596.3" width="15.8" height="2" fill="currentColor"/>
<rect x="516" y="617.8" width="15.8" height="4" fill="currentColor"/>
<rect x="604" y="596.6" width="10.4" height="3" fill="currentColor"/>
<rect x="604" y="616.6" width="10.4" height="3.5" fill="currentColor"/>
<path d="M614.4 598.6 H630.4 M614.4 620.1 H630.4 M616.9 599.1 V617.1" fill="none" stroke="currentColor" stroke-width="1.6" stroke-linejoin="round" stroke-linecap="round"/>
<rect x="516" y="633.7" width="15.8" height="2" fill="currentColor"/>
<rect x="516" y="655.2" width="15.8" height="4" fill="currentColor"/>
<rect x="604" y="634" width="10.4" height="3" fill="currentColor"/>
<rect x="604" y="654" width="10.4" height="3.5" fill="currentColor"/>
<path d="M614.4 636 H630.4 M614.4 657.5 H630.4 M616.9 636.5 V654.5" fill="none" stroke="currentColor" stroke-width="1.6" stroke-linejoin="round" stroke-linecap="round"/>
<rect x="516" y="671.2" width="15.8" height="2" fill="currentColor"/>
<rect x="516" y="692.7" width="15.8" height="4" fill="currentColor"/>
<rect x="604" y="671.5" width="10.4" height="3" fill="currentColor"/>
<rect x="604" y="691.5" width="10.4" height="3.5" fill="currentColor"/>
<path d="M614.4 673.5 H630.4 M614.4 695 H630.4 M616.9 674 V692" fill="none" stroke="currentColor" stroke-width="1.6" stroke-linejoin="round" stroke-linecap="round"/>
<rect x="516" y="708.7" width="15.8" height="2" fill="currentColor"/>
<rect x="516" y="730.2" width="15.8" height="4" fill="currentColor"/>
<rect x="604" y="709" width="10.4" height="3" fill="currentColor"/>
<rect x="604" y="729" width="10.4" height="3.5" fill="currentColor"/>
<path d="M614.4 711 H630.4 M614.4 732.5 H630.4 M616.9 711.5 V729.5" fill="none" stroke="currentColor" stroke-width="1.6" stroke-linejoin="round" stroke-linecap="round"/>
<rect x="516" y="746.1" width="15.8" height="2" fill="currentColor"/>
<rect x="516" y="767.6" width="15.8" height="4" fill="currentColor"/>
<rect x="604" y="746.4" width="10.4" height="3" fill="currentColor"/>
<rect x="604" y="766.4" width="10.4" height="3.5" fill="currentColor"/>
<path d="M614.4 748.4 H630.4 M614.4 769.9 H630.4 M616.9 748.9 V766.9" fill="none" stroke="currentColor" stroke-width="1.6" stroke-linejoin="round" stroke-linecap="round"/>
<rect x="516" y="970.9" width="15.8" height="2" fill="currentColor"/>
<rect x="516" y="992.4" width="15.8" height="4" fill="currentColor"/>
<rect x="604" y="971.2" width="10.4" height="3" fill="currentColor"/>
<rect x="604" y="991.2" width="10.4" height="3.5" fill="currentColor"/>
<path d="M614.4 973.2 H630.4 M614.4 994.7 H630.4 M616.9 973.7 V991.7" fill="none" stroke="currentColor" stroke-width="1.6" stroke-linejoin="round" stroke-linecap="round"/>
<rect x="516" y="1008.3" width="15.8" height="2" fill="currentColor"/>
<rect x="516" y="1029.8" width="15.8" height="4" fill="currentColor"/>
<rect x="604" y="1008.6" width="10.4" height="3" fill="currentColor"/>
<rect x="604" y="1028.6" width="10.4" height="3.5" fill="currentColor"/>
<path d="M614.4 1010.6 H630.4 M614.4 1032.1 H630.4 M616.9 1011.1 V1029.1" fill="none" stroke="currentColor" stroke-width="1.6" stroke-linejoin="round" stroke-linecap="round"/>
<rect x="516" y="1045.8" width="15.8" height="2" fill="currentColor"/>
<rect x="516" y="1067.3" width="15.8" height="4" fill="currentColor"/>
<rect x="604" y="1046.1" width="10.4" height="3" fill="currentColor"/>
<rect x="604" y="1066.1" width="10.4" height="3.5" fill="currentColor"/>
<path d="M614.4 1048.1 H630.4 M614.4 1069.6 H630.4 M616.9 1048.6 V1066.6" fill="none" stroke="currentColor" stroke-width="1.6" stroke-linejoin="round" stroke-linecap="round"/>
<rect x="516" y="1083.3" width="15.8" height="2" fill="currentColor"/>
<rect x="516" y="1104.8" width="15.8" height="4" fill="currentColor"/>
<rect x="604" y="1083.6" width="10.4" height="3" fill="currentColor"/>
<rect x="604" y="1103.6" width="10.4" height="3.5" fill="currentColor"/>
<path d="M614.4 1085.6 H630.4 M614.4 1107.1 H630.4 M616.9 1086.1 V1104.1" fill="none" stroke="currentColor" stroke-width="1.6" stroke-linejoin="round" stroke-linecap="round"/>
<rect x="516" y="1120.7" width="15.8" height="2" fill="currentColor"/>
<rect x="516" y="1142.2" width="15.8" height="4" fill="currentColor"/>
<rect x="604" y="1121" width="10.4" height="3" fill="currentColor"/>
<rect x="604" y="1141" width="10.4" height="3.5" fill="currentColor"/>
<path d="M614.4 1123 H630.4 M614.4 1144.5 H630.4 M616.9 1123.5 V1141.5" fill="none" stroke="currentColor" stroke-width="1.6" stroke-linejoin="round" stroke-linecap="round"/>
<rect x="516" y="1158.2" width="15.8" height="2" fill="currentColor"/>
<rect x="516" y="1179.7" width="15.8" height="4" fill="currentColor"/>
<rect x="604" y="1158.5" width="10.4" height="3" fill="currentColor"/>
<rect x="604" y="1178.5" width="10.4" height="3.5" fill="currentColor"/>
<path d="M614.4 1160.5 H630.4 M614.4 1182 H630.4 M616.9 1161 V1179" fill="none" stroke="currentColor" stroke-width="1.6" stroke-linejoin="round" stroke-linecap="round"/>
<rect x="516" y="1195.6" width="15.8" height="2" fill="currentColor"/>
<rect x="516" y="1217.1" width="15.8" height="4" fill="currentColor"/>
<rect x="604" y="1195.9" width="10.4" height="3" fill="currentColor"/>
<rect x="604" y="1215.9" width="10.4" height="3.5" fill="currentColor"/>
<path d="M614.4 1197.9 H630.4 M614.4 1219.4 H630.4 M616.9 1198.4 V1216.4" fill="none" stroke="currentColor" stroke-width="1.6" stroke-linejoin="round" stroke-linecap="round"/>
<rect x="516" y="1233.1" width="15.8" height="2" fill="currentColor"/>
<rect x="516" y="1254.6" width="15.8" height="4" fill="currentColor"/>
<rect x="604" y="1233.4" width="10.4" height="3" fill="currentColor"/>
<rect x="604" y="1253.4" width="10.4" height="3.5" fill="currentColor"/>
<path d="M614.4 1235.4 H630.4 M614.4 1256.9 H630.4 M616.9 1235.9 V1253.9" fill="none" stroke="currentColor" stroke-width="1.6" stroke-linejoin="round" stroke-linecap="round"/>
<path d="M1210 499.2 H1222 M1216 489.2 V507.2 M1211 504.2 L1221 494.2" fill="none" stroke="currentColor" stroke-width="1.5" stroke-linejoin="round" stroke-linecap="round"/>
<rect x="1295.9" y="484.2" width="10.4" height="3" fill="currentColor"/>
<rect x="1295.9" y="504.2" width="10.4" height="3.5" fill="currentColor"/>
<path d="M1306.3 486.2 H1322.3 M1306.3 507.7 H1322.3 M1308.8 486.7 V504.7" fill="none" stroke="currentColor" stroke-width="1.6" stroke-linejoin="round" stroke-linecap="round"/>
<path d="M1210 536.7 H1222 M1216 526.7 V544.7 M1211 541.7 L1221 531.7" fill="none" stroke="currentColor" stroke-width="1.5" stroke-linejoin="round" stroke-linecap="round"/>
<rect x="1295.9" y="521.7" width="10.4" height="3" fill="currentColor"/>
<rect x="1295.9" y="541.7" width="10.4" height="3.5" fill="currentColor"/>
<path d="M1306.3 523.7 H1322.3 M1306.3 545.2 H1322.3 M1308.8 524.2 V542.2" fill="none" stroke="currentColor" stroke-width="1.6" stroke-linejoin="round" stroke-linecap="round"/>
<path d="M1210 574.1 H1222 M1216 564.1 V582.1 M1211 579.1 L1221 569.1" fill="none" stroke="currentColor" stroke-width="1.5" stroke-linejoin="round" stroke-linecap="round"/>
<rect x="1295.9" y="559.1" width="10.4" height="3" fill="currentColor"/>
<rect x="1295.9" y="579.1" width="10.4" height="3.5" fill="currentColor"/>
<path d="M1306.3 561.1 H1322.3 M1306.3 582.6 H1322.3 M1308.8 561.6 V579.6" fill="none" stroke="currentColor" stroke-width="1.6" stroke-linejoin="round" stroke-linecap="round"/>
<path d="M1210 611.6 H1222 M1216 601.6 V619.6 M1211 616.6 L1221 606.6" fill="none" stroke="currentColor" stroke-width="1.5" stroke-linejoin="round" stroke-linecap="round"/>
<rect x="1295.9" y="596.6" width="10.4" height="3" fill="currentColor"/>
<rect x="1295.9" y="616.6" width="10.4" height="3.5" fill="currentColor"/>
<path d="M1306.3 598.6 H1322.3 M1306.3 620.1 H1322.3 M1308.8 599.1 V617.1" fill="none" stroke="currentColor" stroke-width="1.6" stroke-linejoin="round" stroke-linecap="round"/>
<path d="M1210 649 H1222 M1216 639 V657 M1211 654 L1221 644" fill="none" stroke="currentColor" stroke-width="1.5" stroke-linejoin="round" stroke-linecap="round"/>
<rect x="1295.9" y="634" width="10.4" height="3" fill="currentColor"/>
<rect x="1295.9" y="654" width="10.4" height="3.5" fill="currentColor"/>
<path d="M1306.3 636 H1322.3 M1306.3 657.5 H1322.3 M1308.8 636.5 V654.5" fill="none" stroke="currentColor" stroke-width="1.6" stroke-linejoin="round" stroke-linecap="round"/>
<path d="M1210 686.5 H1222 M1216 676.5 V694.5 M1211 691.5 L1221 681.5" fill="none" stroke="currentColor" stroke-width="1.5" stroke-linejoin="round" stroke-linecap="round"/>
<rect x="1295.9" y="671.5" width="10.4" height="3" fill="currentColor"/>
<rect x="1295.9" y="691.5" width="10.4" height="3.5" fill="currentColor"/>
<path d="M1306.3 673.5 H1322.3 M1306.3 695 H1322.3 M1308.8 674 V692" fill="none" stroke="currentColor" stroke-width="1.6" stroke-linejoin="round" stroke-linecap="round"/>
<path d="M1210 724 H1222 M1216 714 V732 M1211 729 L1221 719" fill="none" stroke="currentColor" stroke-width="1.5" stroke-linejoin="round" stroke-linecap="round"/>
<rect x="1295.9" y="709" width="10.4" height="3" fill="currentColor"/>
<rect x="1295.9" y="729" width="10.4" height="3.5" fill="currentColor"/>
<path d="M1306.3 711 H1322.3 M1306.3 732.5 H1322.3 M1308.8 711.5 V729.5" fill="none" stroke="currentColor" stroke-width="1.6" stroke-linejoin="round" stroke-linecap="round"/>
<path d="M1210 761.4 H1222 M1216 751.4 V769.4 M1211 766.4 L1221 756.4" fill="none" stroke="currentColor" stroke-width="1.5" stroke-linejoin="round" stroke-linecap="round"/>
<rect x="1295.9" y="746.4" width="10.4" height="3" fill="currentColor"/>
<rect x="1295.9" y="766.4" width="10.4" height="3.5" fill="currentColor"/>
<path d="M1306.3 748.4 H1322.3 M1306.3 769.9 H1322.3 M1308.8 748.9 V766.9" fill="none" stroke="currentColor" stroke-width="1.6" stroke-linejoin="round" stroke-linecap="round"/>
<path d="M1210 911.3 H1222 M1216 901.3 V919.3 M1211 916.3 L1221 906.3" fill="none" stroke="currentColor" stroke-width="1.5" stroke-linejoin="round" stroke-linecap="round"/>
<rect x="1295.9" y="896.3" width="10.4" height="3" fill="currentColor"/>
<rect x="1295.9" y="916.3" width="10.4" height="3.5" fill="currentColor"/>
<path d="M1306.3 898.3 H1322.3 M1306.3 919.8 H1322.3 M1308.8 898.8 V916.8" fill="none" stroke="currentColor" stroke-width="1.6" stroke-linejoin="round" stroke-linecap="round"/>
<path d="M1210 948.7 H1222 M1216 938.7 V956.7 M1211 953.7 L1221 943.7" fill="none" stroke="currentColor" stroke-width="1.5" stroke-linejoin="round" stroke-linecap="round"/>
<rect x="1295.9" y="933.7" width="10.4" height="3" fill="currentColor"/>
<rect x="1295.9" y="953.7" width="10.4" height="3.5" fill="currentColor"/>
<path d="M1306.3 935.7 H1322.3 M1306.3 957.2 H1322.3 M1308.8 936.2 V954.2" fill="none" stroke="currentColor" stroke-width="1.6" stroke-linejoin="round" stroke-linecap="round"/>
<path d="M1210 986.2 H1222 M1216 976.2 V994.2 M1211 991.2 L1221 981.2" fill="none" stroke="currentColor" stroke-width="1.5" stroke-linejoin="round" stroke-linecap="round"/>
<rect x="1295.9" y="971.2" width="10.4" height="3" fill="currentColor"/>
<rect x="1295.9" y="991.2" width="10.4" height="3.5" fill="currentColor"/>
<path d="M1306.3 973.2 H1322.3 M1306.3 994.7 H1322.3 M1308.8 973.7 V991.7" fill="none" stroke="currentColor" stroke-width="1.6" stroke-linejoin="round" stroke-linecap="round"/>
<path d="M1210 1023.6 H1222 M1216 1013.6 V1031.6 M1211 1028.6 L1221 1018.6" fill="none" stroke="currentColor" stroke-width="1.5" stroke-linejoin="round" stroke-linecap="round"/>
<rect x="1295.9" y="1008.6" width="10.4" height="3" fill="currentColor"/>
<rect x="1295.9" y="1028.6" width="10.4" height="3.5" fill="currentColor"/>
<path d="M1306.3 1010.6 H1322.3 M1306.3 1032.1 H1322.3 M1308.8 1011.1 V1029.1" fill="none" stroke="currentColor" stroke-width="1.6" stroke-linejoin="round" stroke-linecap="round"/>
<path d="M1210 1061.1 H1222 M1216 1051.1 V1069.1 M1211 1066.1 L1221 1056.1" fill="none" stroke="currentColor" stroke-width="1.5" stroke-linejoin="round" stroke-linecap="round"/>
<rect x="1295.9" y="1046.1" width="10.4" height="3" fill="currentColor"/>
<rect x="1295.9" y="1066.1" width="10.4" height="3.5" fill="currentColor"/>
<path d="M1306.3 1048.1 H1322.3 M1306.3 1069.6 H1322.3 M1308.8 1048.6 V1066.6" fill="none" stroke="currentColor" stroke-width="1.6" stroke-linejoin="round" stroke-linecap="round"/>
<path d="M1210 1098.6 H1222 M1216 1088.6 V1106.6 M1211 1103.6 L1221 1093.6" fill="none" stroke="currentColor" stroke-width="1.5" stroke-linejoin="round" stroke-linecap="round"/>
<rect x="1295.9" y="1083.6" width="10.4" height="3" fill="currentColor"/>
<rect x="1295.9" y="1103.6" width="10.4" height="3.5" fill="currentColor"/>
<path d="M1306.3 1085.6 H1322.3 M1306.3 1107.1 H1322.3 M1308.8 1086.1 V1104.1" fill="none" stroke="currentColor" stroke-width="1.6" stroke-linejoin="round" stroke-linecap="round"/>
<path d="M1210 1136 H1222 M1216 1126 V1144 M1211 1141 L1221 1131" fill="none" stroke="currentColor" stroke-width="1.5" stroke-linejoin="round" stroke-linecap="round"/>
<rect x="1295.9" y="1121" width="10.4" height="3" fill="currentColor"/>
<rect x="1295.9" y="1141" width="10.4" height="3.5" fill="currentColor"/>
<path d="M1306.3 1123 H1322.3 M1306.3 1144.5 H1322.3 M1308.8 1123.5 V1141.5" fill="none" stroke="currentColor" stroke-width="1.6" stroke-linejoin="round" stroke-linecap="round"/>
<path d="M1210 1173.5 H1222 M1216 1163.5 V1181.5 M1211 1178.5 L1221 1168.5" fill="none" stroke="currentColor" stroke-width="1.5" stroke-linejoin="round" stroke-linecap="round"/>
<rect x="1295.9" y="1158.5" width="10.4" height="3" fill="currentColor"/>
<rect x="1295.9" y="1178.5" width="10.4" height="3.5" fill="currentColor"/>
<path d="M1306.3 1160.5 H1322.3 M1306.3 1182 H1322.3 M1308.8 1161 V1179" fill="none" stroke="currentColor" stroke-width="1.6" stroke-linejoin="round" stroke-linecap="round"/>
<rect x="394" y="785.7" width="7" height="21.3" fill="currentColor"/>
<rect x="360.3" y="780.1" width="65.6" height="32.9" fill="none" stroke="currentColor" stroke-width="1.8"/>
<rect x="394" y="1272" width="7" height="22" fill="currentColor"/>
<rect x="360.3" y="1266.4" width="65.6" height="33.6" fill="none" stroke="currentColor" stroke-width="1.8"/>
<rect x="1060.8" y="786" width="10.2" height="22" fill="currentColor"/>
<rect x="1033.3" y="780.4" width="66.4" height="33.6" fill="none" stroke="currentColor" stroke-width="1.8"/>
<rect x="1060" y="1198.6" width="10" height="19.8" fill="currentColor"/>
<rect x="1033.3" y="1193" width="65.9" height="31.4" fill="none" stroke="currentColor" stroke-width="1.8"/>
<rect x="732" y="819.5" width="35" height="66" fill="none" stroke="currentColor" stroke-width="1.8"/>
<rect x="738" y="848.5" width="21" height="7.5" fill="currentColor"/>
<path d="M492.6 871.6 H505.6 V884.6 M480.6 909.6 H505.6 V896.6" fill="none" stroke="currentColor" stroke-width="2.5" stroke-linejoin="round" stroke-linecap="round"/>
<path d="M528 834 H541 V847 M516 872 H541 V859" fill="none" stroke="currentColor" stroke-width="2.5" stroke-linejoin="round" stroke-linecap="round"/>
<path d="M605 834 H618 V847 M593 872 H618 V859" fill="none" stroke="currentColor" stroke-width="2.5" stroke-linejoin="round" stroke-linecap="round"/>
<path d="M567 871.6 H580 V884.6 M555 909.6 H580 V896.6" fill="none" stroke="currentColor" stroke-width="2.5" stroke-linejoin="round" stroke-linecap="round"/>
<path d="M528 907.4 H541 V920.4 M516 945.4 H541 V932.4" fill="none" stroke="currentColor" stroke-width="2.5" stroke-linejoin="round" stroke-linecap="round"/>
<path d="M454 907.4 H467 V920.4 M442 945.4 H467 V932.4" fill="none" stroke="currentColor" stroke-width="2.5" stroke-linejoin="round" stroke-linecap="round"/>
<circle cx="670.3" cy="1338" r="26" fill="none" stroke="currentColor" stroke-width="4"/>
<circle cx="670.3" cy="1338" r="19.5" fill="none" stroke="currentColor" stroke-width="3.5"/>
<path d="M672.3 1350 l12 -9 v18Z" fill="currentColor" fill-rule="evenodd"/>
<circle cx="1329.6" cy="1338.8" r="26" fill="none" stroke="currentColor" stroke-width="4"/>
<circle cx="1329.6" cy="1338.8" r="19.5" fill="none" stroke="currentColor" stroke-width="3.5"/>
<path d="M1331.6 1350.8 l12 -9 v18Z" fill="currentColor" fill-rule="evenodd"/>
<rect x="797.3" y="1257.6" width="387.1" height="160.2" fill="none" stroke="currentColor" stroke-width="3.8"/>
<rect x="796.3" y="1257.6" width="8.3" height="160.2" fill="currentColor"/>
<rect x="800" y="1276" width="322" height="6" fill="currentColor"/>
<rect x="1122" y="1283" width="39.5" height="3.5" fill="currentColor"/>
<rect x="822" y="1298" width="71" height="12" fill="currentColor"/>
<rect x="1045" y="1298" width="105" height="12" fill="currentColor"/>
<rect x="822" y="1367" width="71" height="12" fill="currentColor"/>
<rect x="1045" y="1367" width="107" height="12" fill="currentColor"/>
<rect x="800" y="1390" width="93" height="6" fill="currentColor"/>
<rect x="1040" y="1390" width="112" height="6" fill="currentColor"/>
<rect x="1157" y="1286" width="4.5" height="36" fill="currentColor"/>
<rect x="834" y="1282" width="8" height="108" fill="currentColor"/>
<rect x="1118" y="1282" width="4.4" height="108" fill="currentColor"/>
<rect x="1142" y="1310" width="6" height="57" fill="currentColor"/>
<rect x="1067" y="1286" width="8.5" height="12" fill="currentColor"/>
<rect x="1067" y="1379" width="8.5" height="11" fill="currentColor"/>
<rect x="1047" y="1310" width="7" height="57" fill="currentColor"/>
<rect x="846" y="1310" width="7" height="57" fill="currentColor"/>
<path d="M806 1284 L820 1296" fill="none" stroke="currentColor" stroke-width="3" stroke-linecap="round" stroke-linejoin="round"/>
<path d="M806 1392 L820 1380" fill="none" stroke="currentColor" stroke-width="3" stroke-linecap="round" stroke-linejoin="round"/>
<rect x="860" y="1287" width="60" height="7" fill="#fff"/>
<rect x="1080" y="1289" width="36" height="7" fill="#fff"/>
<circle cx="869" cy="1338" r="28" fill="none" stroke="currentColor" stroke-width="2.5"/>
<circle cx="1083" cy="1338" r="26.8" fill="none" stroke="currentColor" stroke-width="2.8"/>
<rect x="850.4" y="1492.7" width="104.4" height="15.8" fill="none" stroke="currentColor" stroke-width="2"/>
<rect x="850.4" y="1187.5" width="104.4" height="15.8" fill="none" stroke="currentColor" stroke-width="2"/>
<rect x="850.4" y="1512.6" width="236.6" height="14.4" fill="none" stroke="currentColor" stroke-width="2"/>
<rect x="850.4" y="1169" width="236.6" height="14.4" fill="none" stroke="currentColor" stroke-width="2"/>
<rect x="977.7" y="1492.7" width="109.3" height="15.8" fill="none" stroke="currentColor" stroke-width="2"/>
<rect x="977.7" y="1187.5" width="109.3" height="15.8" fill="none" stroke="currentColor" stroke-width="2"/>
<rect x="977.7" y="1426.6" width="109.3" height="14.2" fill="none" stroke="currentColor" stroke-width="2"/>
<rect x="977.7" y="1255.2" width="109.3" height="14.2" fill="none" stroke="currentColor" stroke-width="2"/>
<rect x="977.7" y="1444.5" width="109.3" height="16.7" fill="none" stroke="currentColor" stroke-width="2"/>
<rect x="977.7" y="1234.8" width="109.3" height="16.7" fill="none" stroke="currentColor" stroke-width="2"/>
<path d="M954.8 1439 L954.8 1512.6" fill="none" stroke="currentColor" stroke-width="2" stroke-linecap="butt" stroke-linejoin="round"/>
<path d="M954.8 1257 L954.8 1183.4" fill="none" stroke="currentColor" stroke-width="2" stroke-linecap="butt" stroke-linejoin="round"/>
<path d="M977.7 1426.6 L977.7 1512.6" fill="none" stroke="currentColor" stroke-width="2" stroke-linecap="butt" stroke-linejoin="round"/>
<path d="M977.7 1269.4 L977.7 1183.4" fill="none" stroke="currentColor" stroke-width="2" stroke-linecap="butt" stroke-linejoin="round"/>
<path d="M889.6 1418 V1426 Q889.6 1430 894 1430 H934" fill="none" stroke="currentColor" stroke-width="3.5" stroke-linejoin="round" stroke-linecap="round"/>
</g>
<g id="l_text" color="#7c7c7c" opacity="0.74">
<circle cx="112.8" cy="122.4" r="15" fill="none" stroke="currentColor" stroke-width="1.5"/>
<path d="M95.8 139.4 L127.8 107.4" fill="none" stroke="currentColor" stroke-width="1.5" stroke-linecap="round" stroke-linejoin="round"/>
<circle cx="112.8" cy="1356.9" r="15" fill="none" stroke="currentColor" stroke-width="1.5"/>
<path d="M95.8 1373.9 L127.8 1341.9" fill="none" stroke="currentColor" stroke-width="1.5" stroke-linecap="round" stroke-linejoin="round"/>
<circle cx="1534.7" cy="1356.4" r="15" fill="none" stroke="currentColor" stroke-width="1.5"/>
<path d="M1517.7 1373.4 L1549.7 1341.4" fill="none" stroke="currentColor" stroke-width="1.5" stroke-linecap="round" stroke-linejoin="round"/>
<circle cx="1534.6" cy="122.4" r="15" fill="none" stroke="currentColor" stroke-width="1.5"/>
<path d="M1517.6 139.4 L1549.6 107.4" fill="none" stroke="currentColor" stroke-width="1.5" stroke-linecap="round" stroke-linejoin="round"/>
<path d="M382.6 645.8 L404.6 645.8" fill="none" stroke="currentColor" stroke-width="1.5" stroke-linecap="round" stroke-linejoin="round"/>
<path d="M393.6 634.8 L393.6 656.8" fill="none" stroke="currentColor" stroke-width="1.5" stroke-linecap="round" stroke-linejoin="round"/>
<text transform="translate(356.1 474.1)" font-size="27" text-anchor="start" textLength="30.5" lengthAdjust="spacingAndGlyphs" fill="currentColor">IC6</text>
<path d="M341.1 474.9 L355.1 474.9" fill="none" stroke="currentColor" stroke-width="1.5" stroke-linecap="round" stroke-linejoin="round"/>
<path d="M349.1 455.9 L349.1 483.9" fill="none" stroke="currentColor" stroke-width="1.5" stroke-linecap="round" stroke-linejoin="round"/>
<path d="M382.6 1132.8 L404.6 1132.8" fill="none" stroke="currentColor" stroke-width="1.5" stroke-linecap="round" stroke-linejoin="round"/>
<path d="M393.6 1121.8 L393.6 1143.8" fill="none" stroke="currentColor" stroke-width="1.5" stroke-linecap="round" stroke-linejoin="round"/>
<text transform="translate(356.1 961.1)" font-size="27" text-anchor="start" textLength="30.5" lengthAdjust="spacingAndGlyphs" fill="currentColor">IC7</text>
<path d="M341.1 961.9 L355.1 961.9" fill="none" stroke="currentColor" stroke-width="1.5" stroke-linecap="round" stroke-linejoin="round"/>
<path d="M349.1 942.9 L349.1 970.9" fill="none" stroke="currentColor" stroke-width="1.5" stroke-linecap="round" stroke-linejoin="round"/>
<path d="M1054.2 645.8 L1076.2 645.8" fill="none" stroke="currentColor" stroke-width="1.5" stroke-linecap="round" stroke-linejoin="round"/>
<path d="M1065.2 634.8 L1065.2 656.8" fill="none" stroke="currentColor" stroke-width="1.5" stroke-linecap="round" stroke-linejoin="round"/>
<text transform="translate(1027.5 474.1)" font-size="27" text-anchor="start" textLength="30.5" lengthAdjust="spacingAndGlyphs" fill="currentColor">IC2</text>
<path d="M1012.5 474.9 L1026.5 474.9" fill="none" stroke="currentColor" stroke-width="1.5" stroke-linecap="round" stroke-linejoin="round"/>
<path d="M1020.5 455.9 L1020.5 483.9" fill="none" stroke="currentColor" stroke-width="1.5" stroke-linecap="round" stroke-linejoin="round"/>
<path d="M1054.2 1057.8 L1076.2 1057.8" fill="none" stroke="currentColor" stroke-width="1.5" stroke-linecap="round" stroke-linejoin="round"/>
<path d="M1065.2 1046.8 L1065.2 1068.8" fill="none" stroke="currentColor" stroke-width="1.5" stroke-linecap="round" stroke-linejoin="round"/>
<text transform="translate(1027.5 886.2)" font-size="27" text-anchor="start" textLength="30.5" lengthAdjust="spacingAndGlyphs" fill="currentColor">IC3</text>
<path d="M1012.5 887 L1026.5 887" fill="none" stroke="currentColor" stroke-width="1.5" stroke-linecap="round" stroke-linejoin="round"/>
<path d="M1020.5 868 L1020.5 896" fill="none" stroke="currentColor" stroke-width="1.5" stroke-linecap="round" stroke-linejoin="round"/>
<text transform="translate(727 459)" font-size="34" text-anchor="start" textLength="42" lengthAdjust="spacingAndGlyphs" opacity="0.78" fill="currentColor">IC1</text>
<path d="M723 441 L723 462" fill="none" stroke="currentColor" stroke-width="1.5" stroke-linecap="round" stroke-linejoin="round"/>
<path d="M716 461 L735 461" fill="none" stroke="currentColor" stroke-width="1.5" stroke-linecap="round" stroke-linejoin="round"/>
<path d="M812 853 L838 853" fill="none" stroke="currentColor" stroke-width="1.5" stroke-linecap="round" stroke-linejoin="round"/>
<path d="M824 838 L824 866" fill="none" stroke="currentColor" stroke-width="1.5" stroke-linecap="round" stroke-linejoin="round"/>
<text transform="translate(816 766) rotate(-90)" font-size="36" text-anchor="start" textLength="182" lengthAdjust="spacingAndGlyphs" opacity="0.78" fill="currentColor">MEGA16-P</text>
<path d="M818 574 L818 562" fill="none" stroke="currentColor" stroke-width="2" stroke-linecap="round" stroke-linejoin="round"/>
<path d="M796 541 L817 541" fill="none" stroke="currentColor" stroke-width="1.5" stroke-linecap="round" stroke-linejoin="round"/>
<path d="M796 531 L817 531" fill="none" stroke="currentColor" stroke-width="1.5" stroke-linecap="round" stroke-linejoin="round"/>
<path d="M796 522 L817 522" fill="none" stroke="currentColor" stroke-width="1.5" stroke-linecap="round" stroke-linejoin="round"/>
<path d="M783 527 L800 527" fill="none" stroke="currentColor" stroke-width="1.5" stroke-linecap="round" stroke-linejoin="round"/>
<path d="M792 517 L792 534" fill="none" stroke="currentColor" stroke-width="1.5" stroke-linecap="round" stroke-linejoin="round"/>
<path d="M151.8 627 L183.8 627" fill="none" stroke="currentColor" stroke-width="1.5" stroke-linecap="round" stroke-linejoin="round"/>
<path d="M167.8 613 L167.8 641" fill="none" stroke="currentColor" stroke-width="1.5" stroke-linecap="round" stroke-linejoin="round"/>
<path d="M151.8 1114 L183.8 1114" fill="none" stroke="currentColor" stroke-width="1.5" stroke-linecap="round" stroke-linejoin="round"/>
<path d="M167.8 1100 L167.8 1128" fill="none" stroke="currentColor" stroke-width="1.5" stroke-linecap="round" stroke-linejoin="round"/>
<path d="M1480.2 627 L1512.2 627" fill="none" stroke="currentColor" stroke-width="1.5" stroke-linecap="round" stroke-linejoin="round"/>
<path d="M1496.2 613 L1496.2 641" fill="none" stroke="currentColor" stroke-width="1.5" stroke-linecap="round" stroke-linejoin="round"/>
<path d="M1480.2 1039.1 L1512.2 1039.1" fill="none" stroke="currentColor" stroke-width="1.5" stroke-linecap="round" stroke-linejoin="round"/>
<path d="M1496.2 1025.1 L1496.2 1053.1" fill="none" stroke="currentColor" stroke-width="1.5" stroke-linecap="round" stroke-linejoin="round"/>
<text transform="translate(93 757) rotate(-90)" font-size="22" text-anchor="start" fill="currentColor">X4</text>
<path d="M86 771 L103 771" fill="none" stroke="currentColor" stroke-width="1.5" stroke-linecap="round" stroke-linejoin="round"/>
<path d="M97 762 L97 782" fill="none" stroke="currentColor" stroke-width="1.5" stroke-linecap="round" stroke-linejoin="round"/>
<text transform="translate(93 1243) rotate(-90)" font-size="22" text-anchor="start" fill="currentColor">X5</text>
<path d="M86 1254 L103 1254" fill="none" stroke="currentColor" stroke-width="1.5" stroke-linecap="round" stroke-linejoin="round"/>
<path d="M92 1243 L92 1266" fill="none" stroke="currentColor" stroke-width="1.5" stroke-linecap="round" stroke-linejoin="round"/>
<text transform="translate(1572 494) rotate(90)" font-size="22" text-anchor="start" fill="currentColor">X1</text>
<path d="M1566 499 L1590 499" fill="none" stroke="currentColor" stroke-width="1.5" stroke-linecap="round" stroke-linejoin="round"/>
<path d="M1575 489 L1575 509" fill="none" stroke="currentColor" stroke-width="1.5" stroke-linecap="round" stroke-linejoin="round"/>
<text transform="translate(1572 903) rotate(90)" font-size="22" text-anchor="start" fill="currentColor">X2</text>
<path d="M1566 908 L1590 908" fill="none" stroke="currentColor" stroke-width="1.5" stroke-linecap="round" stroke-linejoin="round"/>
<path d="M1575 898 L1575 918" fill="none" stroke="currentColor" stroke-width="1.5" stroke-linecap="round" stroke-linejoin="round"/>
<path d="M387 796.4 L408 796.4" fill="none" stroke="currentColor" stroke-width="1.5" stroke-linecap="round" stroke-linejoin="round"/>
<path d="M387 1283 L408 1283" fill="none" stroke="currentColor" stroke-width="1.5" stroke-linecap="round" stroke-linejoin="round"/>
<path d="M1053.8 797 L1078 797" fill="none" stroke="currentColor" stroke-width="1.5" stroke-linecap="round" stroke-linejoin="round"/>
<path d="M1053 1208.5 L1077 1208.5" fill="none" stroke="currentColor" stroke-width="1.5" stroke-linecap="round" stroke-linejoin="round"/>
<text transform="translate(500 776) scale(-1 1)" font-size="22" text-anchor="start" textLength="126" lengthAdjust="spacingAndGlyphs" fill="currentColor">FAKER_SMD</text>
<path d="M368 762 L388 762" fill="none" stroke="currentColor" stroke-width="1.5" stroke-linecap="round" stroke-linejoin="round"/>
<path d="M376 752 L376 772" fill="none" stroke="currentColor" stroke-width="1.5" stroke-linecap="round" stroke-linejoin="round"/>
<text transform="translate(436 832) scale(-1 1)" font-size="21" text-anchor="start" textLength="62" lengthAdjust="spacingAndGlyphs" fill="currentColor">US$10</text>
<text transform="translate(500 1263) scale(-1 1)" font-size="22" text-anchor="start" textLength="126" lengthAdjust="spacingAndGlyphs" fill="currentColor">FAKER_SMD</text>
<path d="M368 1248 L388 1248" fill="none" stroke="currentColor" stroke-width="1.5" stroke-linecap="round" stroke-linejoin="round"/>
<path d="M376 1238 L376 1258" fill="none" stroke="currentColor" stroke-width="1.5" stroke-linecap="round" stroke-linejoin="round"/>
<text transform="translate(436 1318) scale(-1 1)" font-size="21" text-anchor="start" textLength="62" lengthAdjust="spacingAndGlyphs" fill="currentColor">US$11</text>
<text transform="translate(1175 775.5) scale(-1 1)" font-size="22" text-anchor="start" textLength="128" lengthAdjust="spacingAndGlyphs" fill="currentColor">FAKER_SMD</text>
<path d="M1040 759.2 L1053 759.2" fill="none" stroke="currentColor" stroke-width="1.5" stroke-linecap="round" stroke-linejoin="round"/>
<path d="M1046.8 750 L1046.8 766" fill="none" stroke="currentColor" stroke-width="1.5" stroke-linecap="round" stroke-linejoin="round"/>
<text transform="translate(1092 832) scale(-1 1)" font-size="22" text-anchor="start" textLength="46" lengthAdjust="spacingAndGlyphs" fill="currentColor">US$7</text>
<text transform="translate(1098 1190) scale(-1 1)" font-size="21" text-anchor="start" textLength="50" lengthAdjust="spacingAndGlyphs" fill="currentColor">US$5</text>
<text transform="translate(1084 1252) scale(-1 1)" font-size="21" text-anchor="start" textLength="128" lengthAdjust="spacingAndGlyphs" fill="currentColor">FAKER_SMD</text>
<text transform="translate(769 892) rotate(-90)" font-size="16" text-anchor="start" textLength="58" lengthAdjust="spacingAndGlyphs" fill="currentColor">US$8</text>
<text transform="translate(726 868) rotate(-90)" font-size="22" text-anchor="start" textLength="136" lengthAdjust="spacingAndGlyphs" fill="currentColor">C-EU100n</text>
<text transform="translate(467 906) rotate(-90)" font-size="23" text-anchor="start" textLength="58" lengthAdjust="spacingAndGlyphs" fill="currentColor">US$13</text>
<text transform="translate(505 872) rotate(-90)" font-size="23" text-anchor="start" textLength="58" lengthAdjust="spacingAndGlyphs" fill="currentColor">US$14</text>
<text transform="translate(577 872) rotate(-90)" font-size="23" text-anchor="start" textLength="62" lengthAdjust="spacingAndGlyphs" fill="currentColor">US$15</text>
<text transform="translate(541 910) rotate(-90)" font-size="23" text-anchor="start" textLength="38" lengthAdjust="spacingAndGlyphs" fill="currentColor">US$</text>
<text transform="translate(503 950) rotate(-90)" font-size="23" text-anchor="start" textLength="38" lengthAdjust="spacingAndGlyphs" fill="currentColor">US$</text>
<text transform="translate(429 948) rotate(-90)" font-size="23" text-anchor="start" textLength="62" lengthAdjust="spacingAndGlyphs" fill="currentColor">US$12</text>
<text transform="translate(570 531.2)" font-size="23" text-anchor="start" textLength="66" lengthAdjust="spacingAndGlyphs" fill="currentColor">LED22</text>
<text transform="translate(560 531.2) scale(-1 1)" font-size="23" text-anchor="start" textLength="62" lengthAdjust="spacingAndGlyphs" fill="currentColor">R36</text>
<text transform="translate(570 568.7)" font-size="23" text-anchor="start" textLength="66" lengthAdjust="spacingAndGlyphs" fill="currentColor">LED21</text>
<text transform="translate(560 568.7) scale(-1 1)" font-size="23" text-anchor="start" textLength="62" lengthAdjust="spacingAndGlyphs" fill="currentColor">R37</text>
<text transform="translate(570 606.1)" font-size="23" text-anchor="start" textLength="66" lengthAdjust="spacingAndGlyphs" fill="currentColor">LED20</text>
<text transform="translate(560 606.1) scale(-1 1)" font-size="23" text-anchor="start" textLength="62" lengthAdjust="spacingAndGlyphs" fill="currentColor">R38</text>
<text transform="translate(570 643.6)" font-size="23" text-anchor="start" textLength="66" lengthAdjust="spacingAndGlyphs" fill="currentColor">LED19</text>
<text transform="translate(560 643.6) scale(-1 1)" font-size="23" text-anchor="start" textLength="62" lengthAdjust="spacingAndGlyphs" fill="currentColor">R39</text>
<text transform="translate(570 681)" font-size="23" text-anchor="start" textLength="66" lengthAdjust="spacingAndGlyphs" fill="currentColor">LED28</text>
<text transform="translate(560 681) scale(-1 1)" font-size="23" text-anchor="start" textLength="62" lengthAdjust="spacingAndGlyphs" fill="currentColor">R40</text>
<text transform="translate(570 718.5)" font-size="23" text-anchor="start" textLength="66" lengthAdjust="spacingAndGlyphs" fill="currentColor">LED27</text>
<text transform="translate(560 718.5) scale(-1 1)" font-size="23" text-anchor="start" textLength="62" lengthAdjust="spacingAndGlyphs" fill="currentColor">R41</text>
<text transform="translate(570 756)" font-size="23" text-anchor="start" textLength="66" lengthAdjust="spacingAndGlyphs" fill="currentColor">LED26</text>
<text transform="translate(560 756) scale(-1 1)" font-size="23" text-anchor="start" textLength="62" lengthAdjust="spacingAndGlyphs" fill="currentColor">R34</text>
<text transform="translate(570 793.4)" font-size="23" text-anchor="start" textLength="66" lengthAdjust="spacingAndGlyphs" fill="currentColor">LED25</text>
<text transform="translate(496 793.4)" font-size="23" text-anchor="start" textLength="50" lengthAdjust="spacingAndGlyphs" fill="currentColor">R35</text>
<text transform="translate(570 1018.2)" font-size="23" text-anchor="start" textLength="66" lengthAdjust="spacingAndGlyphs" fill="currentColor">LED17</text>
<text transform="translate(560 1018.2) scale(-1 1)" font-size="23" text-anchor="start" textLength="62" lengthAdjust="spacingAndGlyphs" fill="currentColor">R35</text>
<text transform="translate(570 1055.6)" font-size="23" text-anchor="start" textLength="66" lengthAdjust="spacingAndGlyphs" fill="currentColor">LED18</text>
<text transform="translate(560 1055.6) scale(-1 1)" font-size="23" text-anchor="start" textLength="62" lengthAdjust="spacingAndGlyphs" fill="currentColor">R36</text>
<text transform="translate(570 1093.1)" font-size="23" text-anchor="start" textLength="66" lengthAdjust="spacingAndGlyphs" fill="currentColor">LED19</text>
<text transform="translate(560 1093.1) scale(-1 1)" font-size="23" text-anchor="start" textLength="62" lengthAdjust="spacingAndGlyphs" fill="currentColor">R37</text>
<text transform="translate(570 1130.6)" font-size="23" text-anchor="start" textLength="66" lengthAdjust="spacingAndGlyphs" fill="currentColor">LED20</text>
<text transform="translate(560 1130.6) scale(-1 1)" font-size="23" text-anchor="start" textLength="62" lengthAdjust="spacingAndGlyphs" fill="currentColor">R38</text>
<text transform="translate(570 1168)" font-size="23" text-anchor="start" textLength="66" lengthAdjust="spacingAndGlyphs" fill="currentColor">LED21</text>
<text transform="translate(560 1168) scale(-1 1)" font-size="23" text-anchor="start" textLength="62" lengthAdjust="spacingAndGlyphs" fill="currentColor">R39</text>
<text transform="translate(570 1205.5)" font-size="23" text-anchor="start" textLength="66" lengthAdjust="spacingAndGlyphs" fill="currentColor">LED22</text>
<text transform="translate(560 1205.5) scale(-1 1)" font-size="23" text-anchor="start" textLength="62" lengthAdjust="spacingAndGlyphs" fill="currentColor">R40</text>
<text transform="translate(570 1242.9)" font-size="23" text-anchor="start" textLength="66" lengthAdjust="spacingAndGlyphs" fill="currentColor">LED23</text>
<text transform="translate(560 1242.9) scale(-1 1)" font-size="23" text-anchor="start" textLength="62" lengthAdjust="spacingAndGlyphs" fill="currentColor">R41</text>
<text transform="translate(570 1280.4)" font-size="23" text-anchor="start" textLength="66" lengthAdjust="spacingAndGlyphs" fill="currentColor">LED24</text>
<text transform="translate(496 1280.4)" font-size="23" text-anchor="start" textLength="50" lengthAdjust="spacingAndGlyphs" fill="currentColor">R42</text>
<text transform="translate(1263 531.2)" font-size="23" text-anchor="start" textLength="64" lengthAdjust="spacingAndGlyphs" fill="currentColor">LED1</text>
<path d="M1183 512.2 L1245 512.2" fill="none" stroke="currentColor" stroke-width="1.5" stroke-linecap="round" stroke-linejoin="round"/>
<text transform="translate(1263 568.7)" font-size="23" text-anchor="start" textLength="64" lengthAdjust="spacingAndGlyphs" fill="currentColor">LED2</text>
<path d="M1183 549.7 L1245 549.7" fill="none" stroke="currentColor" stroke-width="1.5" stroke-linecap="round" stroke-linejoin="round"/>
<text transform="translate(1263 606.1)" font-size="23" text-anchor="start" textLength="64" lengthAdjust="spacingAndGlyphs" fill="currentColor">LED3</text>
<path d="M1183 587.1 L1245 587.1" fill="none" stroke="currentColor" stroke-width="1.5" stroke-linecap="round" stroke-linejoin="round"/>
<text transform="translate(1263 643.6)" font-size="23" text-anchor="start" textLength="64" lengthAdjust="spacingAndGlyphs" fill="currentColor">LED4</text>
<path d="M1183 624.6 L1245 624.6" fill="none" stroke="currentColor" stroke-width="1.5" stroke-linecap="round" stroke-linejoin="round"/>
<text transform="translate(1263 681)" font-size="23" text-anchor="start" textLength="64" lengthAdjust="spacingAndGlyphs" fill="currentColor">LED5</text>
<path d="M1183 662 L1245 662" fill="none" stroke="currentColor" stroke-width="1.5" stroke-linecap="round" stroke-linejoin="round"/>
<text transform="translate(1263 718.5)" font-size="23" text-anchor="start" textLength="64" lengthAdjust="spacingAndGlyphs" fill="currentColor">LED6</text>
<path d="M1183 699.5 L1245 699.5" fill="none" stroke="currentColor" stroke-width="1.5" stroke-linecap="round" stroke-linejoin="round"/>
<text transform="translate(1263 756)" font-size="23" text-anchor="start" textLength="64" lengthAdjust="spacingAndGlyphs" fill="currentColor">LED7</text>
<path d="M1183 737 L1245 737" fill="none" stroke="currentColor" stroke-width="1.5" stroke-linecap="round" stroke-linejoin="round"/>
<text transform="translate(1263 793.4)" font-size="23" text-anchor="start" textLength="64" lengthAdjust="spacingAndGlyphs" fill="currentColor">LED8</text>
<text transform="translate(1187 793.4)" font-size="23" text-anchor="start" textLength="58" lengthAdjust="spacingAndGlyphs" fill="currentColor">R10</text>
<text transform="translate(1263 943.3)" font-size="23" text-anchor="start" textLength="64" lengthAdjust="spacingAndGlyphs" fill="currentColor">LED9</text>
<path d="M1183 924.3 L1245 924.3" fill="none" stroke="currentColor" stroke-width="1.5" stroke-linecap="round" stroke-linejoin="round"/>
<text transform="translate(1263 980.7)" font-size="23" text-anchor="start" textLength="70" lengthAdjust="spacingAndGlyphs" fill="currentColor">LED10</text>
<path d="M1183 961.7 L1245 961.7" fill="none" stroke="currentColor" stroke-width="1.5" stroke-linecap="round" stroke-linejoin="round"/>
<text transform="translate(1263 1018.2)" font-size="23" text-anchor="start" textLength="70" lengthAdjust="spacingAndGlyphs" fill="currentColor">LED11</text>
<path d="M1183 999.2 L1245 999.2" fill="none" stroke="currentColor" stroke-width="1.5" stroke-linecap="round" stroke-linejoin="round"/>
<text transform="translate(1263 1055.6)" font-size="23" text-anchor="start" textLength="70" lengthAdjust="spacingAndGlyphs" fill="currentColor">LED12</text>
<path d="M1183 1036.6 L1245 1036.6" fill="none" stroke="currentColor" stroke-width="1.5" stroke-linecap="round" stroke-linejoin="round"/>
<text transform="translate(1263 1093.1)" font-size="23" text-anchor="start" textLength="70" lengthAdjust="spacingAndGlyphs" fill="currentColor">LED13</text>
<path d="M1183 1074.1 L1245 1074.1" fill="none" stroke="currentColor" stroke-width="1.5" stroke-linecap="round" stroke-linejoin="round"/>
<text transform="translate(1263 1130.6)" font-size="23" text-anchor="start" textLength="70" lengthAdjust="spacingAndGlyphs" fill="currentColor">LED14</text>
<path d="M1183 1111.6 L1245 1111.6" fill="none" stroke="currentColor" stroke-width="1.5" stroke-linecap="round" stroke-linejoin="round"/>
<text transform="translate(1263 1168)" font-size="23" text-anchor="start" textLength="70" lengthAdjust="spacingAndGlyphs" fill="currentColor">LED15</text>
<path d="M1183 1149 L1245 1149" fill="none" stroke="currentColor" stroke-width="1.5" stroke-linecap="round" stroke-linejoin="round"/>
<text transform="translate(1263 1205.5)" font-size="23" text-anchor="start" textLength="70" lengthAdjust="spacingAndGlyphs" fill="currentColor">LED16</text>
<text transform="translate(1187 1205.5)" font-size="23" text-anchor="start" textLength="58" lengthAdjust="spacingAndGlyphs" fill="currentColor">R18</text>
<text transform="translate(1238 479) scale(-1 1)" font-size="22" text-anchor="start" textLength="44" lengthAdjust="spacingAndGlyphs" fill="currentColor">R19</text>
<text transform="translate(1238 891) scale(-1 1)" font-size="22" text-anchor="start" textLength="44" lengthAdjust="spacingAndGlyphs" fill="currentColor">R27</text>
<path d="M1238 460 L1238 480" fill="none" stroke="currentColor" stroke-width="1.5" stroke-linecap="round" stroke-linejoin="round"/>
<path d="M1238 872 L1238 892" fill="none" stroke="currentColor" stroke-width="1.5" stroke-linecap="round" stroke-linejoin="round"/>
<text transform="translate(767 1321) scale(-1 1)" font-size="25" text-anchor="start" textLength="31" lengthAdjust="spacingAndGlyphs" fill="currentColor">R2</text>
<text transform="translate(735 1322) scale(-1 1)" font-size="16" text-anchor="start" textLength="33" lengthAdjust="spacingAndGlyphs" fill="currentColor">US$</text>
<text transform="translate(700 1361)" font-size="24" text-anchor="start" textLength="86" lengthAdjust="spacingAndGlyphs" fill="currentColor">LED5MM</text>
<path d="M694 1361 L712 1361" fill="none" stroke="currentColor" stroke-width="1.5" stroke-linecap="round" stroke-linejoin="round"/>
<path d="M700 1352 L700 1372" fill="none" stroke="currentColor" stroke-width="1.5" stroke-linecap="round" stroke-linejoin="round"/>
<text transform="translate(1204 1336)" font-size="23" text-anchor="start" textLength="100" lengthAdjust="spacingAndGlyphs" fill="currentColor">LED5MM</text>
<path d="M1300 1316 L1300 1338" fill="none" stroke="currentColor" stroke-width="1.5" stroke-linecap="round" stroke-linejoin="round"/>
<text transform="translate(1246 1372) scale(-1 1)" font-size="22" text-anchor="start" textLength="28" lengthAdjust="spacingAndGlyphs" fill="currentColor">R1</text>
<text transform="translate(1296 1362) scale(-1 1)" font-size="18" text-anchor="start" textLength="44" lengthAdjust="spacingAndGlyphs" fill="currentColor">US$9</text>
<text transform="translate(808 1452)" font-size="36" text-anchor="start" textLength="36" lengthAdjust="spacingAndGlyphs" opacity="0.78" fill="currentColor">F1</text>
<path d="M795 1449 L818 1449" fill="none" stroke="currentColor" stroke-width="1.5" stroke-linecap="round" stroke-linejoin="round"/>
<path d="M805 1437 L805 1460" fill="none" stroke="currentColor" stroke-width="1.5" stroke-linecap="round" stroke-linejoin="round"/>
<text transform="translate(846 1436) rotate(-8)" font-size="30" text-anchor="start" textLength="38" lengthAdjust="spacingAndGlyphs" opacity="0.78" fill="currentColor">X3</text>
<text transform="translate(972 1470) rotate(-90)" font-size="22" text-anchor="start" textLength="34" lengthAdjust="spacingAndGlyphs" fill="currentColor">C?</text>
<text transform="translate(958 1452) rotate(-60)" font-size="16" text-anchor="start" fill="currentColor">22u</text>
<text transform="translate(1038 1184)" font-size="22" text-anchor="start" textLength="46" lengthAdjust="spacingAndGlyphs" fill="currentColor">22u</text>
<text transform="translate(990 1258) scale(-1 1)" font-size="24" text-anchor="start" textLength="60" lengthAdjust="spacingAndGlyphs" fill="currentColor">Q08_HEK-2L</text>
<text transform="translate(1094 1246) scale(-1 1)" font-size="22" text-anchor="start" textLength="100" lengthAdjust="spacingAndGlyphs" fill="currentColor">FAKER_SMD</text>
<text transform="translate(826 1290)" font-size="30" text-anchor="start" textLength="170" lengthAdjust="spacingAndGlyphs" opacity="0.78" fill="currentColor">JACK-PLUG1</text>
<text transform="translate(986 1290) scale(-1 1)" font-size="30" text-anchor="start" textLength="90" lengthAdjust="spacingAndGlyphs" opacity="0.78" fill="currentColor">IC5-1</text>
<path d="M815 1290 L845 1290" fill="none" stroke="currentColor" stroke-width="1.5" stroke-linecap="round" stroke-linejoin="round"/>
<path d="M833 1278 L833 1300" fill="none" stroke="currentColor" stroke-width="1.5" stroke-linecap="round" stroke-linejoin="round"/>
<text transform="translate(1062 1300)" font-size="18" text-anchor="start" textLength="30" lengthAdjust="spacingAndGlyphs" fill="currentColor">10</text>
<text transform="translate(150 682)" font-size="14" text-anchor="start" textLength="42" lengthAdjust="spacingAndGlyphs" fill="currentColor">US$16</text>
</g>
<g id="l_pad" color="#008000" opacity="0.706">
<path d="M323.2 486.3 L350 486.3 L355.5 491.8 L355.5 500.6 L350 506.1 L323.2 506.1 L317.7 500.6 L317.7 491.8ZM331.8 494 L334.4 491.4 L338.8 491.4 L341.4 494 L341.4 498.4 L338.8 501 L334.4 501 L331.8 498.4Z" fill="currentColor" fill-rule="evenodd"/>
<path d="M435.4 486.3 L462.2 486.3 L467.7 491.8 L467.7 500.6 L462.2 506.1 L435.4 506.1 L429.9 500.6 L429.9 491.8ZM444 494 L446.6 491.4 L451 491.4 L453.6 494 L453.6 498.4 L451 501 L446.6 501 L444 498.4Z" fill="currentColor" fill-rule="evenodd"/>
<path d="M323.2 523.8 L350 523.8 L355.5 529.3 L355.5 538.1 L350 543.6 L323.2 543.6 L317.7 538.1 L317.7 529.3ZM331.8 531.5 L334.4 528.9 L338.8 528.9 L341.4 531.5 L341.4 535.8 L338.8 538.5 L334.4 538.5 L331.8 535.8Z" fill="currentColor" fill-rule="evenodd"/>
<path d="M435.4 523.8 L462.2 523.8 L467.7 529.3 L467.7 538.1 L462.2 543.6 L435.4 543.6 L429.9 538.1 L429.9 529.3ZM444 531.5 L446.6 528.9 L451 528.9 L453.6 531.5 L453.6 535.8 L451 538.5 L446.6 538.5 L444 535.8Z" fill="currentColor" fill-rule="evenodd"/>
<path d="M323.2 561.2 L350 561.2 L355.5 566.7 L355.5 575.5 L350 581 L323.2 581 L317.7 575.5 L317.7 566.7ZM331.8 569 L334.4 566.3 L338.8 566.3 L341.4 569 L341.4 573.3 L338.8 575.9 L334.4 575.9 L331.8 573.3Z" fill="currentColor" fill-rule="evenodd"/>
<path d="M435.4 561.2 L462.2 561.2 L467.7 566.7 L467.7 575.5 L462.2 581 L435.4 581 L429.9 575.5 L429.9 566.7ZM444 569 L446.6 566.3 L451 566.3 L453.6 569 L453.6 573.3 L451 575.9 L446.6 575.9 L444 573.3Z" fill="currentColor" fill-rule="evenodd"/>
<path d="M323.2 598.7 L350 598.7 L355.5 604.2 L355.5 613 L350 618.5 L323.2 618.5 L317.7 613 L317.7 604.2ZM331.8 606.4 L334.4 603.8 L338.8 603.8 L341.4 606.4 L341.4 610.7 L338.8 613.4 L334.4 613.4 L331.8 610.7Z" fill="currentColor" fill-rule="evenodd"/>
<path d="M435.4 598.7 L462.2 598.7 L467.7 604.2 L467.7 613 L462.2 618.5 L435.4 618.5 L429.9 613 L429.9 604.2ZM444 606.4 L446.6 603.8 L451 603.8 L453.6 606.4 L453.6 610.7 L451 613.4 L446.6 613.4 L444 610.7Z" fill="currentColor" fill-rule="evenodd"/>
<path d="M323.2 636.1 L350 636.1 L355.5 641.6 L355.5 650.4 L350 655.9 L323.2 655.9 L317.7 650.4 L317.7 641.6ZM331.8 643.9 L334.4 641.2 L338.8 641.2 L341.4 643.9 L341.4 648.2 L338.8 650.8 L334.4 650.8 L331.8 648.2Z" fill="currentColor" fill-rule="evenodd"/>
<path d="M435.4 636.1 L462.2 636.1 L467.7 641.6 L467.7 650.4 L462.2 655.9 L435.4 655.9 L429.9 650.4 L429.9 641.6ZM444 643.9 L446.6 641.2 L451 641.2 L453.6 643.9 L453.6 648.2 L451 650.8 L446.6 650.8 L444 648.2Z" fill="currentColor" fill-rule="evenodd"/>
<path d="M323.2 673.6 L350 673.6 L355.5 679.1 L355.5 687.9 L350 693.4 L323.2 693.4 L317.7 687.9 L317.7 679.1ZM331.8 681.3 L334.4 678.7 L338.8 678.7 L341.4 681.3 L341.4 685.7 L338.8 688.3 L334.4 688.3 L331.8 685.7Z" fill="currentColor" fill-rule="evenodd"/>
<path d="M435.4 673.6 L462.2 673.6 L467.7 679.1 L467.7 687.9 L462.2 693.4 L435.4 693.4 L429.9 687.9 L429.9 679.1ZM444 681.3 L446.6 678.7 L451 678.7 L453.6 681.3 L453.6 685.7 L451 688.3 L446.6 688.3 L444 685.7Z" fill="currentColor" fill-rule="evenodd"/>
<path d="M323.2 711.1 L350 711.1 L355.5 716.6 L355.5 725.4 L350 730.9 L323.2 730.9 L317.7 725.4 L317.7 716.6ZM331.8 718.8 L334.4 716.2 L338.8 716.2 L341.4 718.8 L341.4 723.1 L338.8 725.8 L334.4 725.8 L331.8 723.1Z" fill="currentColor" fill-rule="evenodd"/>
<path d="M435.4 711.1 L462.2 711.1 L467.7 716.6 L467.7 725.4 L462.2 730.9 L435.4 730.9 L429.9 725.4 L429.9 716.6ZM444 718.8 L446.6 716.2 L451 716.2 L453.6 718.8 L453.6 723.1 L451 725.8 L446.6 725.8 L444 723.1Z" fill="currentColor" fill-rule="evenodd"/>
<path d="M323.2 748.5 L350 748.5 L355.5 754 L355.5 762.8 L350 768.3 L323.2 768.3 L317.7 762.8 L317.7 754ZM331.8 756.3 L334.4 753.6 L338.8 753.6 L341.4 756.3 L341.4 760.6 L338.8 763.2 L334.4 763.2 L331.8 760.6Z" fill="currentColor" fill-rule="evenodd"/>
<path d="M435.4 748.5 L462.2 748.5 L467.7 754 L467.7 762.8 L462.2 768.3 L435.4 768.3 L429.9 762.8 L429.9 754ZM444 756.3 L446.6 753.6 L451 753.6 L453.6 756.3 L453.6 760.6 L451 763.2 L446.6 763.2 L444 760.6Z" fill="currentColor" fill-rule="evenodd"/>
<path d="M323.2 786 L350 786 L355.5 791.5 L355.5 800.3 L350 805.8 L323.2 805.8 L317.7 800.3 L317.7 791.5ZM331.8 793.7 L334.4 791.1 L338.8 791.1 L341.4 793.7 L341.4 798 L338.8 800.7 L334.4 800.7 L331.8 798Z" fill="currentColor" fill-rule="evenodd"/>
<path d="M435.4 786 L462.2 786 L467.7 791.5 L467.7 800.3 L462.2 805.8 L435.4 805.8 L429.9 800.3 L429.9 791.5ZM444 793.7 L446.6 791.1 L451 791.1 L453.6 793.7 L453.6 798 L451 800.7 L446.6 800.7 L444 798Z" fill="currentColor" fill-rule="evenodd"/>
<path d="M323.2 973.3 L350 973.3 L355.5 978.8 L355.5 987.6 L350 993.1 L323.2 993.1 L317.7 987.6 L317.7 978.8ZM331.8 981 L334.4 978.4 L338.8 978.4 L341.4 981 L341.4 985.3 L338.8 988 L334.4 988 L331.8 985.3Z" fill="currentColor" fill-rule="evenodd"/>
<path d="M435.4 973.3 L462.2 973.3 L467.7 978.8 L467.7 987.6 L462.2 993.1 L435.4 993.1 L429.9 987.6 L429.9 978.8ZM444 981 L446.6 978.4 L451 978.4 L453.6 981 L453.6 985.3 L451 988 L446.6 988 L444 985.3Z" fill="currentColor" fill-rule="evenodd"/>
<path d="M323.2 1010.7 L350 1010.7 L355.5 1016.2 L355.5 1025 L350 1030.5 L323.2 1030.5 L317.7 1025 L317.7 1016.2ZM331.8 1018.5 L334.4 1015.8 L338.8 1015.8 L341.4 1018.5 L341.4 1022.8 L338.8 1025.4 L334.4 1025.4 L331.8 1022.8Z" fill="currentColor" fill-rule="evenodd"/>
<path d="M435.4 1010.7 L462.2 1010.7 L467.7 1016.2 L467.7 1025 L462.2 1030.5 L435.4 1030.5 L429.9 1025 L429.9 1016.2ZM444 1018.5 L446.6 1015.8 L451 1015.8 L453.6 1018.5 L453.6 1022.8 L451 1025.4 L446.6 1025.4 L444 1022.8Z" fill="currentColor" fill-rule="evenodd"/>
<path d="M323.2 1048.2 L350 1048.2 L355.5 1053.7 L355.5 1062.5 L350 1068 L323.2 1068 L317.7 1062.5 L317.7 1053.7ZM331.8 1055.9 L334.4 1053.3 L338.8 1053.3 L341.4 1055.9 L341.4 1060.3 L338.8 1062.9 L334.4 1062.9 L331.8 1060.3Z" fill="currentColor" fill-rule="evenodd"/>
<path d="M435.4 1048.2 L462.2 1048.2 L467.7 1053.7 L467.7 1062.5 L462.2 1068 L435.4 1068 L429.9 1062.5 L429.9 1053.7ZM444 1055.9 L446.6 1053.3 L451 1053.3 L453.6 1055.9 L453.6 1060.3 L451 1062.9 L446.6 1062.9 L444 1060.3Z" fill="currentColor" fill-rule="evenodd"/>
<path d="M323.2 1085.7 L350 1085.7 L355.5 1091.2 L355.5 1100 L350 1105.5 L323.2 1105.5 L317.7 1100 L317.7 1091.2ZM331.8 1093.4 L334.4 1090.8 L338.8 1090.8 L341.4 1093.4 L341.4 1097.7 L338.8 1100.4 L334.4 1100.4 L331.8 1097.7Z" fill="currentColor" fill-rule="evenodd"/>
<path d="M435.4 1085.7 L462.2 1085.7 L467.7 1091.2 L467.7 1100 L462.2 1105.5 L435.4 1105.5 L429.9 1100 L429.9 1091.2ZM444 1093.4 L446.6 1090.8 L451 1090.8 L453.6 1093.4 L453.6 1097.7 L451 1100.4 L446.6 1100.4 L444 1097.7Z" fill="currentColor" fill-rule="evenodd"/>
<path d="M323.2 1123.1 L350 1123.1 L355.5 1128.6 L355.5 1137.4 L350 1142.9 L323.2 1142.9 L317.7 1137.4 L317.7 1128.6ZM331.8 1130.9 L334.4 1128.2 L338.8 1128.2 L341.4 1130.9 L341.4 1135.2 L338.8 1137.8 L334.4 1137.8 L331.8 1135.2Z" fill="currentColor" fill-rule="evenodd"/>
<path d="M435.4 1123.1 L462.2 1123.1 L467.7 1128.6 L467.7 1137.4 L462.2 1142.9 L435.4 1142.9 L429.9 1137.4 L429.9 1128.6ZM444 1130.9 L446.6 1128.2 L451 1128.2 L453.6 1130.9 L453.6 1135.2 L451 1137.8 L446.6 1137.8 L444 1135.2Z" fill="currentColor" fill-rule="evenodd"/>
<path d="M323.2 1160.6 L350 1160.6 L355.5 1166.1 L355.5 1174.9 L350 1180.4 L323.2 1180.4 L317.7 1174.9 L317.7 1166.1ZM331.8 1168.3 L334.4 1165.7 L338.8 1165.7 L341.4 1168.3 L341.4 1172.6 L338.8 1175.3 L334.4 1175.3 L331.8 1172.6Z" fill="currentColor" fill-rule="evenodd"/>
<path d="M435.4 1160.6 L462.2 1160.6 L467.7 1166.1 L467.7 1174.9 L462.2 1180.4 L435.4 1180.4 L429.9 1174.9 L429.9 1166.1ZM444 1168.3 L446.6 1165.7 L451 1165.7 L453.6 1168.3 L453.6 1172.6 L451 1175.3 L446.6 1175.3 L444 1172.6Z" fill="currentColor" fill-rule="evenodd"/>
<path d="M323.2 1198 L350 1198 L355.5 1203.5 L355.5 1212.3 L350 1217.8 L323.2 1217.8 L317.7 1212.3 L317.7 1203.5ZM331.8 1205.8 L334.4 1203.1 L338.8 1203.1 L341.4 1205.8 L341.4 1210.1 L338.8 1212.7 L334.4 1212.7 L331.8 1210.1Z" fill="currentColor" fill-rule="evenodd"/>
<path d="M435.4 1198 L462.2 1198 L467.7 1203.5 L467.7 1212.3 L462.2 1217.8 L435.4 1217.8 L429.9 1212.3 L429.9 1203.5ZM444 1205.8 L446.6 1203.1 L451 1203.1 L453.6 1205.8 L453.6 1210.1 L451 1212.7 L446.6 1212.7 L444 1210.1Z" fill="currentColor" fill-rule="evenodd"/>
<path d="M323.2 1235.5 L350 1235.5 L355.5 1241 L355.5 1249.8 L350 1255.3 L323.2 1255.3 L317.7 1249.8 L317.7 1241ZM331.8 1243.2 L334.4 1240.6 L338.8 1240.6 L341.4 1243.2 L341.4 1247.6 L338.8 1250.2 L334.4 1250.2 L331.8 1247.6Z" fill="currentColor" fill-rule="evenodd"/>
<path d="M435.4 1235.5 L462.2 1235.5 L467.7 1241 L467.7 1249.8 L462.2 1255.3 L435.4 1255.3 L429.9 1249.8 L429.9 1241ZM444 1243.2 L446.6 1240.6 L451 1240.6 L453.6 1243.2 L453.6 1247.6 L451 1250.2 L446.6 1250.2 L444 1247.6Z" fill="currentColor" fill-rule="evenodd"/>
<path d="M323.2 1273 L350 1273 L355.5 1278.5 L355.5 1287.3 L350 1292.8 L323.2 1292.8 L317.7 1287.3 L317.7 1278.5ZM331.8 1280.7 L334.4 1278.1 L338.8 1278.1 L341.4 1280.7 L341.4 1285 L338.8 1287.7 L334.4 1287.7 L331.8 1285Z" fill="currentColor" fill-rule="evenodd"/>
<path d="M435.4 1273 L462.2 1273 L467.7 1278.5 L467.7 1287.3 L462.2 1292.8 L435.4 1292.8 L429.9 1287.3 L429.9 1278.5ZM444 1280.7 L446.6 1278.1 L451 1278.1 L453.6 1280.7 L453.6 1285 L451 1287.7 L446.6 1287.7 L444 1285Z" fill="currentColor" fill-rule="evenodd"/>
<path d="M997.2 486.3 L1024 486.3 L1029.5 491.8 L1029.5 500.6 L1024 506.1 L997.2 506.1 L991.7 500.6 L991.7 491.8ZM1005.8 494 L1008.4 491.4 L1012.8 491.4 L1015.4 494 L1015.4 498.4 L1012.8 501 L1008.4 501 L1005.8 498.4Z" fill="currentColor" fill-rule="evenodd"/>
<path d="M1109.6 486.3 L1136.4 486.3 L1141.9 491.8 L1141.9 500.6 L1136.4 506.1 L1109.6 506.1 L1104.1 500.6 L1104.1 491.8ZM1118.2 494 L1120.8 491.4 L1125.2 491.4 L1127.8 494 L1127.8 498.4 L1125.2 501 L1120.8 501 L1118.2 498.4Z" fill="currentColor" fill-rule="evenodd"/>
<path d="M997.2 523.8 L1024 523.8 L1029.5 529.3 L1029.5 538.1 L1024 543.6 L997.2 543.6 L991.7 538.1 L991.7 529.3ZM1005.8 531.5 L1008.4 528.9 L1012.8 528.9 L1015.4 531.5 L1015.4 535.8 L1012.8 538.5 L1008.4 538.5 L1005.8 535.8Z" fill="currentColor" fill-rule="evenodd"/>
<path d="M1109.6 523.8 L1136.4 523.8 L1141.9 529.3 L1141.9 538.1 L1136.4 543.6 L1109.6 543.6 L1104.1 538.1 L1104.1 529.3ZM1118.2 531.5 L1120.8 528.9 L1125.2 528.9 L1127.8 531.5 L1127.8 535.8 L1125.2 538.5 L1120.8 538.5 L1118.2 535.8Z" fill="currentColor" fill-rule="evenodd"/>
<path d="M997.2 561.2 L1024 561.2 L1029.5 566.7 L1029.5 575.5 L1024 581 L997.2 581 L991.7 575.5 L991.7 566.7ZM1005.8 569 L1008.4 566.3 L1012.8 566.3 L1015.4 569 L1015.4 573.3 L1012.8 575.9 L1008.4 575.9 L1005.8 573.3Z" fill="currentColor" fill-rule="evenodd"/>
<path d="M1109.6 561.2 L1136.4 561.2 L1141.9 566.7 L1141.9 575.5 L1136.4 581 L1109.6 581 L1104.1 575.5 L1104.1 566.7ZM1118.2 569 L1120.8 566.3 L1125.2 566.3 L1127.8 569 L1127.8 573.3 L1125.2 575.9 L1120.8 575.9 L1118.2 573.3Z" fill="currentColor" fill-rule="evenodd"/>
<path d="M997.2 598.7 L1024 598.7 L1029.5 604.2 L1029.5 613 L1024 618.5 L997.2 618.5 L991.7 613 L991.7 604.2ZM1005.8 606.4 L1008.4 603.8 L1012.8 603.8 L1015.4 606.4 L1015.4 610.7 L1012.8 613.4 L1008.4 613.4 L1005.8 610.7Z" fill="currentColor" fill-rule="evenodd"/>
<path d="M1109.6 598.7 L1136.4 598.7 L1141.9 604.2 L1141.9 613 L1136.4 618.5 L1109.6 618.5 L1104.1 613 L1104.1 604.2ZM1118.2 606.4 L1120.8 603.8 L1125.2 603.8 L1127.8 606.4 L1127.8 610.7 L1125.2 613.4 L1120.8 613.4 L1118.2 610.7Z" fill="currentColor" fill-rule="evenodd"/>
<path d="M997.2 636.1 L1024 636.1 L1029.5 641.6 L1029.5 650.4 L1024 655.9 L997.2 655.9 L991.7 650.4 L991.7 641.6ZM1005.8 643.9 L1008.4 641.2 L1012.8 641.2 L1015.4 643.9 L1015.4 648.2 L1012.8 650.8 L1008.4 650.8 L1005.8 648.2Z" fill="currentColor" fill-rule="evenodd"/>
<path d="M1109.6 636.1 L1136.4 636.1 L1141.9 641.6 L1141.9 650.4 L1136.4 655.9 L1109.6 655.9 L1104.1 650.4 L1104.1 641.6ZM1118.2 643.9 L1120.8 641.2 L1125.2 641.2 L1127.8 643.9 L1127.8 648.2 L1125.2 650.8 L1120.8 650.8 L1118.2 648.2Z" fill="currentColor" fill-rule="evenodd"/>
<path d="M997.2 673.6 L1024 673.6 L1029.5 679.1 L1029.5 687.9 L1024 693.4 L997.2 693.4 L991.7 687.9 L991.7 679.1ZM1005.8 681.3 L1008.4 678.7 L1012.8 678.7 L1015.4 681.3 L1015.4 685.7 L1012.8 688.3 L1008.4 688.3 L1005.8 685.7Z" fill="currentColor" fill-rule="evenodd"/>
<path d="M1109.6 673.6 L1136.4 673.6 L1141.9 679.1 L1141.9 687.9 L1136.4 693.4 L1109.6 693.4 L1104.1 687.9 L1104.1 679.1ZM1118.2 681.3 L1120.8 678.7 L1125.2 678.7 L1127.8 681.3 L1127.8 685.7 L1125.2 688.3 L1120.8 688.3 L1118.2 685.7Z" fill="currentColor" fill-rule="evenodd"/>
<path d="M997.2 711.1 L1024 711.1 L1029.5 716.6 L1029.5 725.4 L1024 730.9 L997.2 730.9 L991.7 725.4 L991.7 716.6ZM1005.8 718.8 L1008.4 716.2 L1012.8 716.2 L1015.4 718.8 L1015.4 723.1 L1012.8 725.8 L1008.4 725.8 L1005.8 723.1Z" fill="currentColor" fill-rule="evenodd"/>
<path d="M1109.6 711.1 L1136.4 711.1 L1141.9 716.6 L1141.9 725.4 L1136.4 730.9 L1109.6 730.9 L1104.1 725.4 L1104.1 716.6ZM1118.2 718.8 L1120.8 716.2 L1125.2 716.2 L1127.8 718.8 L1127.8 723.1 L1125.2 725.8 L1120.8 725.8 L1118.2 723.1Z" fill="currentColor" fill-rule="evenodd"/>
<path d="M997.2 748.5 L1024 748.5 L1029.5 754 L1029.5 762.8 L1024 768.3 L997.2 768.3 L991.7 762.8 L991.7 754ZM1005.8 756.3 L1008.4 753.6 L1012.8 753.6 L1015.4 756.3 L1015.4 760.6 L1012.8 763.2 L1008.4 763.2 L1005.8 760.6Z" fill="currentColor" fill-rule="evenodd"/>
<path d="M1109.6 748.5 L1136.4 748.5 L1141.9 754 L1141.9 762.8 L1136.4 768.3 L1109.6 768.3 L1104.1 762.8 L1104.1 754ZM1118.2 756.3 L1120.8 753.6 L1125.2 753.6 L1127.8 756.3 L1127.8 760.6 L1125.2 763.2 L1120.8 763.2 L1118.2 760.6Z" fill="currentColor" fill-rule="evenodd"/>
<path d="M997.2 786 L1024 786 L1029.5 791.5 L1029.5 800.3 L1024 805.8 L997.2 805.8 L991.7 800.3 L991.7 791.5ZM1005.8 793.7 L1008.4 791.1 L1012.8 791.1 L1015.4 793.7 L1015.4 798 L1012.8 800.7 L1008.4 800.7 L1005.8 798Z" fill="currentColor" fill-rule="evenodd"/>
<path d="M1109.6 786 L1136.4 786 L1141.9 791.5 L1141.9 800.3 L1136.4 805.8 L1109.6 805.8 L1104.1 800.3 L1104.1 791.5ZM1118.2 793.7 L1120.8 791.1 L1125.2 791.1 L1127.8 793.7 L1127.8 798 L1125.2 800.7 L1120.8 800.7 L1118.2 798Z" fill="currentColor" fill-rule="evenodd"/>
<path d="M997.2 898.4 L1024 898.4 L1029.5 903.9 L1029.5 912.7 L1024 918.2 L997.2 918.2 L991.7 912.7 L991.7 903.9ZM1005.8 906.1 L1008.4 903.5 L1012.8 903.5 L1015.4 906.1 L1015.4 910.4 L1012.8 913.1 L1008.4 913.1 L1005.8 910.4Z" fill="currentColor" fill-rule="evenodd"/>
<path d="M1109.6 898.4 L1136.4 898.4 L1141.9 903.9 L1141.9 912.7 L1136.4 918.2 L1109.6 918.2 L1104.1 912.7 L1104.1 903.9ZM1118.2 906.1 L1120.8 903.5 L1125.2 903.5 L1127.8 906.1 L1127.8 910.4 L1125.2 913.1 L1120.8 913.1 L1118.2 910.4Z" fill="currentColor" fill-rule="evenodd"/>
<path d="M997.2 935.8 L1024 935.8 L1029.5 941.3 L1029.5 950.1 L1024 955.6 L997.2 955.6 L991.7 950.1 L991.7 941.3ZM1005.8 943.6 L1008.4 940.9 L1012.8 940.9 L1015.4 943.6 L1015.4 947.9 L1012.8 950.5 L1008.4 950.5 L1005.8 947.9Z" fill="currentColor" fill-rule="evenodd"/>
<path d="M1109.6 935.8 L1136.4 935.8 L1141.9 941.3 L1141.9 950.1 L1136.4 955.6 L1109.6 955.6 L1104.1 950.1 L1104.1 941.3ZM1118.2 943.6 L1120.8 940.9 L1125.2 940.9 L1127.8 943.6 L1127.8 947.9 L1125.2 950.5 L1120.8 950.5 L1118.2 947.9Z" fill="currentColor" fill-rule="evenodd"/>
<path d="M997.2 973.3 L1024 973.3 L1029.5 978.8 L1029.5 987.6 L1024 993.1 L997.2 993.1 L991.7 987.6 L991.7 978.8ZM1005.8 981 L1008.4 978.4 L1012.8 978.4 L1015.4 981 L1015.4 985.3 L1012.8 988 L1008.4 988 L1005.8 985.3Z" fill="currentColor" fill-rule="evenodd"/>
<path d="M1109.6 973.3 L1136.4 973.3 L1141.9 978.8 L1141.9 987.6 L1136.4 993.1 L1109.6 993.1 L1104.1 987.6 L1104.1 978.8ZM1118.2 981 L1120.8 978.4 L1125.2 978.4 L1127.8 981 L1127.8 985.3 L1125.2 988 L1120.8 988 L1118.2 985.3Z" fill="currentColor" fill-rule="evenodd"/>
<path d="M997.2 1010.7 L1024 1010.7 L1029.5 1016.2 L1029.5 1025 L1024 1030.5 L997.2 1030.5 L991.7 1025 L991.7 1016.2ZM1005.8 1018.5 L1008.4 1015.8 L1012.8 1015.8 L1015.4 1018.5 L1015.4 1022.8 L1012.8 1025.4 L1008.4 1025.4 L1005.8 1022.8Z" fill="currentColor" fill-rule="evenodd"/>
<path d="M1109.6 1010.7 L1136.4 1010.7 L1141.9 1016.2 L1141.9 1025 L1136.4 1030.5 L1109.6 1030.5 L1104.1 1025 L1104.1 1016.2ZM1118.2 1018.5 L1120.8 1015.8 L1125.2 1015.8 L1127.8 1018.5 L1127.8 1022.8 L1125.2 1025.4 L1120.8 1025.4 L1118.2 1022.8Z" fill="currentColor" fill-rule="evenodd"/>
<path d="M997.2 1048.2 L1024 1048.2 L1029.5 1053.7 L1029.5 1062.5 L1024 1068 L997.2 1068 L991.7 1062.5 L991.7 1053.7ZM1005.8 1055.9 L1008.4 1053.3 L1012.8 1053.3 L1015.4 1055.9 L1015.4 1060.3 L1012.8 1062.9 L1008.4 1062.9 L1005.8 1060.3Z" fill="currentColor" fill-rule="evenodd"/>
<path d="M1109.6 1048.2 L1136.4 1048.2 L1141.9 1053.7 L1141.9 1062.5 L1136.4 1068 L1109.6 1068 L1104.1 1062.5 L1104.1 1053.7ZM1118.2 1055.9 L1120.8 1053.3 L1125.2 1053.3 L1127.8 1055.9 L1127.8 1060.3 L1125.2 1062.9 L1120.8 1062.9 L1118.2 1060.3Z" fill="currentColor" fill-rule="evenodd"/>
<path d="M997.2 1085.7 L1024 1085.7 L1029.5 1091.2 L1029.5 1100 L1024 1105.5 L997.2 1105.5 L991.7 1100 L991.7 1091.2ZM1005.8 1093.4 L1008.4 1090.8 L1012.8 1090.8 L1015.4 1093.4 L1015.4 1097.7 L1012.8 1100.4 L1008.4 1100.4 L1005.8 1097.7Z" fill="currentColor" fill-rule="evenodd"/>
<path d="M1109.6 1085.7 L1136.4 1085.7 L1141.9 1091.2 L1141.9 1100 L1136.4 1105.5 L1109.6 1105.5 L1104.1 1100 L1104.1 1091.2ZM1118.2 1093.4 L1120.8 1090.8 L1125.2 1090.8 L1127.8 1093.4 L1127.8 1097.7 L1125.2 1100.4 L1120.8 1100.4 L1118.2 1097.7Z" fill="currentColor" fill-rule="evenodd"/>
<path d="M997.2 1123.1 L1024 1123.1 L1029.5 1128.6 L1029.5 1137.4 L1024 1142.9 L997.2 1142.9 L991.7 1137.4 L991.7 1128.6ZM1005.8 1130.9 L1008.4 1128.2 L1012.8 1128.2 L1015.4 1130.9 L1015.4 1135.2 L1012.8 1137.8 L1008.4 1137.8 L1005.8 1135.2Z" fill="currentColor" fill-rule="evenodd"/>
<path d="M1109.6 1123.1 L1136.4 1123.1 L1141.9 1128.6 L1141.9 1137.4 L1136.4 1142.9 L1109.6 1142.9 L1104.1 1137.4 L1104.1 1128.6ZM1118.2 1130.9 L1120.8 1128.2 L1125.2 1128.2 L1127.8 1130.9 L1127.8 1135.2 L1125.2 1137.8 L1120.8 1137.8 L1118.2 1135.2Z" fill="currentColor" fill-rule="evenodd"/>
<path d="M997.2 1160.6 L1024 1160.6 L1029.5 1166.1 L1029.5 1174.9 L1024 1180.4 L997.2 1180.4 L991.7 1174.9 L991.7 1166.1ZM1005.8 1168.3 L1008.4 1165.7 L1012.8 1165.7 L1015.4 1168.3 L1015.4 1172.6 L1012.8 1175.3 L1008.4 1175.3 L1005.8 1172.6Z" fill="currentColor" fill-rule="evenodd"/>
<path d="M1109.6 1160.6 L1136.4 1160.6 L1141.9 1166.1 L1141.9 1174.9 L1136.4 1180.4 L1109.6 1180.4 L1104.1 1174.9 L1104.1 1166.1ZM1118.2 1168.3 L1120.8 1165.7 L1125.2 1165.7 L1127.8 1168.3 L1127.8 1172.6 L1125.2 1175.3 L1120.8 1175.3 L1118.2 1172.6Z" fill="currentColor" fill-rule="evenodd"/>
<path d="M997.2 1198 L1024 1198 L1029.5 1203.5 L1029.5 1212.3 L1024 1217.8 L997.2 1217.8 L991.7 1212.3 L991.7 1203.5ZM1005.8 1205.8 L1008.4 1203.1 L1012.8 1203.1 L1015.4 1205.8 L1015.4 1210.1 L1012.8 1212.7 L1008.4 1212.7 L1005.8 1210.1Z" fill="currentColor" fill-rule="evenodd"/>
<path d="M1109.6 1198 L1136.4 1198 L1141.9 1203.5 L1141.9 1212.3 L1136.4 1217.8 L1109.6 1217.8 L1104.1 1212.3 L1104.1 1203.5ZM1118.2 1205.8 L1120.8 1203.1 L1125.2 1203.1 L1127.8 1205.8 L1127.8 1210.1 L1125.2 1212.7 L1120.8 1212.7 L1118.2 1210.1Z" fill="currentColor" fill-rule="evenodd"/>
<path d="M697.6 486.3 L724.4 486.3 L729.9 491.8 L729.9 500.6 L724.4 506.1 L697.6 506.1 L692.1 500.6 L692.1 491.8ZM706.2 494 L708.8 491.4 L713.2 491.4 L715.8 494 L715.8 498.4 L713.2 501 L708.8 501 L706.2 498.4Z" fill="currentColor" fill-rule="evenodd"/>
<path d="M921.6 486.3 L948.4 486.3 L953.9 491.8 L953.9 500.6 L948.4 506.1 L921.6 506.1 L916.1 500.6 L916.1 491.8ZM930.2 494 L932.8 491.4 L937.2 491.4 L939.8 494 L939.8 498.4 L937.2 501 L932.8 501 L930.2 498.4Z" fill="currentColor" fill-rule="evenodd"/>
<path d="M697.6 523.8 L724.4 523.8 L729.9 529.3 L729.9 538.1 L724.4 543.6 L697.6 543.6 L692.1 538.1 L692.1 529.3ZM706.2 531.5 L708.8 528.9 L713.2 528.9 L715.8 531.5 L715.8 535.8 L713.2 538.5 L708.8 538.5 L706.2 535.8Z" fill="currentColor" fill-rule="evenodd"/>
<path d="M921.6 523.8 L948.4 523.8 L953.9 529.3 L953.9 538.1 L948.4 543.6 L921.6 543.6 L916.1 538.1 L916.1 529.3ZM930.2 531.5 L932.8 528.9 L937.2 528.9 L939.8 531.5 L939.8 535.8 L937.2 538.5 L932.8 538.5 L930.2 535.8Z" fill="currentColor" fill-rule="evenodd"/>
<path d="M697.6 561.2 L724.4 561.2 L729.9 566.7 L729.9 575.5 L724.4 581 L697.6 581 L692.1 575.5 L692.1 566.7ZM706.2 569 L708.8 566.3 L713.2 566.3 L715.8 569 L715.8 573.3 L713.2 575.9 L708.8 575.9 L706.2 573.3Z" fill="currentColor" fill-rule="evenodd"/>
<path d="M921.6 561.2 L948.4 561.2 L953.9 566.7 L953.9 575.5 L948.4 581 L921.6 581 L916.1 575.5 L916.1 566.7ZM930.2 569 L932.8 566.3 L937.2 566.3 L939.8 569 L939.8 573.3 L937.2 575.9 L932.8 575.9 L930.2 573.3Z" fill="currentColor" fill-rule="evenodd"/>
<path d="M697.6 598.7 L724.4 598.7 L729.9 604.2 L729.9 613 L724.4 618.5 L697.6 618.5 L692.1 613 L692.1 604.2ZM706.2 606.4 L708.8 603.8 L713.2 603.8 L715.8 606.4 L715.8 610.7 L713.2 613.4 L708.8 613.4 L706.2 610.7Z" fill="currentColor" fill-rule="evenodd"/>
<path d="M921.6 598.7 L948.4 598.7 L953.9 604.2 L953.9 613 L948.4 618.5 L921.6 618.5 L916.1 613 L916.1 604.2ZM930.2 606.4 L932.8 603.8 L937.2 603.8 L939.8 606.4 L939.8 610.7 L937.2 613.4 L932.8 613.4 L930.2 610.7Z" fill="currentColor" fill-rule="evenodd"/>
<path d="M697.6 636.1 L724.4 636.1 L729.9 641.6 L729.9 650.4 L724.4 655.9 L697.6 655.9 L692.1 650.4 L692.1 641.6ZM706.2 643.9 L708.8 641.2 L713.2 641.2 L715.8 643.9 L715.8 648.2 L713.2 650.8 L708.8 650.8 L706.2 648.2Z" fill="currentColor" fill-rule="evenodd"/>
<path d="M921.6 636.1 L948.4 636.1 L953.9 641.6 L953.9 650.4 L948.4 655.9 L921.6 655.9 L916.1 650.4 L916.1 641.6ZM930.2 643.9 L932.8 641.2 L937.2 641.2 L939.8 643.9 L939.8 648.2 L937.2 650.8 L932.8 650.8 L930.2 648.2Z" fill="currentColor" fill-rule="evenodd"/>
<path d="M697.6 673.6 L724.4 673.6 L729.9 679.1 L729.9 687.9 L724.4 693.4 L697.6 693.4 L692.1 687.9 L692.1 679.1ZM706.2 681.3 L708.8 678.7 L713.2 678.7 L715.8 681.3 L715.8 685.7 L713.2 688.3 L708.8 688.3 L706.2 685.7Z" fill="currentColor" fill-rule="evenodd"/>
<path d="M921.6 673.6 L948.4 673.6 L953.9 679.1 L953.9 687.9 L948.4 693.4 L921.6 693.4 L916.1 687.9 L916.1 679.1ZM930.2 681.3 L932.8 678.7 L937.2 678.7 L939.8 681.3 L939.8 685.7 L937.2 688.3 L932.8 688.3 L930.2 685.7Z" fill="currentColor" fill-rule="evenodd"/>
<path d="M697.6 711.1 L724.4 711.1 L729.9 716.6 L729.9 725.4 L724.4 730.9 L697.6 730.9 L692.1 725.4 L692.1 716.6ZM706.2 718.8 L708.8 716.2 L713.2 716.2 L715.8 718.8 L715.8 723.1 L713.2 725.8 L708.8 725.8 L706.2 723.1Z" fill="currentColor" fill-rule="evenodd"/>
<path d="M921.6 711.1 L948.4 711.1 L953.9 716.6 L953.9 725.4 L948.4 730.9 L921.6 730.9 L916.1 725.4 L916.1 716.6ZM930.2 718.8 L932.8 716.2 L937.2 716.2 L939.8 718.8 L939.8 723.1 L937.2 725.8 L932.8 725.8 L930.2 723.1Z" fill="currentColor" fill-rule="evenodd"/>
<path d="M697.6 748.5 L724.4 748.5 L729.9 754 L729.9 762.8 L724.4 768.3 L697.6 768.3 L692.1 762.8 L692.1 754ZM706.2 756.3 L708.8 753.6 L713.2 753.6 L715.8 756.3 L715.8 760.6 L713.2 763.2 L708.8 763.2 L706.2 760.6Z" fill="currentColor" fill-rule="evenodd"/>
<path d="M921.6 748.5 L948.4 748.5 L953.9 754 L953.9 762.8 L948.4 768.3 L921.6 768.3 L916.1 762.8 L916.1 754ZM930.2 756.3 L932.8 753.6 L937.2 753.6 L939.8 756.3 L939.8 760.6 L937.2 763.2 L932.8 763.2 L930.2 760.6Z" fill="currentColor" fill-rule="evenodd"/>
<path d="M697.6 786 L724.4 786 L729.9 791.5 L729.9 800.3 L724.4 805.8 L697.6 805.8 L692.1 800.3 L692.1 791.5ZM706.2 793.7 L708.8 791.1 L713.2 791.1 L715.8 793.7 L715.8 798 L713.2 800.7 L708.8 800.7 L706.2 798Z" fill="currentColor" fill-rule="evenodd"/>
<path d="M921.6 786 L948.4 786 L953.9 791.5 L953.9 800.3 L948.4 805.8 L921.6 805.8 L916.1 800.3 L916.1 791.5ZM930.2 793.7 L932.8 791.1 L937.2 791.1 L939.8 793.7 L939.8 798 L937.2 800.7 L932.8 800.7 L930.2 798Z" fill="currentColor" fill-rule="evenodd"/>
<path d="M697.6 823.4 L724.4 823.4 L729.9 828.9 L729.9 837.7 L724.4 843.2 L697.6 843.2 L692.1 837.7 L692.1 828.9ZM706.2 831.2 L708.8 828.5 L713.2 828.5 L715.8 831.2 L715.8 835.5 L713.2 838.1 L708.8 838.1 L706.2 835.5Z" fill="currentColor" fill-rule="evenodd"/>
<path d="M921.6 823.4 L948.4 823.4 L953.9 828.9 L953.9 837.7 L948.4 843.2 L921.6 843.2 L916.1 837.7 L916.1 828.9ZM930.2 831.2 L932.8 828.5 L937.2 828.5 L939.8 831.2 L939.8 835.5 L937.2 838.1 L932.8 838.1 L930.2 835.5Z" fill="currentColor" fill-rule="evenodd"/>
<path d="M697.6 860.9 L724.4 860.9 L729.9 866.4 L729.9 875.2 L724.4 880.7 L697.6 880.7 L692.1 875.2 L692.1 866.4ZM706.2 868.6 L708.8 866 L713.2 866 L715.8 868.6 L715.8 873 L713.2 875.6 L708.8 875.6 L706.2 873Z" fill="currentColor" fill-rule="evenodd"/>
<path d="M921.6 860.9 L948.4 860.9 L953.9 866.4 L953.9 875.2 L948.4 880.7 L921.6 880.7 L916.1 875.2 L916.1 866.4ZM930.2 868.6 L932.8 866 L937.2 866 L939.8 868.6 L939.8 873 L937.2 875.6 L932.8 875.6 L930.2 873Z" fill="currentColor" fill-rule="evenodd"/>
<path d="M697.6 898.4 L724.4 898.4 L729.9 903.9 L729.9 912.7 L724.4 918.2 L697.6 918.2 L692.1 912.7 L692.1 903.9ZM706.2 906.1 L708.8 903.5 L713.2 903.5 L715.8 906.1 L715.8 910.4 L713.2 913.1 L708.8 913.1 L706.2 910.4Z" fill="currentColor" fill-rule="evenodd"/>
<path d="M921.6 898.4 L948.4 898.4 L953.9 903.9 L953.9 912.7 L948.4 918.2 L921.6 918.2 L916.1 912.7 L916.1 903.9ZM930.2 906.1 L932.8 903.5 L937.2 903.5 L939.8 906.1 L939.8 910.4 L937.2 913.1 L932.8 913.1 L930.2 910.4Z" fill="currentColor" fill-rule="evenodd"/>
<path d="M697.6 935.8 L724.4 935.8 L729.9 941.3 L729.9 950.1 L724.4 955.6 L697.6 955.6 L692.1 950.1 L692.1 941.3ZM706.2 943.6 L708.8 940.9 L713.2 940.9 L715.8 943.6 L715.8 947.9 L713.2 950.5 L708.8 950.5 L706.2 947.9Z" fill="currentColor" fill-rule="evenodd"/>
<path d="M921.6 935.8 L948.4 935.8 L953.9 941.3 L953.9 950.1 L948.4 955.6 L921.6 955.6 L916.1 950.1 L916.1 941.3ZM930.2 943.6 L932.8 940.9 L937.2 940.9 L939.8 943.6 L939.8 947.9 L937.2 950.5 L932.8 950.5 L930.2 947.9Z" fill="currentColor" fill-rule="evenodd"/>
<path d="M697.6 973.3 L724.4 973.3 L729.9 978.8 L729.9 987.6 L724.4 993.1 L697.6 993.1 L692.1 987.6 L692.1 978.8ZM706.2 981 L708.8 978.4 L713.2 978.4 L715.8 981 L715.8 985.3 L713.2 988 L708.8 988 L706.2 985.3Z" fill="currentColor" fill-rule="evenodd"/>
<path d="M921.6 973.3 L948.4 973.3 L953.9 978.8 L953.9 987.6 L948.4 993.1 L921.6 993.1 L916.1 987.6 L916.1 978.8ZM930.2 981 L932.8 978.4 L937.2 978.4 L939.8 981 L939.8 985.3 L937.2 988 L932.8 988 L930.2 985.3Z" fill="currentColor" fill-rule="evenodd"/>
<path d="M697.6 1010.7 L724.4 1010.7 L729.9 1016.2 L729.9 1025 L724.4 1030.5 L697.6 1030.5 L692.1 1025 L692.1 1016.2ZM706.2 1018.5 L708.8 1015.8 L713.2 1015.8 L715.8 1018.5 L715.8 1022.8 L713.2 1025.4 L708.8 1025.4 L706.2 1022.8Z" fill="currentColor" fill-rule="evenodd"/>
<path d="M921.6 1010.7 L948.4 1010.7 L953.9 1016.2 L953.9 1025 L948.4 1030.5 L921.6 1030.5 L916.1 1025 L916.1 1016.2ZM930.2 1018.5 L932.8 1015.8 L937.2 1015.8 L939.8 1018.5 L939.8 1022.8 L937.2 1025.4 L932.8 1025.4 L930.2 1022.8Z" fill="currentColor" fill-rule="evenodd"/>
<path d="M697.6 1048.2 L724.4 1048.2 L729.9 1053.7 L729.9 1062.5 L724.4 1068 L697.6 1068 L692.1 1062.5 L692.1 1053.7ZM706.2 1055.9 L708.8 1053.3 L713.2 1053.3 L715.8 1055.9 L715.8 1060.3 L713.2 1062.9 L708.8 1062.9 L706.2 1060.3Z" fill="currentColor" fill-rule="evenodd"/>
<path d="M921.6 1048.2 L948.4 1048.2 L953.9 1053.7 L953.9 1062.5 L948.4 1068 L921.6 1068 L916.1 1062.5 L916.1 1053.7ZM930.2 1055.9 L932.8 1053.3 L937.2 1053.3 L939.8 1055.9 L939.8 1060.3 L937.2 1062.9 L932.8 1062.9 L930.2 1060.3Z" fill="currentColor" fill-rule="evenodd"/>
<path d="M697.6 1085.7 L724.4 1085.7 L729.9 1091.2 L729.9 1100 L724.4 1105.5 L697.6 1105.5 L692.1 1100 L692.1 1091.2ZM706.2 1093.4 L708.8 1090.8 L713.2 1090.8 L715.8 1093.4 L715.8 1097.7 L713.2 1100.4 L708.8 1100.4 L706.2 1097.7Z" fill="currentColor" fill-rule="evenodd"/>
<path d="M921.6 1085.7 L948.4 1085.7 L953.9 1091.2 L953.9 1100 L948.4 1105.5 L921.6 1105.5 L916.1 1100 L916.1 1091.2ZM930.2 1093.4 L932.8 1090.8 L937.2 1090.8 L939.8 1093.4 L939.8 1097.7 L937.2 1100.4 L932.8 1100.4 L930.2 1097.7Z" fill="currentColor" fill-rule="evenodd"/>
<path d="M697.6 1123.1 L724.4 1123.1 L729.9 1128.6 L729.9 1137.4 L724.4 1142.9 L697.6 1142.9 L692.1 1137.4 L692.1 1128.6ZM706.2 1130.9 L708.8 1128.2 L713.2 1128.2 L715.8 1130.9 L715.8 1135.2 L713.2 1137.8 L708.8 1137.8 L706.2 1135.2Z" fill="currentColor" fill-rule="evenodd"/>
<path d="M921.6 1123.1 L948.4 1123.1 L953.9 1128.6 L953.9 1137.4 L948.4 1142.9 L921.6 1142.9 L916.1 1137.4 L916.1 1128.6ZM930.2 1130.9 L932.8 1128.2 L937.2 1128.2 L939.8 1130.9 L939.8 1135.2 L937.2 1137.8 L932.8 1137.8 L930.2 1135.2Z" fill="currentColor" fill-rule="evenodd"/>
<path d="M697.6 1160.6 L724.4 1160.6 L729.9 1166.1 L729.9 1174.9 L724.4 1180.4 L697.6 1180.4 L692.1 1174.9 L692.1 1166.1ZM706.2 1168.3 L708.8 1165.7 L713.2 1165.7 L715.8 1168.3 L715.8 1172.6 L713.2 1175.3 L708.8 1175.3 L706.2 1172.6Z" fill="currentColor" fill-rule="evenodd"/>
<path d="M921.6 1160.6 L948.4 1160.6 L953.9 1166.1 L953.9 1174.9 L948.4 1180.4 L921.6 1180.4 L916.1 1174.9 L916.1 1166.1ZM930.2 1168.3 L932.8 1165.7 L937.2 1165.7 L939.8 1168.3 L939.8 1172.6 L937.2 1175.3 L932.8 1175.3 L930.2 1172.6Z" fill="currentColor" fill-rule="evenodd"/>
<path d="M697.6 1198 L724.4 1198 L729.9 1203.5 L729.9 1212.3 L724.4 1217.8 L697.6 1217.8 L692.1 1212.3 L692.1 1203.5ZM706.2 1205.8 L708.8 1203.1 L713.2 1203.1 L715.8 1205.8 L715.8 1210.1 L713.2 1212.7 L708.8 1212.7 L706.2 1210.1Z" fill="currentColor" fill-rule="evenodd"/>
<path d="M921.6 1198 L948.4 1198 L953.9 1203.5 L953.9 1212.3 L948.4 1217.8 L921.6 1217.8 L916.1 1212.3 L916.1 1203.5ZM930.2 1205.8 L932.8 1203.1 L937.2 1203.1 L939.8 1205.8 L939.8 1210.1 L937.2 1212.7 L932.8 1212.7 L930.2 1210.1Z" fill="currentColor" fill-rule="evenodd"/>
<path d="M113.1 484.3 L148.6 484.3 L157.6 493.3 L157.6 502.7 L148.6 511.7 L113.1 511.7 L104.1 502.7 L104.1 493.3ZM125.6 496.1 L128.5 493.2 L133.1 493.2 L136 496.1 L136 500.7 L133.1 503.6 L128.5 503.6 L125.6 500.7Z" fill="currentColor" fill-rule="evenodd"/>
<path d="M187.1 484.3 L222.6 484.3 L231.6 493.3 L231.6 502.7 L222.6 511.7 L187.1 511.7 L178.1 502.7 L178.1 493.3ZM199.6 496.1 L202.5 493.2 L207.1 493.2 L210 496.1 L210 500.7 L207.1 503.6 L202.5 503.6 L199.6 500.7Z" fill="currentColor" fill-rule="evenodd"/>
<path d="M113.1 521.2 L148.6 521.2 L157.6 530.2 L157.6 539.6 L148.6 548.6 L113.1 548.6 L104.1 539.6 L104.1 530.2ZM125.6 532.9 L128.5 530.1 L133.1 530.1 L136 532.9 L136 537.6 L133.1 540.5 L128.5 540.5 L125.6 537.6Z" fill="currentColor" fill-rule="evenodd"/>
<path d="M187.1 521.2 L222.6 521.2 L231.6 530.2 L231.6 539.6 L222.6 548.6 L187.1 548.6 L178.1 539.6 L178.1 530.2ZM199.6 532.9 L202.5 530.1 L207.1 530.1 L210 532.9 L210 537.6 L207.1 540.5 L202.5 540.5 L199.6 537.6Z" fill="currentColor" fill-rule="evenodd"/>
<path d="M113.1 558 L148.6 558 L157.6 567 L157.6 576.4 L148.6 585.4 L113.1 585.4 L104.1 576.4 L104.1 567ZM125.6 569.8 L128.5 566.9 L133.1 566.9 L136 569.8 L136 574.5 L133.1 577.3 L128.5 577.3 L125.6 574.5Z" fill="currentColor" fill-rule="evenodd"/>
<path d="M187.1 558 L222.6 558 L231.6 567 L231.6 576.4 L222.6 585.4 L187.1 585.4 L178.1 576.4 L178.1 567ZM199.6 569.8 L202.5 566.9 L207.1 566.9 L210 569.8 L210 574.5 L207.1 577.3 L202.5 577.3 L199.6 574.5Z" fill="currentColor" fill-rule="evenodd"/>
<path d="M113.1 594.9 L148.6 594.9 L157.6 603.9 L157.6 613.3 L148.6 622.3 L113.1 622.3 L104.1 613.3 L104.1 603.9ZM125.6 606.7 L128.5 603.8 L133.1 603.8 L136 606.7 L136 611.4 L133.1 614.2 L128.5 614.2 L125.6 611.4Z" fill="currentColor" fill-rule="evenodd"/>
<path d="M187.1 594.9 L222.6 594.9 L231.6 603.9 L231.6 613.3 L222.6 622.3 L187.1 622.3 L178.1 613.3 L178.1 603.9ZM199.6 606.7 L202.5 603.8 L207.1 603.8 L210 606.7 L210 611.4 L207.1 614.2 L202.5 614.2 L199.6 611.4Z" fill="currentColor" fill-rule="evenodd"/>
<path d="M113.1 631.8 L148.6 631.8 L157.6 640.8 L157.6 650.2 L148.6 659.2 L113.1 659.2 L104.1 650.2 L104.1 640.8ZM125.6 643.5 L128.5 640.7 L133.1 640.7 L136 643.5 L136 648.2 L133.1 651.1 L128.5 651.1 L125.6 648.2Z" fill="currentColor" fill-rule="evenodd"/>
<path d="M187.1 631.8 L222.6 631.8 L231.6 640.8 L231.6 650.2 L222.6 659.2 L187.1 659.2 L178.1 650.2 L178.1 640.8ZM199.6 643.5 L202.5 640.7 L207.1 640.7 L210 643.5 L210 648.2 L207.1 651.1 L202.5 651.1 L199.6 648.2Z" fill="currentColor" fill-rule="evenodd"/>
<path d="M113.1 668.6 L148.6 668.6 L157.6 677.6 L157.6 687.1 L148.6 696.1 L113.1 696.1 L104.1 687.1 L104.1 677.6ZM125.6 680.4 L128.5 677.5 L133.1 677.5 L136 680.4 L136 685.1 L133.1 688 L128.5 688 L125.6 685.1Z" fill="currentColor" fill-rule="evenodd"/>
<path d="M187.1 668.6 L222.6 668.6 L231.6 677.6 L231.6 687.1 L222.6 696.1 L187.1 696.1 L178.1 687.1 L178.1 677.6ZM199.6 680.4 L202.5 677.5 L207.1 677.5 L210 680.4 L210 685.1 L207.1 688 L202.5 688 L199.6 685.1Z" fill="currentColor" fill-rule="evenodd"/>
<path d="M113.1 705.5 L148.6 705.5 L157.6 714.5 L157.6 723.9 L148.6 732.9 L113.1 732.9 L104.1 723.9 L104.1 714.5ZM125.6 717.3 L128.5 714.4 L133.1 714.4 L136 717.3 L136 722 L133.1 724.8 L128.5 724.8 L125.6 722Z" fill="currentColor" fill-rule="evenodd"/>
<path d="M187.1 705.5 L222.6 705.5 L231.6 714.5 L231.6 723.9 L222.6 732.9 L187.1 732.9 L178.1 723.9 L178.1 714.5ZM199.6 717.3 L202.5 714.4 L207.1 714.4 L210 717.3 L210 722 L207.1 724.8 L202.5 724.8 L199.6 722Z" fill="currentColor" fill-rule="evenodd"/>
<path d="M113.1 742.4 L148.6 742.4 L157.6 751.4 L157.6 760.8 L148.6 769.8 L113.1 769.8 L104.1 760.8 L104.1 751.4ZM125.6 754.1 L128.5 751.3 L133.1 751.3 L136 754.1 L136 758.8 L133.1 761.7 L128.5 761.7 L125.6 758.8Z" fill="currentColor" fill-rule="evenodd"/>
<path d="M187.1 742.4 L222.6 742.4 L231.6 751.4 L231.6 760.8 L222.6 769.8 L187.1 769.8 L178.1 760.8 L178.1 751.4ZM199.6 754.1 L202.5 751.3 L207.1 751.3 L210 754.1 L210 758.8 L207.1 761.7 L202.5 761.7 L199.6 758.8Z" fill="currentColor" fill-rule="evenodd"/>
<path d="M113.1 971.3 L148.6 971.3 L157.6 980.3 L157.6 989.7 L148.6 998.7 L113.1 998.7 L104.1 989.7 L104.1 980.3ZM125.6 983 L128.5 980.2 L133.1 980.2 L136 983 L136 987.7 L133.1 990.6 L128.5 990.6 L125.6 987.7Z" fill="currentColor" fill-rule="evenodd"/>
<path d="M187.1 971.3 L222.6 971.3 L231.6 980.3 L231.6 989.7 L222.6 998.7 L187.1 998.7 L178.1 989.7 L178.1 980.3ZM199.6 983 L202.5 980.2 L207.1 980.2 L210 983 L210 987.7 L207.1 990.6 L202.5 990.6 L199.6 987.7Z" fill="currentColor" fill-rule="evenodd"/>
<path d="M113.1 1008.1 L148.6 1008.1 L157.6 1017.1 L157.6 1026.5 L148.6 1035.5 L113.1 1035.5 L104.1 1026.5 L104.1 1017.1ZM125.6 1019.9 L128.5 1017 L133.1 1017 L136 1019.9 L136 1024.6 L133.1 1027.5 L128.5 1027.5 L125.6 1024.6Z" fill="currentColor" fill-rule="evenodd"/>
<path d="M187.1 1008.1 L222.6 1008.1 L231.6 1017.1 L231.6 1026.5 L222.6 1035.5 L187.1 1035.5 L178.1 1026.5 L178.1 1017.1ZM199.6 1019.9 L202.5 1017 L207.1 1017 L210 1019.9 L210 1024.6 L207.1 1027.5 L202.5 1027.5 L199.6 1024.6Z" fill="currentColor" fill-rule="evenodd"/>
<path d="M113.1 1045 L148.6 1045 L157.6 1054 L157.6 1063.4 L148.6 1072.4 L113.1 1072.4 L104.1 1063.4 L104.1 1054ZM125.6 1056.8 L128.5 1053.9 L133.1 1053.9 L136 1056.8 L136 1061.5 L133.1 1064.3 L128.5 1064.3 L125.6 1061.5Z" fill="currentColor" fill-rule="evenodd"/>
<path d="M187.1 1045 L222.6 1045 L231.6 1054 L231.6 1063.4 L222.6 1072.4 L187.1 1072.4 L178.1 1063.4 L178.1 1054ZM199.6 1056.8 L202.5 1053.9 L207.1 1053.9 L210 1056.8 L210 1061.5 L207.1 1064.3 L202.5 1064.3 L199.6 1061.5Z" fill="currentColor" fill-rule="evenodd"/>
<path d="M113.1 1081.9 L148.6 1081.9 L157.6 1090.9 L157.6 1100.3 L148.6 1109.3 L113.1 1109.3 L104.1 1100.3 L104.1 1090.9ZM125.6 1093.7 L128.5 1090.8 L133.1 1090.8 L136 1093.7 L136 1098.3 L133.1 1101.2 L128.5 1101.2 L125.6 1098.3Z" fill="currentColor" fill-rule="evenodd"/>
<path d="M187.1 1081.9 L222.6 1081.9 L231.6 1090.9 L231.6 1100.3 L222.6 1109.3 L187.1 1109.3 L178.1 1100.3 L178.1 1090.9ZM199.6 1093.7 L202.5 1090.8 L207.1 1090.8 L210 1093.7 L210 1098.3 L207.1 1101.2 L202.5 1101.2 L199.6 1098.3Z" fill="currentColor" fill-rule="evenodd"/>
<path d="M113.1 1118.8 L148.6 1118.8 L157.6 1127.8 L157.6 1137.2 L148.6 1146.2 L113.1 1146.2 L104.1 1137.2 L104.1 1127.8ZM125.6 1130.5 L128.5 1127.7 L133.1 1127.7 L136 1130.5 L136 1135.2 L133.1 1138.1 L128.5 1138.1 L125.6 1135.2Z" fill="currentColor" fill-rule="evenodd"/>
<path d="M187.1 1118.8 L222.6 1118.8 L231.6 1127.8 L231.6 1137.2 L222.6 1146.2 L187.1 1146.2 L178.1 1137.2 L178.1 1127.8ZM199.6 1130.5 L202.5 1127.7 L207.1 1127.7 L210 1130.5 L210 1135.2 L207.1 1138.1 L202.5 1138.1 L199.6 1135.2Z" fill="currentColor" fill-rule="evenodd"/>
<path d="M113.1 1155.6 L148.6 1155.6 L157.6 1164.6 L157.6 1174 L148.6 1183 L113.1 1183 L104.1 1174 L104.1 1164.6ZM125.6 1167.4 L128.5 1164.5 L133.1 1164.5 L136 1167.4 L136 1172.1 L133.1 1174.9 L128.5 1174.9 L125.6 1172.1Z" fill="currentColor" fill-rule="evenodd"/>
<path d="M187.1 1155.6 L222.6 1155.6 L231.6 1164.6 L231.6 1174 L222.6 1183 L187.1 1183 L178.1 1174 L178.1 1164.6ZM199.6 1167.4 L202.5 1164.5 L207.1 1164.5 L210 1167.4 L210 1172.1 L207.1 1174.9 L202.5 1174.9 L199.6 1172.1Z" fill="currentColor" fill-rule="evenodd"/>
<path d="M113.1 1192.5 L148.6 1192.5 L157.6 1201.5 L157.6 1210.9 L148.6 1219.9 L113.1 1219.9 L104.1 1210.9 L104.1 1201.5ZM125.6 1204.3 L128.5 1201.4 L133.1 1201.4 L136 1204.3 L136 1208.9 L133.1 1211.8 L128.5 1211.8 L125.6 1208.9Z" fill="currentColor" fill-rule="evenodd"/>
<path d="M187.1 1192.5 L222.6 1192.5 L231.6 1201.5 L231.6 1210.9 L222.6 1219.9 L187.1 1219.9 L178.1 1210.9 L178.1 1201.5ZM199.6 1204.3 L202.5 1201.4 L207.1 1201.4 L210 1204.3 L210 1208.9 L207.1 1211.8 L202.5 1211.8 L199.6 1208.9Z" fill="currentColor" fill-rule="evenodd"/>
<path d="M113.1 1229.4 L148.6 1229.4 L157.6 1238.4 L157.6 1247.8 L148.6 1256.8 L113.1 1256.8 L104.1 1247.8 L104.1 1238.4ZM125.6 1241.1 L128.5 1238.3 L133.1 1238.3 L136 1241.1 L136 1245.8 L133.1 1248.7 L128.5 1248.7 L125.6 1245.8Z" fill="currentColor" fill-rule="evenodd"/>
<path d="M187.1 1229.4 L222.6 1229.4 L231.6 1238.4 L231.6 1247.8 L222.6 1256.8 L187.1 1256.8 L178.1 1247.8 L178.1 1238.4ZM199.6 1241.1 L202.5 1238.3 L207.1 1238.3 L210 1241.1 L210 1245.8 L207.1 1248.7 L202.5 1248.7 L199.6 1245.8Z" fill="currentColor" fill-rule="evenodd"/>
<path d="M1441.2 484.3 L1476.8 484.3 L1485.8 493.3 L1485.8 502.7 L1476.8 511.7 L1441.2 511.7 L1432.2 502.7 L1432.2 493.3ZM1453.8 496.1 L1456.7 493.2 L1461.3 493.2 L1464.2 496.1 L1464.2 500.7 L1461.3 503.6 L1456.7 503.6 L1453.8 500.7Z" fill="currentColor" fill-rule="evenodd"/>
<path d="M1515.5 484.3 L1551 484.3 L1560 493.3 L1560 502.7 L1551 511.7 L1515.5 511.7 L1506.5 502.7 L1506.5 493.3ZM1528.1 496.1 L1531 493.2 L1535.6 493.2 L1538.5 496.1 L1538.5 500.7 L1535.6 503.6 L1531 503.6 L1528.1 500.7Z" fill="currentColor" fill-rule="evenodd"/>
<path d="M1441.2 521.2 L1476.8 521.2 L1485.8 530.2 L1485.8 539.6 L1476.8 548.6 L1441.2 548.6 L1432.2 539.6 L1432.2 530.2ZM1453.8 532.9 L1456.7 530.1 L1461.3 530.1 L1464.2 532.9 L1464.2 537.6 L1461.3 540.5 L1456.7 540.5 L1453.8 537.6Z" fill="currentColor" fill-rule="evenodd"/>
<path d="M1515.5 521.2 L1551 521.2 L1560 530.2 L1560 539.6 L1551 548.6 L1515.5 548.6 L1506.5 539.6 L1506.5 530.2ZM1528.1 532.9 L1531 530.1 L1535.6 530.1 L1538.5 532.9 L1538.5 537.6 L1535.6 540.5 L1531 540.5 L1528.1 537.6Z" fill="currentColor" fill-rule="evenodd"/>
<path d="M1441.2 558 L1476.8 558 L1485.8 567 L1485.8 576.4 L1476.8 585.4 L1441.2 585.4 L1432.2 576.4 L1432.2 567ZM1453.8 569.8 L1456.7 566.9 L1461.3 566.9 L1464.2 569.8 L1464.2 574.5 L1461.3 577.3 L1456.7 577.3 L1453.8 574.5Z" fill="currentColor" fill-rule="evenodd"/>
<path d="M1515.5 558 L1551 558 L1560 567 L1560 576.4 L1551 585.4 L1515.5 585.4 L1506.5 576.4 L1506.5 567ZM1528.1 569.8 L1531 566.9 L1535.6 566.9 L1538.5 569.8 L1538.5 574.5 L1535.6 577.3 L1531 577.3 L1528.1 574.5Z" fill="currentColor" fill-rule="evenodd"/>
<path d="M1441.2 594.9 L1476.8 594.9 L1485.8 603.9 L1485.8 613.3 L1476.8 622.3 L1441.2 622.3 L1432.2 613.3 L1432.2 603.9ZM1453.8 606.7 L1456.7 603.8 L1461.3 603.8 L1464.2 606.7 L1464.2 611.4 L1461.3 614.2 L1456.7 614.2 L1453.8 611.4Z" fill="currentColor" fill-rule="evenodd"/>
<path d="M1515.5 594.9 L1551 594.9 L1560 603.9 L1560 613.3 L1551 622.3 L1515.5 622.3 L1506.5 613.3 L1506.5 603.9ZM1528.1 606.7 L1531 603.8 L1535.6 603.8 L1538.5 606.7 L1538.5 611.4 L1535.6 614.2 L1531 614.2 L1528.1 611.4Z" fill="currentColor" fill-rule="evenodd"/>
<path d="M1441.2 631.8 L1476.8 631.8 L1485.8 640.8 L1485.8 650.2 L1476.8 659.2 L1441.2 659.2 L1432.2 650.2 L1432.2 640.8ZM1453.8 643.5 L1456.7 640.7 L1461.3 640.7 L1464.2 643.5 L1464.2 648.2 L1461.3 651.1 L1456.7 651.1 L1453.8 648.2Z" fill="currentColor" fill-rule="evenodd"/>
<path d="M1515.5 631.8 L1551 631.8 L1560 640.8 L1560 650.2 L1551 659.2 L1515.5 659.2 L1506.5 650.2 L1506.5 640.8ZM1528.1 643.5 L1531 640.7 L1535.6 640.7 L1538.5 643.5 L1538.5 648.2 L1535.6 651.1 L1531 651.1 L1528.1 648.2Z" fill="currentColor" fill-rule="evenodd"/>
<path d="M1441.2 668.6 L1476.8 668.6 L1485.8 677.6 L1485.8 687.1 L1476.8 696.1 L1441.2 696.1 L1432.2 687.1 L1432.2 677.6ZM1453.8 680.4 L1456.7 677.5 L1461.3 677.5 L1464.2 680.4 L1464.2 685.1 L1461.3 688 L1456.7 688 L1453.8 685.1Z" fill="currentColor" fill-rule="evenodd"/>
<path d="M1515.5 668.6 L1551 668.6 L1560 677.6 L1560 687.1 L1551 696.1 L1515.5 696.1 L1506.5 687.1 L1506.5 677.6ZM1528.1 680.4 L1531 677.5 L1535.6 677.5 L1538.5 680.4 L1538.5 685.1 L1535.6 688 L1531 688 L1528.1 685.1Z" fill="currentColor" fill-rule="evenodd"/>
<path d="M1441.2 705.5 L1476.8 705.5 L1485.8 714.5 L1485.8 723.9 L1476.8 732.9 L1441.2 732.9 L1432.2 723.9 L1432.2 714.5ZM1453.8 717.3 L1456.7 714.4 L1461.3 714.4 L1464.2 717.3 L1464.2 722 L1461.3 724.8 L1456.7 724.8 L1453.8 722Z" fill="currentColor" fill-rule="evenodd"/>
<path d="M1515.5 705.5 L1551 705.5 L1560 714.5 L1560 723.9 L1551 732.9 L1515.5 732.9 L1506.5 723.9 L1506.5 714.5ZM1528.1 717.3 L1531 714.4 L1535.6 714.4 L1538.5 717.3 L1538.5 722 L1535.6 724.8 L1531 724.8 L1528.1 722Z" fill="currentColor" fill-rule="evenodd"/>
<path d="M1441.2 742.4 L1476.8 742.4 L1485.8 751.4 L1485.8 760.8 L1476.8 769.8 L1441.2 769.8 L1432.2 760.8 L1432.2 751.4ZM1453.8 754.1 L1456.7 751.3 L1461.3 751.3 L1464.2 754.1 L1464.2 758.8 L1461.3 761.7 L1456.7 761.7 L1453.8 758.8Z" fill="currentColor" fill-rule="evenodd"/>
<path d="M1515.5 742.4 L1551 742.4 L1560 751.4 L1560 760.8 L1551 769.8 L1515.5 769.8 L1506.5 760.8 L1506.5 751.4ZM1528.1 754.1 L1531 751.3 L1535.6 751.3 L1538.5 754.1 L1538.5 758.8 L1535.6 761.7 L1531 761.7 L1528.1 758.8Z" fill="currentColor" fill-rule="evenodd"/>
<path d="M1441.2 896.4 L1476.8 896.4 L1485.8 905.4 L1485.8 914.8 L1476.8 923.8 L1441.2 923.8 L1432.2 914.8 L1432.2 905.4ZM1453.8 908.1 L1456.7 905.3 L1461.3 905.3 L1464.2 908.1 L1464.2 912.8 L1461.3 915.7 L1456.7 915.7 L1453.8 912.8Z" fill="currentColor" fill-rule="evenodd"/>
<path d="M1515.5 896.4 L1551 896.4 L1560 905.4 L1560 914.8 L1551 923.8 L1515.5 923.8 L1506.5 914.8 L1506.5 905.4ZM1528.1 908.1 L1531 905.3 L1535.6 905.3 L1538.5 908.1 L1538.5 912.8 L1535.6 915.7 L1531 915.7 L1528.1 912.8Z" fill="currentColor" fill-rule="evenodd"/>
<path d="M1441.2 933.2 L1476.8 933.2 L1485.8 942.2 L1485.8 951.6 L1476.8 960.6 L1441.2 960.6 L1432.2 951.6 L1432.2 942.2ZM1453.8 945 L1456.7 942.1 L1461.3 942.1 L1464.2 945 L1464.2 949.7 L1461.3 952.5 L1456.7 952.5 L1453.8 949.7Z" fill="currentColor" fill-rule="evenodd"/>
<path d="M1515.5 933.2 L1551 933.2 L1560 942.2 L1560 951.6 L1551 960.6 L1515.5 960.6 L1506.5 951.6 L1506.5 942.2ZM1528.1 945 L1531 942.1 L1535.6 942.1 L1538.5 945 L1538.5 949.7 L1535.6 952.5 L1531 952.5 L1528.1 949.7Z" fill="currentColor" fill-rule="evenodd"/>
<path d="M1441.2 970.1 L1476.8 970.1 L1485.8 979.1 L1485.8 988.5 L1476.8 997.5 L1441.2 997.5 L1432.2 988.5 L1432.2 979.1ZM1453.8 981.9 L1456.7 979 L1461.3 979 L1464.2 981.9 L1464.2 986.5 L1461.3 989.4 L1456.7 989.4 L1453.8 986.5Z" fill="currentColor" fill-rule="evenodd"/>
<path d="M1515.5 970.1 L1551 970.1 L1560 979.1 L1560 988.5 L1551 997.5 L1515.5 997.5 L1506.5 988.5 L1506.5 979.1ZM1528.1 981.9 L1531 979 L1535.6 979 L1538.5 981.9 L1538.5 986.5 L1535.6 989.4 L1531 989.4 L1528.1 986.5Z" fill="currentColor" fill-rule="evenodd"/>
<path d="M1441.2 1007 L1476.8 1007 L1485.8 1016 L1485.8 1025.4 L1476.8 1034.4 L1441.2 1034.4 L1432.2 1025.4 L1432.2 1016ZM1453.8 1018.7 L1456.7 1015.9 L1461.3 1015.9 L1464.2 1018.7 L1464.2 1023.4 L1461.3 1026.3 L1456.7 1026.3 L1453.8 1023.4Z" fill="currentColor" fill-rule="evenodd"/>
<path d="M1515.5 1007 L1551 1007 L1560 1016 L1560 1025.4 L1551 1034.4 L1515.5 1034.4 L1506.5 1025.4 L1506.5 1016ZM1528.1 1018.7 L1531 1015.9 L1535.6 1015.9 L1538.5 1018.7 L1538.5 1023.4 L1535.6 1026.3 L1531 1026.3 L1528.1 1023.4Z" fill="currentColor" fill-rule="evenodd"/>
<path d="M1441.2 1043.8 L1476.8 1043.8 L1485.8 1052.8 L1485.8 1062.2 L1476.8 1071.2 L1441.2 1071.2 L1432.2 1062.2 L1432.2 1052.8ZM1453.8 1055.6 L1456.7 1052.7 L1461.3 1052.7 L1464.2 1055.6 L1464.2 1060.3 L1461.3 1063.1 L1456.7 1063.1 L1453.8 1060.3Z" fill="currentColor" fill-rule="evenodd"/>
<path d="M1515.5 1043.8 L1551 1043.8 L1560 1052.8 L1560 1062.2 L1551 1071.2 L1515.5 1071.2 L1506.5 1062.2 L1506.5 1052.8ZM1528.1 1055.6 L1531 1052.7 L1535.6 1052.7 L1538.5 1055.6 L1538.5 1060.3 L1535.6 1063.1 L1531 1063.1 L1528.1 1060.3Z" fill="currentColor" fill-rule="evenodd"/>
<path d="M1441.2 1080.7 L1476.8 1080.7 L1485.8 1089.7 L1485.8 1099.1 L1476.8 1108.1 L1441.2 1108.1 L1432.2 1099.1 L1432.2 1089.7ZM1453.8 1092.5 L1456.7 1089.6 L1461.3 1089.6 L1464.2 1092.5 L1464.2 1097.1 L1461.3 1100 L1456.7 1100 L1453.8 1097.1Z" fill="currentColor" fill-rule="evenodd"/>
<path d="M1515.5 1080.7 L1551 1080.7 L1560 1089.7 L1560 1099.1 L1551 1108.1 L1515.5 1108.1 L1506.5 1099.1 L1506.5 1089.7ZM1528.1 1092.5 L1531 1089.6 L1535.6 1089.6 L1538.5 1092.5 L1538.5 1097.1 L1535.6 1100 L1531 1100 L1528.1 1097.1Z" fill="currentColor" fill-rule="evenodd"/>
<path d="M1441.2 1117.6 L1476.8 1117.6 L1485.8 1126.6 L1485.8 1136 L1476.8 1145 L1441.2 1145 L1432.2 1136 L1432.2 1126.6ZM1453.8 1129.3 L1456.7 1126.5 L1461.3 1126.5 L1464.2 1129.3 L1464.2 1134 L1461.3 1136.9 L1456.7 1136.9 L1453.8 1134Z" fill="currentColor" fill-rule="evenodd"/>
<path d="M1515.5 1117.6 L1551 1117.6 L1560 1126.6 L1560 1136 L1551 1145 L1515.5 1145 L1506.5 1136 L1506.5 1126.6ZM1528.1 1129.3 L1531 1126.5 L1535.6 1126.5 L1538.5 1129.3 L1538.5 1134 L1535.6 1136.9 L1531 1136.9 L1528.1 1134Z" fill="currentColor" fill-rule="evenodd"/>
<path d="M1441.2 1154.4 L1476.8 1154.4 L1485.8 1163.4 L1485.8 1172.8 L1476.8 1181.8 L1441.2 1181.8 L1432.2 1172.8 L1432.2 1163.4ZM1453.8 1166.2 L1456.7 1163.3 L1461.3 1163.3 L1464.2 1166.2 L1464.2 1170.9 L1461.3 1173.8 L1456.7 1173.8 L1453.8 1170.9Z" fill="currentColor" fill-rule="evenodd"/>
<path d="M1515.5 1154.4 L1551 1154.4 L1560 1163.4 L1560 1172.8 L1551 1181.8 L1515.5 1181.8 L1506.5 1172.8 L1506.5 1163.4ZM1528.1 1166.2 L1531 1163.3 L1535.6 1163.3 L1538.5 1166.2 L1538.5 1170.9 L1535.6 1173.8 L1531 1173.8 L1528.1 1170.9Z" fill="currentColor" fill-rule="evenodd"/>
<path d="M467.9 890.6 a18.7 18.7 0 1 0 37.4 0 a18.7 18.7 0 1 0 -37.4 0ZM483 889 L485 887 L488.2 887 L490.2 889 L490.2 892.2 L488.2 894.2 L485 894.2 L483 892.2Z" fill="currentColor" fill-rule="evenodd"/>
<path d="M503.3 853 a18.7 18.7 0 1 0 37.4 0 a18.7 18.7 0 1 0 -37.4 0ZM518.4 851.4 L520.4 849.4 L523.6 849.4 L525.6 851.4 L525.6 854.6 L523.6 856.6 L520.4 856.6 L518.4 854.6Z" fill="currentColor" fill-rule="evenodd"/>
<path d="M580.3 853 a18.7 18.7 0 1 0 37.4 0 a18.7 18.7 0 1 0 -37.4 0ZM595.4 851.4 L597.4 849.4 L600.6 849.4 L602.6 851.4 L602.6 854.6 L600.6 856.6 L597.4 856.6 L595.4 854.6Z" fill="currentColor" fill-rule="evenodd"/>
<path d="M542.3 890.6 a18.7 18.7 0 1 0 37.4 0 a18.7 18.7 0 1 0 -37.4 0ZM557.4 889 L559.4 887 L562.6 887 L564.6 889 L564.6 892.2 L562.6 894.2 L559.4 894.2 L557.4 892.2Z" fill="currentColor" fill-rule="evenodd"/>
<path d="M503.3 926.4 a18.7 18.7 0 1 0 37.4 0 a18.7 18.7 0 1 0 -37.4 0ZM518.4 924.8 L520.4 922.8 L523.6 922.8 L525.6 924.8 L525.6 928 L523.6 930 L520.4 930 L518.4 928Z" fill="currentColor" fill-rule="evenodd"/>
<path d="M429.3 926.4 a18.7 18.7 0 1 0 37.4 0 a18.7 18.7 0 1 0 -37.4 0ZM444.4 924.8 L446.4 922.8 L449.6 922.8 L451.6 924.8 L451.6 928 L449.6 930 L446.4 930 L444.4 928Z" fill="currentColor" fill-rule="evenodd"/>
<path d="M642.1 1339 L654.6 1326.5 L667.1 1339 L654.6 1351.5ZM650.4 1337.1 L652.7 1334.8 L656.5 1334.8 L658.8 1337.1 L658.8 1340.9 L656.5 1343.2 L652.7 1343.2 L650.4 1340.9Z" fill="currentColor" fill-rule="evenodd"/>
<path d="M680.5 1339 L693 1326.5 L705.5 1339 L693 1351.5ZM688.8 1337.1 L691.1 1334.8 L694.9 1334.8 L697.2 1337.1 L697.2 1340.9 L694.9 1343.2 L691.1 1343.2 L688.8 1340.9Z" fill="currentColor" fill-rule="evenodd"/>
<path d="M1296.1 1338.8 L1308.6 1326.3 L1321.1 1338.8 L1308.6 1351.3ZM1304.4 1336.9 L1306.7 1334.6 L1310.5 1334.6 L1312.8 1336.9 L1312.8 1340.7 L1310.5 1343 L1306.7 1343 L1304.4 1340.7Z" fill="currentColor" fill-rule="evenodd"/>
<path d="M1334.5 1338.8 L1347 1326.3 L1359.5 1338.8 L1347 1351.3ZM1342.8 1336.9 L1345.1 1334.6 L1348.9 1334.6 L1351.2 1336.9 L1351.2 1340.7 L1348.9 1343 L1345.1 1343 L1342.8 1340.7Z" fill="currentColor" fill-rule="evenodd"/>
<path d="M806 1302 H806 A18.8 18.8 0 0 1 824.8 1320.8 V1355.2 A18.8 18.8 0 0 1 806 1374 H806 A18.8 18.8 0 0 1 787.2 1355.2 V1320.8 A18.8 18.8 0 0 1 806 1302ZM798 1334.4 L802.4 1330 L809.6 1330 L814 1334.4 L814 1341.6 L809.6 1346 L802.4 1346 L798 1341.6Z" fill="currentColor" fill-rule="evenodd"/>
<path d="M1176.9 1301.8 H1177 A18.7 18.7 0 0 1 1195.7 1320.5 V1355.5 A18.7 18.7 0 0 1 1177 1374.2 H1176.9 A18.7 18.7 0 0 1 1158.2 1355.5 V1320.5 A18.7 18.7 0 0 1 1176.9 1301.8ZM1168.9 1334.4 L1173.3 1330 L1180.5 1330 L1184.9 1334.4 L1184.9 1341.6 L1180.5 1346 L1173.3 1346 L1168.9 1341.6Z" fill="currentColor" fill-rule="evenodd"/>
<path d="M867.5 1308.7 H870.5 A20 20 0 0 1 890.5 1328.7 V1348.7 A20 20 0 0 1 870.5 1368.7 H867.5 A20 20 0 0 1 847.5 1348.7 V1328.7 A20 20 0 0 1 867.5 1308.7ZM863 1336 L866.3 1332.7 L871.7 1332.7 L875 1336 L875 1341.4 L871.7 1344.7 L866.3 1344.7 L863 1341.4Z" fill="currentColor" fill-rule="evenodd"/>
<path d="M1083 1310 H1083.6 A15 15 0 0 1 1098.6 1325 V1351 A15 15 0 0 1 1083.6 1366 H1083 A15 15 0 0 1 1068 1351 V1325 A15 15 0 0 1 1083 1310ZM1077.3 1335.3 L1080.6 1332 L1086 1332 L1089.3 1335.3 L1089.3 1340.7 L1086 1344 L1080.6 1344 L1077.3 1340.7Z" fill="currentColor" fill-rule="evenodd"/>
<path d="M915.5 1287.5 H916.5 A24 24 0 0 1 940.5 1311.5 V1381.5 A24 24 0 0 1 916.5 1405.5 H915.5 A24 24 0 0 1 891.5 1381.5 V1311.5 A24 24 0 0 1 915.5 1287.5Z" fill="currentColor" fill-rule="evenodd"/>
<path d="M1000 1289 H1002 A45 45 0 0 1 1047 1334 V1360 A45 45 0 0 1 1002 1405 H1000 A45 45 0 0 1 955 1360 V1334 A45 45 0 0 1 1000 1289Z" fill="currentColor" fill-rule="evenodd"/>
<path d="M930 1300 H970 V1392 H930Z" fill="currentColor" fill-rule="evenodd"/>
<rect x="113.7" y="725.7" width="28.1" height="30.9" fill="currentColor"/>
<rect x="186.5" y="692" width="14.5" height="28" fill="currentColor"/>
</g>
<g id="l_pad2" color="#008000" opacity="0.55">
<path d="M120.8 484.3 L148.8 484.3 L157.8 493.3 L157.8 502.7 L148.8 511.7 L120.8 511.7 L111.8 502.7 L111.8 493.3ZM125.6 496.1 L128.5 493.2 L133.1 493.2 L136 496.1 L136 500.7 L133.1 503.6 L128.5 503.6 L125.6 500.7Z" fill="currentColor" fill-rule="evenodd"/>
<path d="M120.8 521.2 L148.8 521.2 L157.8 530.2 L157.8 539.6 L148.8 548.6 L120.8 548.6 L111.8 539.6 L111.8 530.2ZM125.6 532.9 L128.5 530.1 L133.1 530.1 L136 532.9 L136 537.6 L133.1 540.5 L128.5 540.5 L125.6 537.6Z" fill="currentColor" fill-rule="evenodd"/>
<path d="M120.8 558 L148.8 558 L157.8 567 L157.8 576.4 L148.8 585.4 L120.8 585.4 L111.8 576.4 L111.8 567ZM125.6 569.8 L128.5 566.9 L133.1 566.9 L136 569.8 L136 574.5 L133.1 577.3 L128.5 577.3 L125.6 574.5Z" fill="currentColor" fill-rule="evenodd"/>
<path d="M120.8 594.9 L148.8 594.9 L157.8 603.9 L157.8 613.3 L148.8 622.3 L120.8 622.3 L111.8 613.3 L111.8 603.9ZM125.6 606.7 L128.5 603.8 L133.1 603.8 L136 606.7 L136 611.4 L133.1 614.2 L128.5 614.2 L125.6 611.4Z" fill="currentColor" fill-rule="evenodd"/>
<path d="M120.8 631.8 L148.8 631.8 L157.8 640.8 L157.8 650.2 L148.8 659.2 L120.8 659.2 L111.8 650.2 L111.8 640.8ZM125.6 643.5 L128.5 640.7 L133.1 640.7 L136 643.5 L136 648.2 L133.1 651.1 L128.5 651.1 L125.6 648.2Z" fill="currentColor" fill-rule="evenodd"/>
<path d="M120.8 668.6 L148.8 668.6 L157.8 677.6 L157.8 687.1 L148.8 696.1 L120.8 696.1 L111.8 687.1 L111.8 677.6ZM125.6 680.4 L128.5 677.5 L133.1 677.5 L136 680.4 L136 685.1 L133.1 688 L128.5 688 L125.6 685.1Z" fill="currentColor" fill-rule="evenodd"/>
<path d="M120.8 705.5 L148.8 705.5 L157.8 714.5 L157.8 723.9 L148.8 732.9 L120.8 732.9 L111.8 723.9 L111.8 714.5ZM125.6 717.3 L128.5 714.4 L133.1 714.4 L136 717.3 L136 722 L133.1 724.8 L128.5 724.8 L125.6 722Z" fill="currentColor" fill-rule="evenodd"/>
<path d="M120.8 742.4 L148.8 742.4 L157.8 751.4 L157.8 760.8 L148.8 769.8 L120.8 769.8 L111.8 760.8 L111.8 751.4ZM125.6 754.1 L128.5 751.3 L133.1 751.3 L136 754.1 L136 758.8 L133.1 761.7 L128.5 761.7 L125.6 758.8Z" fill="currentColor" fill-rule="evenodd"/>
<path d="M120.8 971.3 L148.8 971.3 L157.8 980.3 L157.8 989.7 L148.8 998.7 L120.8 998.7 L111.8 989.7 L111.8 980.3ZM125.6 983 L128.5 980.2 L133.1 980.2 L136 983 L136 987.7 L133.1 990.6 L128.5 990.6 L125.6 987.7Z" fill="currentColor" fill-rule="evenodd"/>
<path d="M120.8 1008.1 L148.8 1008.1 L157.8 1017.1 L157.8 1026.5 L148.8 1035.5 L120.8 1035.5 L111.8 1026.5 L111.8 1017.1ZM125.6 1019.9 L128.5 1017 L133.1 1017 L136 1019.9 L136 1024.6 L133.1 1027.5 L128.5 1027.5 L125.6 1024.6Z" fill="currentColor" fill-rule="evenodd"/>
<path d="M120.8 1045 L148.8 1045 L157.8 1054 L157.8 1063.4 L148.8 1072.4 L120.8 1072.4 L111.8 1063.4 L111.8 1054ZM125.6 1056.8 L128.5 1053.9 L133.1 1053.9 L136 1056.8 L136 1061.5 L133.1 1064.3 L128.5 1064.3 L125.6 1061.5Z" fill="currentColor" fill-rule="evenodd"/>
<path d="M120.8 1081.9 L148.8 1081.9 L157.8 1090.9 L157.8 1100.3 L148.8 1109.3 L120.8 1109.3 L111.8 1100.3 L111.8 1090.9ZM125.6 1093.7 L128.5 1090.8 L133.1 1090.8 L136 1093.7 L136 1098.3 L133.1 1101.2 L128.5 1101.2 L125.6 1098.3Z" fill="currentColor" fill-rule="evenodd"/>
<path d="M120.8 1118.8 L148.8 1118.8 L157.8 1127.8 L157.8 1137.2 L148.8 1146.2 L120.8 1146.2 L111.8 1137.2 L111.8 1127.8ZM125.6 1130.5 L128.5 1127.7 L133.1 1127.7 L136 1130.5 L136 1135.2 L133.1 1138.1 L128.5 1138.1 L125.6 1135.2Z" fill="currentColor" fill-rule="evenodd"/>
<path d="M120.8 1155.6 L148.8 1155.6 L157.8 1164.6 L157.8 1174 L148.8 1183 L120.8 1183 L111.8 1174 L111.8 1164.6ZM125.6 1167.4 L128.5 1164.5 L133.1 1164.5 L136 1167.4 L136 1172.1 L133.1 1174.9 L128.5 1174.9 L125.6 1172.1Z" fill="currentColor" fill-rule="evenodd"/>
<path d="M120.8 1192.5 L148.8 1192.5 L157.8 1201.5 L157.8 1210.9 L148.8 1219.9 L120.8 1219.9 L111.8 1210.9 L111.8 1201.5ZM125.6 1204.3 L128.5 1201.4 L133.1 1201.4 L136 1204.3 L136 1208.9 L133.1 1211.8 L128.5 1211.8 L125.6 1208.9Z" fill="currentColor" fill-rule="evenodd"/>
<path d="M120.8 1229.4 L148.8 1229.4 L157.8 1238.4 L157.8 1247.8 L148.8 1256.8 L120.8 1256.8 L111.8 1247.8 L111.8 1238.4ZM125.6 1241.1 L128.5 1238.3 L133.1 1238.3 L136 1241.1 L136 1245.8 L133.1 1248.7 L128.5 1248.7 L125.6 1245.8Z" fill="currentColor" fill-rule="evenodd"/>
<path d="M1515.3 484.3 L1543.3 484.3 L1552.3 493.3 L1552.3 502.7 L1543.3 511.7 L1515.3 511.7 L1506.3 502.7 L1506.3 493.3ZM1528.1 496.1 L1531 493.2 L1535.6 493.2 L1538.5 496.1 L1538.5 500.7 L1535.6 503.6 L1531 503.6 L1528.1 500.7Z" fill="currentColor" fill-rule="evenodd"/>
<path d="M1515.3 521.2 L1543.3 521.2 L1552.3 530.2 L1552.3 539.6 L1543.3 548.6 L1515.3 548.6 L1506.3 539.6 L1506.3 530.2ZM1528.1 532.9 L1531 530.1 L1535.6 530.1 L1538.5 532.9 L1538.5 537.6 L1535.6 540.5 L1531 540.5 L1528.1 537.6Z" fill="currentColor" fill-rule="evenodd"/>
<path d="M1515.3 558 L1543.3 558 L1552.3 567 L1552.3 576.4 L1543.3 585.4 L1515.3 585.4 L1506.3 576.4 L1506.3 567ZM1528.1 569.8 L1531 566.9 L1535.6 566.9 L1538.5 569.8 L1538.5 574.5 L1535.6 577.3 L1531 577.3 L1528.1 574.5Z" fill="currentColor" fill-rule="evenodd"/>
<path d="M1515.3 594.9 L1543.3 594.9 L1552.3 603.9 L1552.3 613.3 L1543.3 622.3 L1515.3 622.3 L1506.3 613.3 L1506.3 603.9ZM1528.1 606.7 L1531 603.8 L1535.6 603.8 L1538.5 606.7 L1538.5 611.4 L1535.6 614.2 L1531 614.2 L1528.1 611.4Z" fill="currentColor" fill-rule="evenodd"/>
<path d="M1515.3 631.8 L1543.3 631.8 L1552.3 640.8 L1552.3 650.2 L1543.3 659.2 L1515.3 659.2 L1506.3 650.2 L1506.3 640.8ZM1528.1 643.5 L1531 640.7 L1535.6 640.7 L1538.5 643.5 L1538.5 648.2 L1535.6 651.1 L1531 651.1 L1528.1 648.2Z" fill="currentColor" fill-rule="evenodd"/>
<path d="M1515.3 668.6 L1543.3 668.6 L1552.3 677.6 L1552.3 687.1 L1543.3 696.1 L1515.3 696.1 L1506.3 687.1 L1506.3 677.6ZM1528.1 680.4 L1531 677.5 L1535.6 677.5 L1538.5 680.4 L1538.5 685.1 L1535.6 688 L1531 688 L1528.1 685.1Z" fill="currentColor" fill-rule="evenodd"/>
<path d="M1515.3 705.5 L1543.3 705.5 L1552.3 714.5 L1552.3 723.9 L1543.3 732.9 L1515.3 732.9 L1506.3 723.9 L1506.3 714.5ZM1528.1 717.3 L1531 714.4 L1535.6 714.4 L1538.5 717.3 L1538.5 722 L1535.6 724.8 L1531 724.8 L1528.1 722Z" fill="currentColor" fill-rule="evenodd"/>
<path d="M1515.3 742.4 L1543.3 742.4 L1552.3 751.4 L1552.3 760.8 L1543.3 769.8 L1515.3 769.8 L1506.3 760.8 L1506.3 751.4ZM1528.1 754.1 L1531 751.3 L1535.6 751.3 L1538.5 754.1 L1538.5 758.8 L1535.6 761.7 L1531 761.7 L1528.1 758.8Z" fill="currentColor" fill-rule="evenodd"/>
<path d="M1515.3 896.4 L1543.3 896.4 L1552.3 905.4 L1552.3 914.8 L1543.3 923.8 L1515.3 923.8 L1506.3 914.8 L1506.3 905.4ZM1528.1 908.1 L1531 905.3 L1535.6 905.3 L1538.5 908.1 L1538.5 912.8 L1535.6 915.7 L1531 915.7 L1528.1 912.8Z" fill="currentColor" fill-rule="evenodd"/>
<path d="M1515.3 933.2 L1543.3 933.2 L1552.3 942.2 L1552.3 951.6 L1543.3 960.6 L1515.3 960.6 L1506.3 951.6 L1506.3 942.2ZM1528.1 945 L1531 942.1 L1535.6 942.1 L1538.5 945 L1538.5 949.7 L1535.6 952.5 L1531 952.5 L1528.1 949.7Z" fill="currentColor" fill-rule="evenodd"/>
<path d="M1515.3 970.1 L1543.3 970.1 L1552.3 979.1 L1552.3 988.5 L1543.3 997.5 L1515.3 997.5 L1506.3 988.5 L1506.3 979.1ZM1528.1 981.9 L1531 979 L1535.6 979 L1538.5 981.9 L1538.5 986.5 L1535.6 989.4 L1531 989.4 L1528.1 986.5Z" fill="currentColor" fill-rule="evenodd"/>
<path d="M1515.3 1007 L1543.3 1007 L1552.3 1016 L1552.3 1025.4 L1543.3 1034.4 L1515.3 1034.4 L1506.3 1025.4 L1506.3 1016ZM1528.1 1018.7 L1531 1015.9 L1535.6 1015.9 L1538.5 1018.7 L1538.5 1023.4 L1535.6 1026.3 L1531 1026.3 L1528.1 1023.4Z" fill="currentColor" fill-rule="evenodd"/>
<path d="M1515.3 1043.8 L1543.3 1043.8 L1552.3 1052.8 L1552.3 1062.2 L1543.3 1071.2 L1515.3 1071.2 L1506.3 1062.2 L1506.3 1052.8ZM1528.1 1055.6 L1531 1052.7 L1535.6 1052.7 L1538.5 1055.6 L1538.5 1060.3 L1535.6 1063.1 L1531 1063.1 L1528.1 1060.3Z" fill="currentColor" fill-rule="evenodd"/>
<path d="M1515.3 1080.7 L1543.3 1080.7 L1552.3 1089.7 L1552.3 1099.1 L1543.3 1108.1 L1515.3 1108.1 L1506.3 1099.1 L1506.3 1089.7ZM1528.1 1092.5 L1531 1089.6 L1535.6 1089.6 L1538.5 1092.5 L1538.5 1097.1 L1535.6 1100 L1531 1100 L1528.1 1097.1Z" fill="currentColor" fill-rule="evenodd"/>
<path d="M1515.3 1117.6 L1543.3 1117.6 L1552.3 1126.6 L1552.3 1136 L1543.3 1145 L1515.3 1145 L1506.3 1136 L1506.3 1126.6ZM1528.1 1129.3 L1531 1126.5 L1535.6 1126.5 L1538.5 1129.3 L1538.5 1134 L1535.6 1136.9 L1531 1136.9 L1528.1 1134Z" fill="currentColor" fill-rule="evenodd"/>
<path d="M1515.3 1154.4 L1543.3 1154.4 L1552.3 1163.4 L1552.3 1172.8 L1543.3 1181.8 L1515.3 1181.8 L1506.3 1172.8 L1506.3 1163.4ZM1528.1 1166.2 L1531 1163.3 L1535.6 1163.3 L1538.5 1166.2 L1538.5 1170.9 L1535.6 1173.8 L1531 1173.8 L1528.1 1170.9Z" fill="currentColor" fill-rule="evenodd"/>
<path d="M481.6 878.6 L491.6 878.6 L498.6 885.6 L498.6 895.6 L491.6 902.6 L481.6 902.6 L474.6 895.6 L474.6 885.6ZM483 889 L485 887 L488.2 887 L490.2 889 L490.2 892.2 L488.2 894.2 L485 894.2 L483 892.2Z" fill="currentColor" fill-rule="evenodd"/>
<path d="M517 841 L527 841 L534 848 L534 858 L527 865 L517 865 L510 858 L510 848ZM518.4 851.4 L520.4 849.4 L523.6 849.4 L525.6 851.4 L525.6 854.6 L523.6 856.6 L520.4 856.6 L518.4 854.6Z" fill="currentColor" fill-rule="evenodd"/>
<path d="M594 841 L604 841 L611 848 L611 858 L604 865 L594 865 L587 858 L587 848ZM595.4 851.4 L597.4 849.4 L600.6 849.4 L602.6 851.4 L602.6 854.6 L600.6 856.6 L597.4 856.6 L595.4 854.6Z" fill="currentColor" fill-rule="evenodd"/>
<path d="M556 878.6 L566 878.6 L573 885.6 L573 895.6 L566 902.6 L556 902.6 L549 895.6 L549 885.6ZM557.4 889 L559.4 887 L562.6 887 L564.6 889 L564.6 892.2 L562.6 894.2 L559.4 894.2 L557.4 892.2Z" fill="currentColor" fill-rule="evenodd"/>
<path d="M517 914.4 L527 914.4 L534 921.4 L534 931.4 L527 938.4 L517 938.4 L510 931.4 L510 921.4ZM518.4 924.8 L520.4 922.8 L523.6 922.8 L525.6 924.8 L525.6 928 L523.6 930 L520.4 930 L518.4 928Z" fill="currentColor" fill-rule="evenodd"/>
<path d="M443 914.4 L453 914.4 L460 921.4 L460 931.4 L453 938.4 L443 938.4 L436 931.4 L436 921.4ZM444.4 924.8 L446.4 922.8 L449.6 922.8 L451.6 924.8 L451.6 928 L449.6 930 L446.4 930 L444.4 928Z" fill="currentColor" fill-rule="evenodd"/>
<path d="M646.1 1339 L654.6 1330.5 L663.1 1339 L654.6 1347.5ZM650.4 1337.1 L652.7 1334.8 L656.5 1334.8 L658.8 1337.1 L658.8 1340.9 L656.5 1343.2 L652.7 1343.2 L650.4 1340.9Z" fill="currentColor" fill-rule="evenodd"/>
<path d="M684.5 1339 L693 1330.5 L701.5 1339 L693 1347.5ZM688.8 1337.1 L691.1 1334.8 L694.9 1334.8 L697.2 1337.1 L697.2 1340.9 L694.9 1343.2 L691.1 1343.2 L688.8 1340.9Z" fill="currentColor" fill-rule="evenodd"/>
<path d="M1300.1 1338.8 L1308.6 1330.3 L1317.1 1338.8 L1308.6 1347.3ZM1304.4 1336.9 L1306.7 1334.6 L1310.5 1334.6 L1312.8 1336.9 L1312.8 1340.7 L1310.5 1343 L1306.7 1343 L1304.4 1340.7Z" fill="currentColor" fill-rule="evenodd"/>
<path d="M1338.5 1338.8 L1347 1330.3 L1355.5 1338.8 L1347 1347.3ZM1342.8 1336.9 L1345.1 1334.6 L1348.9 1334.6 L1351.2 1336.9 L1351.2 1340.7 L1348.9 1343 L1345.1 1343 L1342.8 1340.7Z" fill="currentColor" fill-rule="evenodd"/>
<path d="M863 1323 L875 1323 L884 1332 L884 1344 L875 1353 L863 1353 L854 1344 L854 1332Z" fill="currentColor" fill-rule="evenodd"/>
<path d="M1078.3 1325 L1088.3 1325 L1096.3 1333 L1096.3 1343 L1088.3 1351 L1078.3 1351 L1070.3 1343 L1070.3 1333Z" fill="currentColor" fill-rule="evenodd"/>
<path d="M916 1291.5 H916 A22 22 0 0 1 938 1313.5 V1379.5 A22 22 0 0 1 916 1401.5 H916 A22 22 0 0 1 894 1379.5 V1313.5 A22 22 0 0 1 916 1291.5Z" fill="currentColor" fill-rule="evenodd"/>
<path d="M1001 1294 H1001 A42 42 0 0 1 1043 1336 V1358 A42 42 0 0 1 1001 1400 H1001 A42 42 0 0 1 959 1358 V1336 A42 42 0 0 1 1001 1294Z" fill="currentColor" fill-rule="evenodd"/>
<path d="M930 1304 H975 V1390 H930Z" fill="currentColor" fill-rule="evenodd"/>
</g>
<g id="l_unr" color="#808000" opacity="0.75">
<path d="M187 704 L785 794" fill="none" stroke="currentColor" stroke-width="1.6" stroke-linecap="round" stroke-linejoin="round"/>
<path d="M184.7 704.6 L170 738" fill="none" stroke="currentColor" stroke-width="1.6" stroke-linecap="round" stroke-linejoin="round"/>
<path d="M171.3 740.5 L916 1320" fill="none" stroke="currentColor" stroke-width="1.6" stroke-linecap="round" stroke-linejoin="round"/>
<path d="M129 741 L916 1358" fill="none" stroke="currentColor" stroke-width="1.6" stroke-linecap="round" stroke-linejoin="round"/>
<path d="M599 853.5 L914 1322" fill="none" stroke="currentColor" stroke-width="1.6" stroke-linecap="round" stroke-linejoin="round"/>
<path d="M599 853.5 L916 1356" fill="none" stroke="currentColor" stroke-width="1.6" stroke-linecap="round" stroke-linejoin="round"/>
<path d="M599 853.5 L916 1394" fill="none" stroke="currentColor" stroke-width="1.6" stroke-linecap="round" stroke-linejoin="round"/>
<path d="M806 1338 L869 1332" fill="none" stroke="currentColor" stroke-width="1.6" stroke-linecap="round" stroke-linejoin="round"/>
<path d="M692 1339 L869 1332" fill="none" stroke="currentColor" stroke-width="1.6" stroke-linecap="round" stroke-linejoin="round"/>
<path d="M869 1332 L916 1339" fill="none" stroke="currentColor" stroke-width="1.6" stroke-linecap="round" stroke-linejoin="round"/>
<path d="M1176.5 1338 L1082 1330" fill="none" stroke="currentColor" stroke-width="1.6" stroke-linecap="round" stroke-linejoin="round"/>
<path d="M1082 1330 L1000 1312" fill="none" stroke="currentColor" stroke-width="1.6" stroke-linecap="round" stroke-linejoin="round"/>
<path d="M1000 1312 L955 1320" fill="none" stroke="currentColor" stroke-width="1.6" stroke-linecap="round" stroke-linejoin="round"/>
<path d="M1106 1207 L1008 1338" fill="none" stroke="currentColor" stroke-width="1.6" stroke-linecap="round" stroke-linejoin="round"/>
<path d="M916 1301 L916 1394" fill="none" stroke="currentColor" stroke-width="1.6" stroke-linecap="round" stroke-linejoin="round"/>
<path d="M916 1339 L1060 1339" fill="none" stroke="currentColor" stroke-width="1.6" stroke-linecap="round" stroke-linejoin="round"/>
<path d="M916 1376 L1000 1376" fill="none" stroke="currentColor" stroke-width="1.6" stroke-linecap="round" stroke-linejoin="round"/>
<path d="M916 1394 L1000 1312" fill="none" stroke="currentColor" stroke-width="1.6" stroke-linecap="round" stroke-linejoin="round"/>
<path d="M955 1320 L1008 1376" fill="none" stroke="currentColor" stroke-width="1.6" stroke-linecap="round" stroke-linejoin="round"/>
</g>
<g id="l_docu" color="#5a5a5a" opacity="0.62">
<path d="M486.5 482.1 H561.5 M486.5 512.7 H561.5" stroke="#a00000" stroke-width="2" fill="none"/>
<path d="M487 483.4 V511.4 M561 483.4 V511.4" stroke="#d8b0b0" stroke-width="1.6" stroke-dasharray="5 3" fill="none"/>
<rect x="498.6" y="484.4" width="12.8" height="25" fill="currentColor"/>
<rect x="536.4" y="484.4" width="13.4" height="25" fill="currentColor"/>
<rect x="592.4" y="483.2" width="11.6" height="27" fill="currentColor"/>
<rect x="630.3" y="483.2" width="13.4" height="27" fill="currentColor"/>
<path d="M486.5 519.6 H561.5 M486.5 550.2 H561.5" stroke="#a00000" stroke-width="2" fill="none"/>
<path d="M487 520.9 V548.9 M561 520.9 V548.9" stroke="#d8b0b0" stroke-width="1.6" stroke-dasharray="5 3" fill="none"/>
<rect x="498.6" y="521.9" width="12.8" height="25" fill="currentColor"/>
<rect x="536.4" y="521.9" width="13.4" height="25" fill="currentColor"/>
<rect x="592.4" y="520.7" width="11.6" height="27" fill="currentColor"/>
<rect x="630.3" y="520.7" width="13.4" height="27" fill="currentColor"/>
<path d="M486.5 557 H561.5 M486.5 587.6 H561.5" stroke="#a00000" stroke-width="2" fill="none"/>
<path d="M487 558.3 V586.3 M561 558.3 V586.3" stroke="#d8b0b0" stroke-width="1.6" stroke-dasharray="5 3" fill="none"/>
<rect x="498.6" y="559.3" width="12.8" height="25" fill="currentColor"/>
<rect x="536.4" y="559.3" width="13.4" height="25" fill="currentColor"/>
<rect x="592.4" y="558.1" width="11.6" height="27" fill="currentColor"/>
<rect x="630.3" y="558.1" width="13.4" height="27" fill="currentColor"/>
<path d="M486.5 594.5 H561.5 M486.5 625.1 H561.5" stroke="#a00000" stroke-width="2" fill="none"/>
<path d="M487 595.8 V623.8 M561 595.8 V623.8" stroke="#d8b0b0" stroke-width="1.6" stroke-dasharray="5 3" fill="none"/>
<rect x="498.6" y="596.8" width="12.8" height="25" fill="currentColor"/>
<rect x="536.4" y="596.8" width="13.4" height="25" fill="currentColor"/>
<rect x="592.4" y="595.6" width="11.6" height="27" fill="currentColor"/>
<rect x="630.3" y="595.6" width="13.4" height="27" fill="currentColor"/>
<path d="M486.5 631.9 H561.5 M486.5 662.5 H561.5" stroke="#a00000" stroke-width="2" fill="none"/>
<path d="M487 633.2 V661.2 M561 633.2 V661.2" stroke="#d8b0b0" stroke-width="1.6" stroke-dasharray="5 3" fill="none"/>
<rect x="498.6" y="634.2" width="12.8" height="25" fill="currentColor"/>
<rect x="536.4" y="634.2" width="13.4" height="25" fill="currentColor"/>
<rect x="592.4" y="633" width="11.6" height="27" fill="currentColor"/>
<rect x="630.3" y="633" width="13.4" height="27" fill="currentColor"/>
<path d="M486.5 669.4 H561.5 M486.5 700 H561.5" stroke="#a00000" stroke-width="2" fill="none"/>
<path d="M487 670.7 V698.7 M561 670.7 V698.7" stroke="#d8b0b0" stroke-width="1.6" stroke-dasharray="5 3" fill="none"/>
<rect x="498.6" y="671.7" width="12.8" height="25" fill="currentColor"/>
<rect x="536.4" y="671.7" width="13.4" height="25" fill="currentColor"/>
<rect x="592.4" y="670.5" width="11.6" height="27" fill="currentColor"/>
<rect x="630.3" y="670.5" width="13.4" height="27" fill="currentColor"/>
<path d="M486.5 706.9 H561.5 M486.5 737.5 H561.5" stroke="#a00000" stroke-width="2" fill="none"/>
<path d="M487 708.2 V736.2 M561 708.2 V736.2" stroke="#d8b0b0" stroke-width="1.6" stroke-dasharray="5 3" fill="none"/>
<rect x="498.6" y="709.2" width="12.8" height="25" fill="currentColor"/>
<rect x="536.4" y="709.2" width="13.4" height="25" fill="currentColor"/>
<rect x="592.4" y="708" width="11.6" height="27" fill="currentColor"/>
<rect x="630.3" y="708" width="13.4" height="27" fill="currentColor"/>
<path d="M486.5 744.3 H561.5 M486.5 774.9 H561.5" stroke="#a00000" stroke-width="2" fill="none"/>
<path d="M487 745.6 V773.6 M561 745.6 V773.6" stroke="#d8b0b0" stroke-width="1.6" stroke-dasharray="5 3" fill="none"/>
<rect x="498.6" y="746.6" width="12.8" height="25" fill="currentColor"/>
<rect x="536.4" y="746.6" width="13.4" height="25" fill="currentColor"/>
<rect x="592.4" y="745.4" width="11.6" height="27" fill="currentColor"/>
<rect x="630.3" y="745.4" width="13.4" height="27" fill="currentColor"/>
<path d="M486.5 969.1 H561.5 M486.5 999.7 H561.5" stroke="#a00000" stroke-width="2" fill="none"/>
<path d="M487 970.4 V998.4 M561 970.4 V998.4" stroke="#d8b0b0" stroke-width="1.6" stroke-dasharray="5 3" fill="none"/>
<rect x="498.6" y="971.4" width="12.8" height="25" fill="currentColor"/>
<rect x="536.4" y="971.4" width="13.4" height="25" fill="currentColor"/>
<rect x="592.4" y="970.2" width="11.6" height="27" fill="currentColor"/>
<rect x="630.3" y="970.2" width="13.4" height="27" fill="currentColor"/>
<path d="M486.5 1006.5 H561.5 M486.5 1037.1 H561.5" stroke="#a00000" stroke-width="2" fill="none"/>
<path d="M487 1007.8 V1035.8 M561 1007.8 V1035.8" stroke="#d8b0b0" stroke-width="1.6" stroke-dasharray="5 3" fill="none"/>
<rect x="498.6" y="1008.8" width="12.8" height="25" fill="currentColor"/>
<rect x="536.4" y="1008.8" width="13.4" height="25" fill="currentColor"/>
<rect x="592.4" y="1007.6" width="11.6" height="27" fill="currentColor"/>
<rect x="630.3" y="1007.6" width="13.4" height="27" fill="currentColor"/>
<path d="M486.5 1044 H561.5 M486.5 1074.6 H561.5" stroke="#a00000" stroke-width="2" fill="none"/>
<path d="M487 1045.3 V1073.3 M561 1045.3 V1073.3" stroke="#d8b0b0" stroke-width="1.6" stroke-dasharray="5 3" fill="none"/>
<rect x="498.6" y="1046.3" width="12.8" height="25" fill="currentColor"/>
<rect x="536.4" y="1046.3" width="13.4" height="25" fill="currentColor"/>
<rect x="592.4" y="1045.1" width="11.6" height="27" fill="currentColor"/>
<rect x="630.3" y="1045.1" width="13.4" height="27" fill="currentColor"/>
<path d="M486.5 1081.5 H561.5 M486.5 1112.1 H561.5" stroke="#a00000" stroke-width="2" fill="none"/>
<path d="M487 1082.8 V1110.8 M561 1082.8 V1110.8" stroke="#d8b0b0" stroke-width="1.6" stroke-dasharray="5 3" fill="none"/>
<rect x="498.6" y="1083.8" width="12.8" height="25" fill="currentColor"/>
<rect x="536.4" y="1083.8" width="13.4" height="25" fill="currentColor"/>
<rect x="592.4" y="1082.6" width="11.6" height="27" fill="currentColor"/>
<rect x="630.3" y="1082.6" width="13.4" height="27" fill="currentColor"/>
<path d="M486.5 1118.9 H561.5 M486.5 1149.5 H561.5" stroke="#a00000" stroke-width="2" fill="none"/>
<path d="M487 1120.2 V1148.2 M561 1120.2 V1148.2" stroke="#d8b0b0" stroke-width="1.6" stroke-dasharray="5 3" fill="none"/>
<rect x="498.6" y="1121.2" width="12.8" height="25" fill="currentColor"/>
<rect x="536.4" y="1121.2" width="13.4" height="25" fill="currentColor"/>
<rect x="592.4" y="1120" width="11.6" height="27" fill="currentColor"/>
<rect x="630.3" y="1120" width="13.4" height="27" fill="currentColor"/>
<path d="M486.5 1156.4 H561.5 M486.5 1187 H561.5" stroke="#a00000" stroke-width="2" fill="none"/>
<path d="M487 1157.7 V1185.7 M561 1157.7 V1185.7" stroke="#d8b0b0" stroke-width="1.6" stroke-dasharray="5 3" fill="none"/>
<rect x="498.6" y="1158.7" width="12.8" height="25" fill="currentColor"/>
<rect x="536.4" y="1158.7" width="13.4" height="25" fill="currentColor"/>
<rect x="592.4" y="1157.5" width="11.6" height="27" fill="currentColor"/>
<rect x="630.3" y="1157.5" width="13.4" height="27" fill="currentColor"/>
<path d="M486.5 1193.8 H561.5 M486.5 1224.4 H561.5" stroke="#a00000" stroke-width="2" fill="none"/>
<path d="M487 1195.1 V1223.1 M561 1195.1 V1223.1" stroke="#d8b0b0" stroke-width="1.6" stroke-dasharray="5 3" fill="none"/>
<rect x="498.6" y="1196.1" width="12.8" height="25" fill="currentColor"/>
<rect x="536.4" y="1196.1" width="13.4" height="25" fill="currentColor"/>
<rect x="592.4" y="1194.9" width="11.6" height="27" fill="currentColor"/>
<rect x="630.3" y="1194.9" width="13.4" height="27" fill="currentColor"/>
<path d="M486.5 1231.3 H561.5 M486.5 1261.9 H561.5" stroke="#a00000" stroke-width="2" fill="none"/>
<path d="M487 1232.6 V1260.6 M561 1232.6 V1260.6" stroke="#d8b0b0" stroke-width="1.6" stroke-dasharray="5 3" fill="none"/>
<rect x="498.6" y="1233.6" width="12.8" height="25" fill="currentColor"/>
<rect x="536.4" y="1233.6" width="13.4" height="25" fill="currentColor"/>
<rect x="592.4" y="1232.4" width="11.6" height="27" fill="currentColor"/>
<rect x="630.3" y="1232.4" width="13.4" height="27" fill="currentColor"/>
<rect x="1190" y="484.2" width="13" height="26" fill="currentColor"/>
<rect x="1228.5" y="484.2" width="13.1" height="26" fill="currentColor"/>
<path d="M1181 483.2 V511.2 M1251.5 483.2 V511.2" stroke="#e8d0d4" stroke-width="1.6" stroke-dasharray="5 3" fill="none"/>
<rect x="1284.3" y="483.2" width="11.6" height="27" fill="currentColor"/>
<rect x="1322.2" y="483.2" width="13.4" height="27" fill="currentColor"/>
<rect x="1190" y="521.7" width="13" height="26" fill="currentColor"/>
<rect x="1228.5" y="521.7" width="13.1" height="26" fill="currentColor"/>
<path d="M1181 520.7 V548.7 M1251.5 520.7 V548.7" stroke="#e8d0d4" stroke-width="1.6" stroke-dasharray="5 3" fill="none"/>
<rect x="1284.3" y="520.7" width="11.6" height="27" fill="currentColor"/>
<rect x="1322.2" y="520.7" width="13.4" height="27" fill="currentColor"/>
<rect x="1190" y="559.1" width="13" height="26" fill="currentColor"/>
<rect x="1228.5" y="559.1" width="13.1" height="26" fill="currentColor"/>
<path d="M1181 558.1 V586.1 M1251.5 558.1 V586.1" stroke="#e8d0d4" stroke-width="1.6" stroke-dasharray="5 3" fill="none"/>
<rect x="1284.3" y="558.1" width="11.6" height="27" fill="currentColor"/>
<rect x="1322.2" y="558.1" width="13.4" height="27" fill="currentColor"/>
<rect x="1190" y="596.6" width="13" height="26" fill="currentColor"/>
<rect x="1228.5" y="596.6" width="13.1" height="26" fill="currentColor"/>
<path d="M1181 595.6 V623.6 M1251.5 595.6 V623.6" stroke="#e8d0d4" stroke-width="1.6" stroke-dasharray="5 3" fill="none"/>
<rect x="1284.3" y="595.6" width="11.6" height="27" fill="currentColor"/>
<rect x="1322.2" y="595.6" width="13.4" height="27" fill="currentColor"/>
<rect x="1190" y="634" width="13" height="26" fill="currentColor"/>
<rect x="1228.5" y="634" width="13.1" height="26" fill="currentColor"/>
<path d="M1181 633 V661 M1251.5 633 V661" stroke="#e8d0d4" stroke-width="1.6" stroke-dasharray="5 3" fill="none"/>
<rect x="1284.3" y="633" width="11.6" height="27" fill="currentColor"/>
<rect x="1322.2" y="633" width="13.4" height="27" fill="currentColor"/>
<rect x="1190" y="671.5" width="13" height="26" fill="currentColor"/>
<rect x="1228.5" y="671.5" width="13.1" height="26" fill="currentColor"/>
<path d="M1181 670.5 V698.5 M1251.5 670.5 V698.5" stroke="#e8d0d4" stroke-width="1.6" stroke-dasharray="5 3" fill="none"/>
<rect x="1284.3" y="670.5" width="11.6" height="27" fill="currentColor"/>
<rect x="1322.2" y="670.5" width="13.4" height="27" fill="currentColor"/>
<rect x="1190" y="709" width="13" height="26" fill="currentColor"/>
<rect x="1228.5" y="709" width="13.1" height="26" fill="currentColor"/>
<path d="M1181 708 V736 M1251.5 708 V736" stroke="#e8d0d4" stroke-width="1.6" stroke-dasharray="5 3" fill="none"/>
<rect x="1284.3" y="708" width="11.6" height="27" fill="currentColor"/>
<rect x="1322.2" y="708" width="13.4" height="27" fill="currentColor"/>
<rect x="1190" y="746.4" width="13" height="26" fill="currentColor"/>
<rect x="1228.5" y="746.4" width="13.1" height="26" fill="currentColor"/>
<path d="M1181 745.4 V773.4 M1251.5 745.4 V773.4" stroke="#e8d0d4" stroke-width="1.6" stroke-dasharray="5 3" fill="none"/>
<rect x="1284.3" y="745.4" width="11.6" height="27" fill="currentColor"/>
<rect x="1322.2" y="745.4" width="13.4" height="27" fill="currentColor"/>
<rect x="1190" y="896.3" width="13" height="26" fill="currentColor"/>
<rect x="1228.5" y="896.3" width="13.1" height="26" fill="currentColor"/>
<path d="M1181 895.3 V923.3 M1251.5 895.3 V923.3" stroke="#e8d0d4" stroke-width="1.6" stroke-dasharray="5 3" fill="none"/>
<rect x="1284.3" y="895.3" width="11.6" height="27" fill="currentColor"/>
<rect x="1322.2" y="895.3" width="13.4" height="27" fill="currentColor"/>
<rect x="1190" y="933.7" width="13" height="26" fill="currentColor"/>
<rect x="1228.5" y="933.7" width="13.1" height="26" fill="currentColor"/>
<path d="M1181 932.7 V960.7 M1251.5 932.7 V960.7" stroke="#e8d0d4" stroke-width="1.6" stroke-dasharray="5 3" fill="none"/>
<rect x="1284.3" y="932.7" width="11.6" height="27" fill="currentColor"/>
<rect x="1322.2" y="932.7" width="13.4" height="27" fill="currentColor"/>
<rect x="1190" y="971.2" width="13" height="26" fill="currentColor"/>
<rect x="1228.5" y="971.2" width="13.1" height="26" fill="currentColor"/>
<path d="M1181 970.2 V998.2 M1251.5 970.2 V998.2" stroke="#e8d0d4" stroke-width="1.6" stroke-dasharray="5 3" fill="none"/>
<rect x="1284.3" y="970.2" width="11.6" height="27" fill="currentColor"/>
<rect x="1322.2" y="970.2" width="13.4" height="27" fill="currentColor"/>
<rect x="1190" y="1008.6" width="13" height="26" fill="currentColor"/>
<rect x="1228.5" y="1008.6" width="13.1" height="26" fill="currentColor"/>
<path d="M1181 1007.6 V1035.6 M1251.5 1007.6 V1035.6" stroke="#e8d0d4" stroke-width="1.6" stroke-dasharray="5 3" fill="none"/>
<rect x="1284.3" y="1007.6" width="11.6" height="27" fill="currentColor"/>
<rect x="1322.2" y="1007.6" width="13.4" height="27" fill="currentColor"/>
<rect x="1190" y="1046.1" width="13" height="26" fill="currentColor"/>
<rect x="1228.5" y="1046.1" width="13.1" height="26" fill="currentColor"/>
<path d="M1181 1045.1 V1073.1 M1251.5 1045.1 V1073.1" stroke="#e8d0d4" stroke-width="1.6" stroke-dasharray="5 3" fill="none"/>
<rect x="1284.3" y="1045.1" width="11.6" height="27" fill="currentColor"/>
<rect x="1322.2" y="1045.1" width="13.4" height="27" fill="currentColor"/>
<rect x="1190" y="1083.6" width="13" height="26" fill="currentColor"/>
<rect x="1228.5" y="1083.6" width="13.1" height="26" fill="currentColor"/>
<path d="M1181 1082.6 V1110.6 M1251.5 1082.6 V1110.6" stroke="#e8d0d4" stroke-width="1.6" stroke-dasharray="5 3" fill="none"/>
<rect x="1284.3" y="1082.6" width="11.6" height="27" fill="currentColor"/>
<rect x="1322.2" y="1082.6" width="13.4" height="27" fill="currentColor"/>
<rect x="1190" y="1121" width="13" height="26" fill="currentColor"/>
<rect x="1228.5" y="1121" width="13.1" height="26" fill="currentColor"/>
<path d="M1181 1120 V1148 M1251.5 1120 V1148" stroke="#e8d0d4" stroke-width="1.6" stroke-dasharray="5 3" fill="none"/>
<rect x="1284.3" y="1120" width="11.6" height="27" fill="currentColor"/>
<rect x="1322.2" y="1120" width="13.4" height="27" fill="currentColor"/>
<rect x="1190" y="1158.5" width="13" height="26" fill="currentColor"/>
<rect x="1228.5" y="1158.5" width="13.1" height="26" fill="currentColor"/>
<path d="M1181 1157.5 V1185.5 M1251.5 1157.5 V1185.5" stroke="#e8d0d4" stroke-width="1.6" stroke-dasharray="5 3" fill="none"/>
<rect x="1284.3" y="1157.5" width="11.6" height="27" fill="currentColor"/>
<rect x="1322.2" y="1157.5" width="13.4" height="27" fill="currentColor"/>
<rect x="934.4" y="1266" width="20.4" height="171.5" fill="currentColor"/>
<rect x="163" y="686" width="13" height="26" fill="currentColor"/>
<rect x="163" y="727" width="13" height="27" fill="currentColor"/>
</g>
<g id="l_over" color="#7a7a7a" opacity="0.88">
<rect x="741.5" y="1329" width="14.5" height="20" fill="none" stroke="currentColor" stroke-width="2"/>
<path d="M744.5 1342 L752.5 1342" fill="none" stroke="currentColor" stroke-width="2" stroke-linecap="butt" stroke-linejoin="round"/>
<path d="M748.5 1333 L748.5 1346" fill="none" stroke="currentColor" stroke-width="2" stroke-linecap="butt" stroke-linejoin="round"/>
<path d="M744.5 1337 L752.5 1337" fill="none" stroke="currentColor" stroke-width="1.5" stroke-linecap="butt" stroke-linejoin="round"/>
<rect x="1226.5" y="1329" width="14.5" height="20" fill="none" stroke="currentColor" stroke-width="2"/>
<path d="M1229.5 1342 L1237.5 1342" fill="none" stroke="currentColor" stroke-width="2" stroke-linecap="butt" stroke-linejoin="round"/>
<path d="M1233.5 1333 L1233.5 1346" fill="none" stroke="currentColor" stroke-width="2" stroke-linecap="butt" stroke-linejoin="round"/>
<path d="M1229.5 1337 L1237.5 1337" fill="none" stroke="currentColor" stroke-width="1.5" stroke-linecap="butt" stroke-linejoin="round"/>
<path d="M911 1298.8 L913.8 1296 L918.2 1296 L921 1298.8 L921 1303.2 L918.2 1306 L913.8 1306 L911 1303.2Z" fill="#a8a8a8"/>
<path d="M911 1317.8 L913.8 1315 L918.2 1315 L921 1317.8 L921 1322.2 L918.2 1325 L913.8 1325 L911 1322.2Z" fill="#a8a8a8"/>
<path d="M911 1336.8 L913.8 1334 L918.2 1334 L921 1336.8 L921 1341.2 L918.2 1344 L913.8 1344 L911 1341.2Z" fill="#a8a8a8"/>
<path d="M911 1355.8 L913.8 1353 L918.2 1353 L921 1355.8 L921 1360.2 L918.2 1363 L913.8 1363 L911 1360.2Z" fill="#a8a8a8"/>
<path d="M911 1373.8 L913.8 1371 L918.2 1371 L921 1373.8 L921 1378.2 L918.2 1381 L913.8 1381 L911 1378.2Z" fill="#a8a8a8"/>
<path d="M911 1391.8 L913.8 1389 L918.2 1389 L921 1391.8 L921 1396.2 L918.2 1399 L913.8 1399 L911 1396.2Z" fill="#a8a8a8"/>
<path d="M950 1317.8 L952.8 1315 L957.2 1315 L960 1317.8 L960 1322.2 L957.2 1325 L952.8 1325 L950 1322.2Z" fill="#a8a8a8"/>
<path d="M950 1354.8 L952.8 1352 L957.2 1352 L960 1354.8 L960 1359.2 L957.2 1362 L952.8 1362 L950 1359.2Z" fill="#a8a8a8"/>
<path d="M1003 1335.8 L1005.8 1333 L1010.2 1333 L1013 1335.8 L1013 1340.2 L1010.2 1343 L1005.8 1343 L1003 1340.2Z" fill="#a8a8a8"/>
<path d="M995 1357.8 L997.8 1355 L1002.2 1355 L1005 1357.8 L1005 1362.2 L1002.2 1365 L997.8 1365 L995 1362.2Z" fill="#a8a8a8"/>
<path d="M861 1330 L877 1346" fill="none" stroke="currentColor" stroke-width="4" stroke-linecap="round" stroke-linejoin="round"/>
<path d="M861 1346 L877 1330" fill="none" stroke="currentColor" stroke-width="4" stroke-linecap="round" stroke-linejoin="round"/>
<path d="M1075.3 1330 L1091.3 1346" fill="none" stroke="currentColor" stroke-width="4" stroke-linecap="round" stroke-linejoin="round"/>
<path d="M1075.3 1346 L1091.3 1330" fill="none" stroke="currentColor" stroke-width="4" stroke-linecap="round" stroke-linejoin="round"/>
<path d="M869.5 1340.4 L871.4 1338.5 L874.6 1338.5 L876.5 1340.4 L876.5 1343.6 L874.6 1345.5 L871.4 1345.5 L869.5 1343.6Z" fill="#fff"/>
<path d="M1083.5 1340.4 L1085.4 1338.5 L1088.6 1338.5 L1090.5 1340.4 L1090.5 1343.6 L1088.6 1345.5 L1085.4 1345.5 L1083.5 1343.6Z" fill="#fff"/>
<rect x="164" y="690" width="3" height="13" fill="#fff"/>
<rect x="171" y="690" width="3" height="13" fill="#fff"/>
</g>
<g id="l_dim" color="#e8a448" opacity="1.0">
<rect x="43.1" y="31.2" width="1565.9" height="1401.7" fill="none" stroke="currentColor" stroke-width="2"/>
<circle cx="112.8" cy="122.4" r="27" fill="none" stroke="currentColor" stroke-width="1.6"/>
<circle cx="112.8" cy="1356.9" r="27" fill="none" stroke="currentColor" stroke-width="1.6"/>
<circle cx="1534.7" cy="1356.4" r="27" fill="none" stroke="currentColor" stroke-width="1.6"/>
<circle cx="1534.6" cy="122.4" r="27" fill="none" stroke="currentColor" stroke-width="1.6"/>
</g>
<g id="l_meas" color="#f7a623" opacity="1.0">
<rect x="56" y="1393.8" width="2" height="2" fill="#000"/>
<rect x="60" y="1393.8" width="2" height="2" fill="#000"/>
<rect x="64" y="1393.8" width="2" height="2" fill="#000"/>
<rect x="68" y="1393.8" width="2" height="2" fill="#000"/>
<rect x="72" y="1393.8" width="2" height="2" fill="#000"/>
<rect x="76" y="1393.8" width="2" height="2" fill="#000"/>
<rect x="80" y="1393.8" width="2" height="2" fill="#000"/>
<rect x="84" y="1393.8" width="2" height="2" fill="#000"/>
<rect x="88" y="1393.8" width="2" height="2" fill="#000"/>
<rect x="92" y="1393.8" width="2" height="2" fill="#000"/>
<rect x="74.2" y="1376" width="2" height="2" fill="#000"/>
<rect x="74.2" y="1380" width="2" height="2" fill="#000"/>
<rect x="74.2" y="1384" width="2" height="2" fill="#000"/>
<rect x="74.2" y="1388" width="2" height="2" fill="#000"/>
<rect x="74.2" y="1392" width="2" height="2" fill="#000"/>
<rect x="74.2" y="1396" width="2" height="2" fill="#000"/>
<rect x="74.2" y="1400" width="2" height="2" fill="#000"/>
<rect x="74.2" y="1404" width="2" height="2" fill="#000"/>
<rect x="74.2" y="1408" width="2" height="2" fill="#000"/>
<rect x="74.2" y="1412" width="2" height="2" fill="#000"/>
<path d="M776.9 31 L776.9 1433" fill="none" stroke="currentColor" stroke-width="2" stroke-linecap="butt" stroke-linejoin="round"/>
<path d="M775 31 H779 L782 50 V70 H772 V50Z" fill="currentColor"/>
<path d="M775 1433 H779 L782 1414 V1395 H772 V1414Z" fill="currentColor"/>
<text transform="translate(767 776) rotate(-90)" font-size="34" text-anchor="start" textLength="88" lengthAdjust="spacingAndGlyphs" fill="currentColor">95.25</text>
</g>
<g id="l_grid" color="rgba(196,196,198,0.46)" opacity="1.0">
<rect x="0" y="0" width="2" height="1566" fill="currentColor"/>
<rect x="18" y="0" width="2" height="1566" fill="currentColor"/>
<rect x="36" y="0" width="2" height="1566" fill="currentColor"/>
<rect x="56" y="0" width="2" height="1566" fill="currentColor"/>
<rect x="74" y="0" width="2" height="1566" fill="currentColor"/>
<rect x="92" y="0" width="2" height="1566" fill="currentColor"/>
<rect x="112" y="0" width="2" height="1566" fill="currentColor"/>
<rect x="130" y="0" width="2" height="1566" fill="currentColor"/>
<rect x="150" y="0" width="2" height="1566" fill="currentColor"/>
<rect x="168" y="0" width="2" height="1566" fill="currentColor"/>
<rect x="186" y="0" width="2" height="1566" fill="currentColor"/>
<rect x="206" y="0" width="2" height="1566" fill="currentColor"/>
<rect x="224" y="0" width="2" height="1566" fill="currentColor"/>
<rect x="242" y="0" width="2" height="1566" fill="currentColor"/>
<rect x="262" y="0" width="2" height="1566" fill="currentColor"/>
<rect x="280" y="0" width="2" height="1566" fill="currentColor"/>
<rect x="298" y="0" width="2" height="1566" fill="currentColor"/>
<rect x="318" y="0" width="2" height="1566" fill="currentColor"/>
<rect x="336" y="0" width="2" height="1566" fill="currentColor"/>
<rect x="354" y="0" width="2" height="1566" fill="currentColor"/>
<rect x="374" y="0" width="2" height="1566" fill="currentColor"/>
<rect x="392" y="0" width="2" height="1566" fill="currentColor"/>
<rect x="410" y="0" width="2" height="1566" fill="currentColor"/>
<rect x="430" y="0" width="2" height="1566" fill="currentColor"/>
<rect x="448" y="0" width="2" height="1566" fill="currentColor"/>
<rect x="466" y="0" width="2" height="1566" fill="currentColor"/>
<rect x="486" y="0" width="2" height="1566" fill="currentColor"/>
<rect x="504" y="0" width="2" height="1566" fill="currentColor"/>
<rect x="524" y="0" width="2" height="1566" fill="currentColor"/>
<rect x="542" y="0" width="2" height="1566" fill="currentColor"/>
<rect x="560" y="0" width="2" height="1566" fill="currentColor"/>
<rect x="580" y="0" width="2" height="1566" fill="currentColor"/>
<rect x="598" y="0" width="2" height="1566" fill="currentColor"/>
<rect x="616" y="0" width="2" height="1566" fill="currentColor"/>
<rect x="636" y="0" width="2" height="1566" fill="currentColor"/>
<rect x="654" y="0" width="2" height="1566" fill="currentColor"/>
<rect x="672" y="0" width="2" height="1566" fill="currentColor"/>
<rect x="692" y="0" width="2" height="1566" fill="currentColor"/>
<rect x="710" y="0" width="2" height="1566" fill="currentColor"/>
<rect x="728" y="0" width="2" height="1566" fill="currentColor"/>
<rect x="748" y="0" width="2" height="1566" fill="currentColor"/>
<rect x="766" y="0" width="2" height="1566" fill="currentColor"/>
<rect x="784" y="0" width="2" height="1566" fill="currentColor"/>
<rect x="804" y="0" width="2" height="1566" fill="currentColor"/>
<rect x="822" y="0" width="2" height="1566" fill="currentColor"/>
<rect x="840" y="0" width="2" height="1566" fill="currentColor"/>
<rect x="860" y="0" width="2" height="1566" fill="currentColor"/>
<rect x="878" y="0" width="2" height="1566" fill="currentColor"/>
<rect x="896" y="0" width="2" height="1566" fill="currentColor"/>
<rect x="916" y="0" width="2" height="1566" fill="currentColor"/>
<rect x="934" y="0" width="2" height="1566" fill="currentColor"/>
<rect x="954" y="0" width="2" height="1566" fill="currentColor"/>
<rect x="972" y="0" width="2" height="1566" fill="currentColor"/>
<rect x="990" y="0" width="2" height="1566" fill="currentColor"/>
<rect x="1010" y="0" width="2" height="1566" fill="currentColor"/>
<rect x="1028" y="0" width="2" height="1566" fill="currentColor"/>
<rect x="1046" y="0" width="2" height="1566" fill="currentColor"/>
<rect x="1066" y="0" width="2" height="1566" fill="currentColor"/>
<rect x="1084" y="0" width="2" height="1566" fill="currentColor"/>
<rect x="1102" y="0" width="2" height="1566" fill="currentColor"/>
<rect x="1122" y="0" width="2" height="1566" fill="currentColor"/>
<rect x="1140" y="0" width="2" height="1566" fill="currentColor"/>
<rect x="1158" y="0" width="2" height="1566" fill="currentColor"/>
<rect x="1178" y="0" width="2" height="1566" fill="currentColor"/>
<rect x="1196" y="0" width="2" height="1566" fill="currentColor"/>
<rect x="1214" y="0" width="2" height="1566" fill="currentColor"/>
<rect x="1234" y="0" width="2" height="1566" fill="currentColor"/>
<rect x="1252" y="0" width="2" height="1566" fill="currentColor"/>
<rect x="1272" y="0" width="2" height="1566" fill="currentColor"/>
<rect x="1290" y="0" width="2" height="1566" fill="currentColor"/>
<rect x="1308" y="0" width="2" height="1566" fill="currentColor"/>
<rect x="1328" y="0" width="2" height="1566" fill="currentColor"/>
<rect x="1346" y="0" width="2" height="1566" fill="currentColor"/>
<rect x="1364" y="0" width="2" height="1566" fill="currentColor"/>
<rect x="1384" y="0" width="2" height="1566" fill="currentColor"/>
<rect x="1402" y="0" width="2" height="1566" fill="currentColor"/>
<rect x="1420" y="0" width="2" height="1566" fill="currentColor"/>
<rect x="1440" y="0" width="2" height="1566" fill="currentColor"/>
<rect x="1458" y="0" width="2" height="1566" fill="currentColor"/>
<rect x="1476" y="0" width="2" height="1566" fill="currentColor"/>
<rect x="1496" y="0" width="2" height="1566" fill="currentColor"/>
<rect x="1514" y="0" width="2" height="1566" fill="currentColor"/>
<rect x="1532" y="0" width="2" height="1566" fill="currentColor"/>
<rect x="1552" y="0" width="2" height="1566" fill="currentColor"/>
<rect x="1570" y="0" width="2" height="1566" fill="currentColor"/>
<rect x="1588" y="0" width="2" height="1566" fill="currentColor"/>
<rect x="1608" y="0" width="2" height="1566" fill="currentColor"/>
<rect x="1626" y="0" width="2" height="1566" fill="currentColor"/>
<rect x="1646" y="0" width="2" height="1566" fill="currentColor"/>
<rect x="1664" y="0" width="2" height="1566" fill="currentColor"/>
<rect x="1682" y="0" width="2" height="1566" fill="currentColor"/>
<rect x="1702" y="0" width="2" height="1566" fill="currentColor"/>
<rect x="0" y="10" width="1716" height="2" fill="currentColor"/>
<rect x="0" y="30" width="1716" height="2" fill="currentColor"/>
<rect x="0" y="48" width="1716" height="2" fill="currentColor"/>
<rect x="0" y="66" width="1716" height="2" fill="currentColor"/>
<rect x="0" y="86" width="1716" height="2" fill="currentColor"/>
<rect x="0" y="104" width="1716" height="2" fill="currentColor"/>
<rect x="0" y="122" width="1716" height="2" fill="currentColor"/>
<rect x="0" y="142" width="1716" height="2" fill="currentColor"/>
<rect x="0" y="160" width="1716" height="2" fill="currentColor"/>
<rect x="0" y="178" width="1716" height="2" fill="currentColor"/>
<rect x="0" y="198" width="1716" height="2" fill="currentColor"/>
<rect x="0" y="216" width="1716" height="2" fill="currentColor"/>
<rect x="0" y="236" width="1716" height="2" fill="currentColor"/>
<rect x="0" y="254" width="1716" height="2" fill="currentColor"/>
<rect x="0" y="272" width="1716" height="2" fill="currentColor"/>
<rect x="0" y="292" width="1716" height="2" fill="currentColor"/>
<rect x="0" y="310" width="1716" height="2" fill="currentColor"/>
<rect x="0" y="328" width="1716" height="2" fill="currentColor"/>
<rect x="0" y="348" width="1716" height="2" fill="currentColor"/>
<rect x="0" y="366" width="1716" height="2" fill="currentColor"/>
<rect x="0" y="384" width="1716" height="2" fill="currentColor"/>
<rect x="0" y="404" width="1716" height="2" fill="currentColor"/>
<rect x="0" y="422" width="1716" height="2" fill="currentColor"/>
<rect x="0" y="440" width="1716" height="2" fill="currentColor"/>
<rect x="0" y="460" width="1716" height="2" fill="currentColor"/>
<rect x="0" y="478" width="1716" height="2" fill="currentColor"/>
<rect x="0" y="496" width="1716" height="2" fill="currentColor"/>
<rect x="0" y="516" width="1716" height="2" fill="currentColor"/>
<rect x="0" y="534" width="1716" height="2" fill="currentColor"/>
<rect x="0" y="554" width="1716" height="2" fill="currentColor"/>
<rect x="0" y="572" width="1716" height="2" fill="currentColor"/>
<rect x="0" y="590" width="1716" height="2" fill="currentColor"/>
<rect x="0" y="610" width="1716" height="2" fill="currentColor"/>
<rect x="0" y="628" width="1716" height="2" fill="currentColor"/>
<rect x="0" y="646" width="1716" height="2" fill="currentColor"/>
<rect x="0" y="666" width="1716" height="2" fill="currentColor"/>
<rect x="0" y="684" width="1716" height="2" fill="currentColor"/>
<rect x="0" y="702" width="1716" height="2" fill="currentColor"/>
<rect x="0" y="722" width="1716" height="2" fill="currentColor"/>
<rect x="0" y="740" width="1716" height="2" fill="currentColor"/>
<rect x="0" y="758" width="1716" height="2" fill="currentColor"/>
<rect x="0" y="778" width="1716" height="2" fill="currentColor"/>
<rect x="0" y="796" width="1716" height="2" fill="currentColor"/>
<rect x="0" y="814" width="1716" height="2" fill="currentColor"/>
<rect x="0" y="834" width="1716" height="2" fill="currentColor"/>
<rect x="0" y="852" width="1716" height="2" fill="currentColor"/>
<rect x="0" y="870" width="1716" height="2" fill="currentColor"/>
<rect x="0" y="890" width="1716" height="2" fill="currentColor"/>
<rect x="0" y="908" width="1716" height="2" fill="currentColor"/>
<rect x="0" y="928" width="1716" height="2" fill="currentColor"/>
<rect x="0" y="946" width="1716" height="2" fill="currentColor"/>
<rect x="0" y="964" width="1716" height="2" fill="currentColor"/>
<rect x="0" y="984" width="1716" height="2" fill="currentColor"/>
<rect x="0" y="1002" width="1716" height="2" fill="currentColor"/>
<rect x="0" y="1020" width="1716" height="2" fill="currentColor"/>
<rect x="0" y="1040" width="1716" height="2" fill="currentColor"/>
<rect x="0" y="1058" width="1716" height="2" fill="currentColor"/>
<rect x="0" y="1076" width="1716" height="2" fill="currentColor"/>
<rect x="0" y="1096" width="1716" height="2" fill="currentColor"/>
<rect x="0" y="1114" width="1716" height="2" fill="currentColor"/>
<rect x="0" y="1132" width="1716" height="2" fill="currentColor"/>
<rect x="0" y="1152" width="1716" height="2" fill="currentColor"/>
<rect x="0" y="1170" width="1716" height="2" fill="currentColor"/>
<rect x="0" y="1188" width="1716" height="2" fill="currentColor"/>
<rect x="0" y="1208" width="1716" height="2" fill="currentColor"/>
<rect x="0" y="1226" width="1716" height="2" fill="currentColor"/>
<rect x="0" y="1244" width="1716" height="2" fill="currentColor"/>
<rect x="0" y="1264" width="1716" height="2" fill="currentColor"/>
<rect x="0" y="1282" width="1716" height="2" fill="currentColor"/>
<rect x="0" y="1302" width="1716" height="2" fill="currentColor"/>
<rect x="0" y="1320" width="1716" height="2" fill="currentColor"/>
<rect x="0" y="1338" width="1716" height="2" fill="currentColor"/>
<rect x="0" y="1358" width="1716" height="2" fill="currentColor"/>
<rect x="0" y="1376" width="1716" height="2" fill="currentColor"/>
<rect x="0" y="1394" width="1716" height="2" fill="currentColor"/>
<rect x="0" y="1414" width="1716" height="2" fill="currentColor"/>
<rect x="0" y="1432" width="1716" height="2" fill="currentColor"/>
<rect x="0" y="1450" width="1716" height="2" fill="currentColor"/>
<rect x="0" y="1470" width="1716" height="2" fill="currentColor"/>
<rect x="0" y="1488" width="1716" height="2" fill="currentColor"/>
<rect x="0" y="1506" width="1716" height="2" fill="currentColor"/>
<rect x="0" y="1526" width="1716" height="2" fill="currentColor"/>
<rect x="0" y="1544" width="1716" height="2" fill="currentColor"/>
<rect x="0" y="1562" width="1716" height="2" fill="currentColor"/>
</g>
</svg>
</body></html>
